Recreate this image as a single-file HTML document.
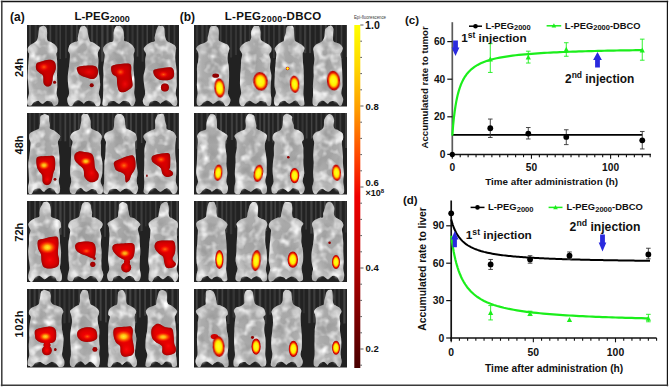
<!DOCTYPE html>
<html><head><meta charset="utf-8"><style>
html,body{margin:0;padding:0;background:#fff;width:669px;height:387px;overflow:hidden}
svg{display:block}
text{fill:#111}
</style></head><body>
<svg width="669" height="387" viewBox="0 0 669 387"><defs>
<filter id="bl" x="-20%" y="-20%" width="140%" height="140%"><feGaussianBlur stdDeviation="0.6"/></filter>
<filter id="bl2" x="-50%" y="-50%" width="200%" height="200%"><feGaussianBlur stdDeviation="1.2"/></filter>
<filter id="bl4" x="-50%" y="-50%" width="200%" height="200%"><feGaussianBlur stdDeviation="1.9"/></filter>
<filter id="bl3" x="-50%" y="-50%" width="200%" height="200%"><feGaussianBlur stdDeviation="2.2"/></filter>
<radialGradient id="mg" cx="50%" cy="50%" r="55%"><stop offset="0" stop-color="#a2a2a2"/><stop offset="0.6" stop-color="#adadad"/><stop offset="0.9" stop-color="#c6c6c6"/><stop offset="1" stop-color="#bababa"/></radialGradient>
<radialGradient id="hr" cx="50%" cy="50%" r="50%"><stop offset="0" stop-color="#ff1010" stop-opacity="0.8"/><stop offset="0.5" stop-color="#ff0505" stop-opacity="0.4"/><stop offset="1" stop-color="#ff0000" stop-opacity="0"/></radialGradient>
<filter id="texw" x="0" y="0" width="100%" height="100%"><feTurbulence type="fractalNoise" baseFrequency="0.11" numOctaves="2" seed="4" result="n"/><feColorMatrix in="n" type="matrix" values="0 0 0 0 1  0 0 0 0 1  0 0 0 0 1  0 0 0 -2.4 1.3" result="w"/><feComposite in="w" in2="SourceAlpha" operator="in"/><feGaussianBlur stdDeviation="0.4"/></filter>
<filter id="texd" x="0" y="0" width="100%" height="100%"><feTurbulence type="fractalNoise" baseFrequency="0.09" numOctaves="2" seed="9" result="n"/><feColorMatrix in="n" type="matrix" values="0 0 0 0 0.3  0 0 0 0 0.3  0 0 0 0 0.3  0 0 0 -2.0 1.05" result="w"/><feComposite in="w" in2="SourceAlpha" operator="in"/><feGaussianBlur stdDeviation="0.5"/></filter>
<radialGradient id="ho" cx="50%" cy="50%" r="50%"><stop offset="0" stop-color="#ff8c10"/><stop offset="0.45" stop-color="#ff5000" stop-opacity="0.7"/><stop offset="1" stop-color="#ff2000" stop-opacity="0"/></radialGradient>
<radialGradient id="hy" cx="50%" cy="50%" r="50%"><stop offset="0" stop-color="#ffe830"/><stop offset="0.3" stop-color="#ffc410"/><stop offset="0.6" stop-color="#ff7000" stop-opacity="0.75"/><stop offset="1" stop-color="#ff2000" stop-opacity="0"/></radialGradient>
<radialGradient id="bg" cx="50%" cy="50%" r="50%"><stop offset="0" stop-color="#ffff20"/><stop offset="0.48" stop-color="#fff200"/><stop offset="0.64" stop-color="#ffa000"/><stop offset="0.8" stop-color="#ee1000"/><stop offset="1" stop-color="#a00000"/></radialGradient>
<linearGradient id="cb" x1="0" y1="0" x2="0" y2="1"><stop offset="0" stop-color="#ffff00"/><stop offset="0.12" stop-color="#ffd800"/><stop offset="0.25" stop-color="#ff9a00"/><stop offset="0.38" stop-color="#ff4800"/><stop offset="0.5" stop-color="#f00000"/><stop offset="0.65" stop-color="#c80000"/><stop offset="0.8" stop-color="#900000"/><stop offset="1" stop-color="#480000"/></linearGradient>
<clipPath id="ca"><rect x="27" y="0" width="152" height="387"/></clipPath>
<clipPath id="cbp"><rect x="194" y="0" width="153" height="387"/></clipPath>
</defs>
<g clip-path="url(#ca)">
<rect x="27" y="25" width="152" height="81.5" fill="#222"/>
<rect x="29.0" y="25" width="2.0" height="26.0" fill="#424242" filter="url(#bl)"/>
<rect x="34.7" y="25" width="2.1" height="25.3" fill="#363636" filter="url(#bl)"/>
<rect x="38.9" y="25" width="1.7" height="27.3" fill="#363636" filter="url(#bl)"/>
<rect x="44.7" y="25" width="2.0" height="31.2" fill="#363636" filter="url(#bl)"/>
<rect x="49.5" y="25" width="1.7" height="26.3" fill="#424242" filter="url(#bl)"/>
<rect x="55.2" y="25" width="2.2" height="32.7" fill="#363636" filter="url(#bl)"/>
<rect x="59.5" y="25" width="1.5" height="34.0" fill="#3c3c3c" filter="url(#bl)"/>
<rect x="65.0" y="25" width="1.9" height="33.2" fill="#363636" filter="url(#bl)"/>
<rect x="70.6" y="25" width="2.2" height="29.7" fill="#3c3c3c" filter="url(#bl)"/>
<rect x="76.0" y="25" width="1.9" height="35.9" fill="#3c3c3c" filter="url(#bl)"/>
<rect x="81.6" y="25" width="1.5" height="30.5" fill="#424242" filter="url(#bl)"/>
<rect x="86.2" y="25" width="1.9" height="32.1" fill="#3c3c3c" filter="url(#bl)"/>
<rect x="90.9" y="25" width="2.3" height="31.5" fill="#3c3c3c" filter="url(#bl)"/>
<rect x="95.9" y="25" width="2.0" height="35.5" fill="#363636" filter="url(#bl)"/>
<rect x="101.2" y="25" width="2.3" height="36.6" fill="#424242" filter="url(#bl)"/>
<rect x="106.5" y="25" width="2.1" height="28.4" fill="#424242" filter="url(#bl)"/>
<rect x="111.6" y="25" width="2.0" height="33.2" fill="#3c3c3c" filter="url(#bl)"/>
<rect x="116.1" y="25" width="1.7" height="26.0" fill="#3c3c3c" filter="url(#bl)"/>
<rect x="121.1" y="25" width="2.4" height="25.5" fill="#3c3c3c" filter="url(#bl)"/>
<rect x="126.6" y="25" width="2.3" height="24.7" fill="#363636" filter="url(#bl)"/>
<rect x="131.4" y="25" width="2.3" height="25.0" fill="#363636" filter="url(#bl)"/>
<rect x="136.6" y="25" width="1.8" height="31.6" fill="#424242" filter="url(#bl)"/>
<rect x="141.7" y="25" width="2.0" height="36.7" fill="#363636" filter="url(#bl)"/>
<rect x="146.4" y="25" width="1.6" height="31.0" fill="#424242" filter="url(#bl)"/>
<rect x="152.1" y="25" width="1.8" height="27.7" fill="#363636" filter="url(#bl)"/>
<rect x="157.4" y="25" width="1.8" height="36.2" fill="#363636" filter="url(#bl)"/>
<rect x="163.1" y="25" width="1.8" height="35.1" fill="#363636" filter="url(#bl)"/>
<rect x="167.9" y="25" width="2.1" height="25.7" fill="#3c3c3c" filter="url(#bl)"/>
<rect x="173.6" y="25" width="1.7" height="32.2" fill="#3c3c3c" filter="url(#bl)"/>
<path id="m1" d="M42.50,26.00 C43.02,25.90 43.60,25.65 44.23,25.98 C44.86,26.32 45.80,26.94 46.27,27.99 C46.75,29.04 46.95,30.75 47.07,32.29 C47.18,33.83 46.87,35.82 46.98,37.24 C47.09,38.65 47.10,39.97 47.73,40.77 C48.36,41.58 49.49,41.32 50.76,42.05 C52.04,42.78 54.32,44.20 55.38,45.16 C56.44,46.12 56.84,46.70 57.13,47.79 C57.43,48.88 57.31,50.66 57.16,51.69 C57.00,52.72 56.23,52.71 56.20,53.97 C56.17,55.23 56.80,56.99 56.98,59.25 C57.16,61.50 57.27,64.82 57.28,67.50 C57.29,70.19 57.01,72.33 57.03,75.36 C57.04,78.38 57.46,82.64 57.37,85.65 C57.28,88.67 56.31,91.11 56.47,93.45 C56.64,95.78 58.21,97.81 58.36,99.66 C58.51,101.52 58.17,103.60 57.36,104.58 C56.55,105.55 54.42,105.99 53.50,105.52 C52.58,105.04 52.87,102.53 51.86,101.72 C50.84,100.91 48.63,100.56 47.40,100.67 C46.16,100.78 45.21,101.88 44.43,102.40 C43.65,102.92 43.35,103.73 42.70,103.79 C42.05,103.86 41.33,103.31 40.56,102.78 C39.79,102.26 39.23,100.76 38.09,100.66 C36.95,100.55 34.89,101.33 33.73,102.15 C32.57,102.97 32.14,105.18 31.10,105.59 C30.07,106.01 28.16,105.56 27.53,104.63 C26.89,103.70 27.06,101.91 27.30,100.03 C27.54,98.15 28.79,95.78 28.96,93.36 C29.13,90.94 28.57,88.44 28.35,85.51 C28.13,82.58 27.68,78.79 27.63,75.79 C27.59,72.80 27.91,70.19 28.10,67.52 C28.29,64.85 28.58,62.02 28.76,59.77 C28.94,57.53 29.32,55.38 29.19,54.03 C29.07,52.68 28.22,52.66 27.99,51.69 C27.76,50.72 27.42,49.32 27.82,48.21 C28.21,47.10 29.37,45.92 30.37,45.04 C31.37,44.16 32.79,43.65 33.82,42.92 C34.86,42.18 35.91,41.55 36.58,40.63 C37.24,39.71 37.47,38.77 37.81,37.39 C38.16,36.02 38.40,33.94 38.65,32.38 C38.91,30.82 38.93,29.00 39.34,28.04 C39.74,27.07 40.57,26.92 41.09,26.58 C41.62,26.24 41.98,26.10 42.50,26.00Z" fill="url(#mg)" filter="url(#bl)"/>
<ellipse cx="42.5" cy="33.1" rx="3.6" ry="5.7" fill="#dcdcdc" opacity="0.7" filter="url(#bl2)"/>
<ellipse cx="33.8" cy="49.5" rx="3.6" ry="4.9" fill="#e6e6e6" opacity="0.6" filter="url(#bl2)"/>
<ellipse cx="51.6" cy="49.5" rx="3.6" ry="4.9" fill="#e6e6e6" opacity="0.6" filter="url(#bl2)"/>
<ellipse cx="32.9" cy="98.4" rx="3.6" ry="4.1" fill="#ececec" opacity="0.7" filter="url(#bl2)"/>
<ellipse cx="52.5" cy="98.4" rx="3.6" ry="4.1" fill="#ececec" opacity="0.7" filter="url(#bl2)"/>
<path id="m2" d="M83.30,26.00 C83.91,25.91 84.27,25.62 84.89,26.08 C85.51,26.54 86.55,27.72 87.01,28.76 C87.47,29.81 87.34,30.89 87.64,32.37 C87.94,33.84 88.42,36.13 88.82,37.60 C89.21,39.07 89.41,40.39 90.02,41.19 C90.64,41.98 91.34,41.69 92.52,42.36 C93.70,43.03 95.84,44.32 97.11,45.22 C98.38,46.11 99.89,46.75 100.13,47.72 C100.37,48.68 98.97,49.95 98.56,51.01 C98.15,52.06 97.70,52.65 97.68,54.06 C97.66,55.46 98.37,57.19 98.45,59.46 C98.53,61.72 98.05,64.90 98.18,67.63 C98.32,70.35 98.95,72.80 99.28,75.79 C99.61,78.77 100.25,82.58 100.17,85.53 C100.10,88.48 98.78,91.18 98.83,93.48 C98.88,95.79 100.29,97.39 100.45,99.35 C100.61,101.32 100.48,104.14 99.79,105.27 C99.09,106.39 97.39,106.68 96.28,106.09 C95.17,105.49 94.44,102.59 93.14,101.69 C91.85,100.80 89.85,100.63 88.51,100.72 C87.18,100.80 85.93,101.66 85.14,102.17 C84.36,102.69 84.28,103.78 83.80,103.79 C83.32,103.81 83.11,102.87 82.27,102.27 C81.44,101.66 80.01,100.29 78.79,100.16 C77.57,100.02 76.03,100.53 74.95,101.45 C73.87,102.37 73.30,105.02 72.30,105.67 C71.29,106.32 69.76,106.39 68.92,105.36 C68.07,104.32 67.19,101.47 67.22,99.45 C67.26,97.42 68.95,95.63 69.10,93.22 C69.26,90.81 68.40,87.82 68.17,84.99 C67.94,82.15 67.61,79.08 67.72,76.20 C67.83,73.32 68.49,70.50 68.83,67.69 C69.18,64.87 69.63,61.61 69.79,59.30 C69.95,56.99 70.04,55.24 69.78,53.84 C69.52,52.45 68.42,51.83 68.22,50.94 C68.01,50.04 68.26,49.56 68.57,48.49 C68.88,47.42 69.09,45.59 70.06,44.51 C71.03,43.42 73.16,42.52 74.41,41.99 C75.67,41.45 77.00,42.06 77.58,41.30 C78.15,40.54 77.63,38.92 77.86,37.42 C78.10,35.92 78.64,33.75 78.99,32.29 C79.35,30.83 79.61,29.62 79.98,28.67 C80.36,27.72 80.66,27.03 81.22,26.59 C81.77,26.14 82.69,26.09 83.30,26.00Z" fill="url(#mg)" filter="url(#bl)"/>
<ellipse cx="83.3" cy="33.1" rx="3.8" ry="5.7" fill="#dcdcdc" opacity="0.7" filter="url(#bl2)"/>
<ellipse cx="74.3" cy="49.5" rx="3.8" ry="4.9" fill="#e6e6e6" opacity="0.6" filter="url(#bl2)"/>
<ellipse cx="93.3" cy="49.5" rx="3.8" ry="4.9" fill="#e6e6e6" opacity="0.6" filter="url(#bl2)"/>
<ellipse cx="73.4" cy="98.4" rx="3.8" ry="4.1" fill="#ececec" opacity="0.7" filter="url(#bl2)"/>
<ellipse cx="94.2" cy="98.4" rx="3.8" ry="4.1" fill="#ececec" opacity="0.7" filter="url(#bl2)"/>
<path id="m3" d="M118.30,26.00 C118.95,25.95 119.43,25.58 120.14,26.05 C120.85,26.53 121.96,27.76 122.55,28.87 C123.13,29.98 123.36,31.28 123.63,32.71 C123.89,34.14 124.05,36.10 124.15,37.46 C124.26,38.82 123.69,40.10 124.27,40.85 C124.84,41.61 126.38,41.36 127.61,41.99 C128.85,42.62 130.57,43.59 131.68,44.63 C132.79,45.68 133.78,47.14 134.26,48.24 C134.74,49.34 134.66,50.16 134.55,51.21 C134.43,52.26 133.68,53.15 133.57,54.54 C133.47,55.93 133.93,57.40 133.91,59.55 C133.89,61.70 133.43,64.79 133.46,67.44 C133.48,70.09 133.84,72.39 134.06,75.44 C134.28,78.49 134.73,82.75 134.76,85.73 C134.79,88.72 134.13,90.96 134.24,93.35 C134.35,95.74 135.51,98.11 135.43,100.07 C135.35,102.04 134.44,104.15 133.76,105.15 C133.08,106.15 132.19,106.63 131.33,106.07 C130.47,105.51 129.88,102.64 128.60,101.77 C127.31,100.90 124.96,100.68 123.61,100.86 C122.26,101.05 121.29,102.39 120.48,102.88 C119.68,103.37 119.50,103.86 118.80,103.79 C118.10,103.73 117.16,102.95 116.31,102.49 C115.46,102.03 114.92,101.19 113.71,101.02 C112.50,100.85 110.11,100.73 109.04,101.47 C107.96,102.21 108.30,104.83 107.26,105.46 C106.22,106.10 103.55,106.19 102.80,105.29 C102.06,104.40 102.75,102.06 102.82,100.10 C102.88,98.14 103.12,95.97 103.18,93.52 C103.25,91.07 103.12,88.44 103.19,85.39 C103.26,82.35 103.62,78.18 103.62,75.26 C103.63,72.33 103.09,70.37 103.19,67.85 C103.30,65.32 103.99,62.34 104.23,60.10 C104.48,57.86 104.83,55.95 104.66,54.43 C104.50,52.91 103.45,52.08 103.22,50.98 C102.99,49.89 102.90,48.86 103.27,47.86 C103.64,46.85 104.35,45.85 105.43,44.93 C106.52,44.01 108.51,42.98 109.78,42.36 C111.05,41.75 112.46,42.09 113.08,41.23 C113.70,40.37 113.42,38.59 113.50,37.19 C113.59,35.78 113.40,34.20 113.60,32.81 C113.79,31.41 114.22,29.88 114.67,28.81 C115.11,27.73 115.65,26.82 116.25,26.35 C116.86,25.88 117.65,26.05 118.30,26.00Z" fill="url(#mg)" filter="url(#bl)"/>
<ellipse cx="118.3" cy="33.1" rx="3.8" ry="5.7" fill="#dcdcdc" opacity="0.7" filter="url(#bl2)"/>
<ellipse cx="109.3" cy="49.5" rx="3.8" ry="4.9" fill="#e6e6e6" opacity="0.6" filter="url(#bl2)"/>
<ellipse cx="128.3" cy="49.5" rx="3.8" ry="4.9" fill="#e6e6e6" opacity="0.6" filter="url(#bl2)"/>
<ellipse cx="108.4" cy="98.4" rx="3.8" ry="4.1" fill="#ececec" opacity="0.7" filter="url(#bl2)"/>
<ellipse cx="129.2" cy="98.4" rx="3.8" ry="4.1" fill="#ececec" opacity="0.7" filter="url(#bl2)"/>
<path id="m4" d="M160.30,26.00 C160.96,25.98 161.81,25.51 162.45,25.86 C163.09,26.21 163.79,26.96 164.13,28.10 C164.48,29.24 164.36,31.19 164.54,32.70 C164.73,34.22 164.88,35.84 165.25,37.20 C165.63,38.57 166.08,40.02 166.79,40.89 C167.50,41.77 168.26,41.75 169.53,42.46 C170.79,43.16 173.30,44.18 174.39,45.12 C175.48,46.06 175.88,47.13 176.09,48.11 C176.29,49.10 175.75,50.05 175.62,51.05 C175.49,52.04 175.37,52.60 175.33,54.08 C175.28,55.56 175.21,57.67 175.38,59.93 C175.54,62.20 176.12,65.02 176.32,67.65 C176.52,70.28 176.53,72.75 176.58,75.73 C176.63,78.71 176.76,82.59 176.62,85.53 C176.47,88.48 175.62,90.95 175.72,93.40 C175.82,95.85 177.09,98.22 177.22,100.21 C177.36,102.20 177.19,104.47 176.53,105.36 C175.87,106.25 174.33,106.09 173.26,105.57 C172.20,105.04 171.35,103.10 170.16,102.22 C168.97,101.33 167.52,100.18 166.12,100.24 C164.72,100.29 162.73,101.94 161.76,102.54 C160.79,103.13 160.78,103.83 160.30,103.79 C159.82,103.76 159.71,102.85 158.90,102.34 C158.10,101.83 156.94,100.78 155.48,100.75 C154.02,100.72 151.34,101.29 150.15,102.17 C148.96,103.05 149.37,105.59 148.36,106.01 C147.36,106.42 145.04,105.62 144.12,104.65 C143.20,103.69 142.67,102.04 142.85,100.23 C143.03,98.43 144.97,96.29 145.18,93.80 C145.39,91.32 144.41,88.30 144.13,85.34 C143.86,82.38 143.34,78.99 143.52,76.04 C143.71,73.09 144.96,70.39 145.26,67.64 C145.55,64.89 145.16,61.82 145.28,59.53 C145.41,57.24 146.18,55.35 146.03,53.90 C145.87,52.44 144.71,51.78 144.36,50.80 C144.01,49.82 143.50,49.02 143.93,48.00 C144.35,46.98 145.78,45.61 146.91,44.68 C148.04,43.76 149.39,43.02 150.68,42.45 C151.98,41.89 154.03,42.10 154.67,41.30 C155.32,40.51 154.34,39.20 154.54,37.68 C154.75,36.16 155.52,33.69 155.93,32.19 C156.33,30.69 156.56,29.71 156.99,28.67 C157.41,27.64 157.93,26.41 158.48,25.96 C159.03,25.52 159.64,26.02 160.30,26.00Z" fill="url(#mg)" filter="url(#bl)"/>
<ellipse cx="160.3" cy="33.1" rx="3.9" ry="5.7" fill="#dcdcdc" opacity="0.7" filter="url(#bl2)"/>
<ellipse cx="150.5" cy="49.5" rx="3.9" ry="4.9" fill="#e6e6e6" opacity="0.6" filter="url(#bl2)"/>
<ellipse cx="170.1" cy="49.5" rx="3.9" ry="4.9" fill="#e6e6e6" opacity="0.6" filter="url(#bl2)"/>
<ellipse cx="149.5" cy="98.4" rx="3.9" ry="4.1" fill="#ececec" opacity="0.7" filter="url(#bl2)"/>
<ellipse cx="171.1" cy="98.4" rx="3.9" ry="4.1" fill="#ececec" opacity="0.7" filter="url(#bl2)"/>
<g filter="url(#texw)"><use href="#m1" fill="#000" filter="none"/><use href="#m2" fill="#000" filter="none"/><use href="#m3" fill="#000" filter="none"/><use href="#m4" fill="#000" filter="none"/></g>
<g filter="url(#texd)"><use href="#m1" fill="#000" filter="none"/><use href="#m2" fill="#000" filter="none"/><use href="#m3" fill="#000" filter="none"/><use href="#m4" fill="#000" filter="none"/></g>
<clipPath id="bc5"><path d="M36.30,63.90 C37.00,62.60 38.42,62.50 40.50,61.80 C42.58,61.10 46.63,59.87 48.80,59.70 C50.97,59.53 52.37,60.02 53.50,60.80 C54.63,61.58 55.25,62.93 55.60,64.40 C55.95,65.87 56.03,67.68 55.60,69.60 C55.17,71.52 53.52,74.07 53.00,75.90 C52.48,77.73 52.85,79.03 52.50,80.60 C52.15,82.17 51.87,84.33 50.90,85.30 C49.93,86.27 47.92,86.73 46.70,86.40 C45.48,86.07 44.20,85.05 43.60,83.30 C43.00,81.55 43.80,77.65 43.10,75.90 C42.40,74.15 40.53,73.85 39.40,72.80 C38.27,71.75 36.82,71.08 36.30,69.60 C35.78,68.12 35.60,65.20 36.30,63.90Z"/><ellipse cx="54.6" cy="82.2" rx="1.5" ry="1.5"/></clipPath>
<g fill="#780000" filter="url(#bl)"><path d="M36.30,63.90 C37.00,62.60 38.42,62.50 40.50,61.80 C42.58,61.10 46.63,59.87 48.80,59.70 C50.97,59.53 52.37,60.02 53.50,60.80 C54.63,61.58 55.25,62.93 55.60,64.40 C55.95,65.87 56.03,67.68 55.60,69.60 C55.17,71.52 53.52,74.07 53.00,75.90 C52.48,77.73 52.85,79.03 52.50,80.60 C52.15,82.17 51.87,84.33 50.90,85.30 C49.93,86.27 47.92,86.73 46.70,86.40 C45.48,86.07 44.20,85.05 43.60,83.30 C43.00,81.55 43.80,77.65 43.10,75.90 C42.40,74.15 40.53,73.85 39.40,72.80 C38.27,71.75 36.82,71.08 36.30,69.60 C35.78,68.12 35.60,65.20 36.30,63.90Z"/><ellipse cx="54.6" cy="82.2" rx="1.5" ry="1.5"/></g>
<g clip-path="url(#bc5)"><g fill="#cc0000" filter="url(#bl4)"><path d="M36.30,63.90 C37.00,62.60 38.42,62.50 40.50,61.80 C42.58,61.10 46.63,59.87 48.80,59.70 C50.97,59.53 52.37,60.02 53.50,60.80 C54.63,61.58 55.25,62.93 55.60,64.40 C55.95,65.87 56.03,67.68 55.60,69.60 C55.17,71.52 53.52,74.07 53.00,75.90 C52.48,77.73 52.85,79.03 52.50,80.60 C52.15,82.17 51.87,84.33 50.90,85.30 C49.93,86.27 47.92,86.73 46.70,86.40 C45.48,86.07 44.20,85.05 43.60,83.30 C43.00,81.55 43.80,77.65 43.10,75.90 C42.40,74.15 40.53,73.85 39.40,72.80 C38.27,71.75 36.82,71.08 36.30,69.60 C35.78,68.12 35.60,65.20 36.30,63.90Z"/><ellipse cx="54.6" cy="82.2" rx="1.5" ry="1.5"/></g></g>
<ellipse cx="44" cy="67" rx="7" ry="5" fill="url(#hr)" opacity="1" clip-path="url(#bc5)"/>
<ellipse cx="44" cy="67" rx="4.2" ry="3.5" fill="url(#ho)" opacity="0.6" clip-path="url(#bc5)"/>
<clipPath id="bc6"><path d="M77.10,67.60 C77.88,66.65 80.03,66.35 82.30,66.00 C84.57,65.65 88.43,65.42 90.70,65.50 C92.97,65.58 94.68,65.63 95.90,66.50 C97.12,67.37 97.82,69.13 98.00,70.70 C98.18,72.27 97.87,74.52 97.00,75.90 C96.13,77.28 94.55,78.73 92.80,79.00 C91.05,79.27 88.60,78.18 86.50,77.50 C84.40,76.82 81.68,75.87 80.20,74.90 C78.72,73.93 78.12,72.92 77.60,71.70 C77.08,70.48 76.32,68.55 77.10,67.60Z"/><ellipse cx="91.7" cy="85.3" rx="2" ry="2"/></clipPath>
<g fill="#780000" filter="url(#bl)"><path d="M77.10,67.60 C77.88,66.65 80.03,66.35 82.30,66.00 C84.57,65.65 88.43,65.42 90.70,65.50 C92.97,65.58 94.68,65.63 95.90,66.50 C97.12,67.37 97.82,69.13 98.00,70.70 C98.18,72.27 97.87,74.52 97.00,75.90 C96.13,77.28 94.55,78.73 92.80,79.00 C91.05,79.27 88.60,78.18 86.50,77.50 C84.40,76.82 81.68,75.87 80.20,74.90 C78.72,73.93 78.12,72.92 77.60,71.70 C77.08,70.48 76.32,68.55 77.10,67.60Z"/><ellipse cx="91.7" cy="85.3" rx="2" ry="2"/></g>
<g clip-path="url(#bc6)"><g fill="#cc0000" filter="url(#bl4)"><path d="M77.10,67.60 C77.88,66.65 80.03,66.35 82.30,66.00 C84.57,65.65 88.43,65.42 90.70,65.50 C92.97,65.58 94.68,65.63 95.90,66.50 C97.12,67.37 97.82,69.13 98.00,70.70 C98.18,72.27 97.87,74.52 97.00,75.90 C96.13,77.28 94.55,78.73 92.80,79.00 C91.05,79.27 88.60,78.18 86.50,77.50 C84.40,76.82 81.68,75.87 80.20,74.90 C78.72,73.93 78.12,72.92 77.60,71.70 C77.08,70.48 76.32,68.55 77.10,67.60Z"/><ellipse cx="91.7" cy="85.3" rx="2" ry="2"/></g></g>
<ellipse cx="89" cy="72" rx="6" ry="4" fill="url(#hr)" opacity="0.7" clip-path="url(#bc6)"/>
<clipPath id="bc7"><path d="M111.40,66.60 C111.88,65.53 112.47,65.38 114.30,64.90 C116.13,64.42 119.88,63.90 122.40,63.70 C124.92,63.50 127.93,63.22 129.40,63.70 C130.87,64.18 130.90,64.95 131.20,66.60 C131.50,68.25 131.02,71.08 131.20,73.60 C131.38,76.12 132.12,79.57 132.30,81.70 C132.48,83.83 132.97,85.03 132.30,86.40 C131.63,87.77 129.75,88.93 128.30,89.90 C126.85,90.87 125.15,92.02 123.60,92.20 C122.05,92.38 120.07,92.35 119.00,91.00 C117.93,89.65 117.60,86.42 117.20,84.10 C116.80,81.78 117.28,78.65 116.60,77.10 C115.92,75.55 113.97,75.77 113.10,74.80 C112.23,73.83 111.68,72.67 111.40,71.30 C111.12,69.93 110.92,67.67 111.40,66.60Z"/></clipPath>
<g fill="#780000" filter="url(#bl)"><path d="M111.40,66.60 C111.88,65.53 112.47,65.38 114.30,64.90 C116.13,64.42 119.88,63.90 122.40,63.70 C124.92,63.50 127.93,63.22 129.40,63.70 C130.87,64.18 130.90,64.95 131.20,66.60 C131.50,68.25 131.02,71.08 131.20,73.60 C131.38,76.12 132.12,79.57 132.30,81.70 C132.48,83.83 132.97,85.03 132.30,86.40 C131.63,87.77 129.75,88.93 128.30,89.90 C126.85,90.87 125.15,92.02 123.60,92.20 C122.05,92.38 120.07,92.35 119.00,91.00 C117.93,89.65 117.60,86.42 117.20,84.10 C116.80,81.78 117.28,78.65 116.60,77.10 C115.92,75.55 113.97,75.77 113.10,74.80 C112.23,73.83 111.68,72.67 111.40,71.30 C111.12,69.93 110.92,67.67 111.40,66.60Z"/></g>
<g clip-path="url(#bc7)"><g fill="#cc0000" filter="url(#bl4)"><path d="M111.40,66.60 C111.88,65.53 112.47,65.38 114.30,64.90 C116.13,64.42 119.88,63.90 122.40,63.70 C124.92,63.50 127.93,63.22 129.40,63.70 C130.87,64.18 130.90,64.95 131.20,66.60 C131.50,68.25 131.02,71.08 131.20,73.60 C131.38,76.12 132.12,79.57 132.30,81.70 C132.48,83.83 132.97,85.03 132.30,86.40 C131.63,87.77 129.75,88.93 128.30,89.90 C126.85,90.87 125.15,92.02 123.60,92.20 C122.05,92.38 120.07,92.35 119.00,91.00 C117.93,89.65 117.60,86.42 117.20,84.10 C116.80,81.78 117.28,78.65 116.60,77.10 C115.92,75.55 113.97,75.77 113.10,74.80 C112.23,73.83 111.68,72.67 111.40,71.30 C111.12,69.93 110.92,67.67 111.40,66.60Z"/></g></g>
<ellipse cx="120.5" cy="72" rx="6" ry="5" fill="url(#hr)" opacity="1" clip-path="url(#bc7)"/>
<ellipse cx="120.5" cy="72" rx="4.2" ry="3.5" fill="url(#ho)" opacity="0.7" clip-path="url(#bc7)"/>
<ellipse cx="125" cy="84" rx="4" ry="5" fill="url(#hr)" opacity="0.8" clip-path="url(#bc7)"/>
<clipPath id="bc8"><path d="M153.80,70.10 C154.78,69.13 156.98,68.88 159.70,68.40 C162.42,67.92 167.78,66.92 170.10,67.20 C172.42,67.48 173.02,68.45 173.60,70.10 C174.18,71.75 174.37,75.45 173.60,77.10 C172.83,78.75 171.13,79.52 169.00,80.00 C166.87,80.48 162.93,80.38 160.80,80.00 C158.67,79.62 157.37,78.67 156.20,77.70 C155.03,76.73 154.20,75.47 153.80,74.20 C153.40,72.93 152.82,71.07 153.80,70.10Z"/><ellipse cx="164.9" cy="87.6" rx="4" ry="4"/></clipPath>
<g fill="#780000" filter="url(#bl)"><path d="M153.80,70.10 C154.78,69.13 156.98,68.88 159.70,68.40 C162.42,67.92 167.78,66.92 170.10,67.20 C172.42,67.48 173.02,68.45 173.60,70.10 C174.18,71.75 174.37,75.45 173.60,77.10 C172.83,78.75 171.13,79.52 169.00,80.00 C166.87,80.48 162.93,80.38 160.80,80.00 C158.67,79.62 157.37,78.67 156.20,77.70 C155.03,76.73 154.20,75.47 153.80,74.20 C153.40,72.93 152.82,71.07 153.80,70.10Z"/><ellipse cx="164.9" cy="87.6" rx="4" ry="4"/></g>
<g clip-path="url(#bc8)"><g fill="#cc0000" filter="url(#bl4)"><path d="M153.80,70.10 C154.78,69.13 156.98,68.88 159.70,68.40 C162.42,67.92 167.78,66.92 170.10,67.20 C172.42,67.48 173.02,68.45 173.60,70.10 C174.18,71.75 174.37,75.45 173.60,77.10 C172.83,78.75 171.13,79.52 169.00,80.00 C166.87,80.48 162.93,80.38 160.80,80.00 C158.67,79.62 157.37,78.67 156.20,77.70 C155.03,76.73 154.20,75.47 153.80,74.20 C153.40,72.93 152.82,71.07 153.80,70.10Z"/><ellipse cx="164.9" cy="87.6" rx="4" ry="4"/></g></g>
<ellipse cx="163.5" cy="74.5" rx="6" ry="4" fill="url(#hr)" opacity="1" clip-path="url(#bc8)"/>
<ellipse cx="163.5" cy="74.5" rx="4.2" ry="2.8" fill="url(#ho)" opacity="0.6" clip-path="url(#bc8)"/>
</g>
<g clip-path="url(#ca)">
<rect x="27" y="113" width="152" height="81.5" fill="#222"/>
<rect x="29.0" y="113" width="1.9" height="27.6" fill="#363636" filter="url(#bl)"/>
<rect x="33.7" y="113" width="1.5" height="29.5" fill="#363636" filter="url(#bl)"/>
<rect x="38.8" y="113" width="1.8" height="31.7" fill="#424242" filter="url(#bl)"/>
<rect x="43.2" y="113" width="2.1" height="30.1" fill="#3c3c3c" filter="url(#bl)"/>
<rect x="48.5" y="113" width="2.0" height="27.9" fill="#363636" filter="url(#bl)"/>
<rect x="53.5" y="113" width="1.6" height="32.7" fill="#3c3c3c" filter="url(#bl)"/>
<rect x="59.2" y="113" width="2.1" height="28.1" fill="#363636" filter="url(#bl)"/>
<rect x="64.4" y="113" width="1.8" height="28.3" fill="#424242" filter="url(#bl)"/>
<rect x="69.2" y="113" width="1.7" height="34.1" fill="#3c3c3c" filter="url(#bl)"/>
<rect x="73.6" y="113" width="2.4" height="32.8" fill="#424242" filter="url(#bl)"/>
<rect x="78.0" y="113" width="1.7" height="34.3" fill="#3c3c3c" filter="url(#bl)"/>
<rect x="82.6" y="113" width="2.1" height="32.4" fill="#424242" filter="url(#bl)"/>
<rect x="86.9" y="113" width="1.8" height="28.5" fill="#3c3c3c" filter="url(#bl)"/>
<rect x="92.4" y="113" width="2.2" height="36.2" fill="#363636" filter="url(#bl)"/>
<rect x="96.8" y="113" width="2.1" height="35.3" fill="#3c3c3c" filter="url(#bl)"/>
<rect x="101.7" y="113" width="2.2" height="24.9" fill="#424242" filter="url(#bl)"/>
<rect x="107.4" y="113" width="2.2" height="34.7" fill="#363636" filter="url(#bl)"/>
<rect x="111.9" y="113" width="1.8" height="34.6" fill="#363636" filter="url(#bl)"/>
<rect x="116.3" y="113" width="1.8" height="26.0" fill="#3c3c3c" filter="url(#bl)"/>
<rect x="120.9" y="113" width="1.9" height="32.2" fill="#363636" filter="url(#bl)"/>
<rect x="125.6" y="113" width="1.9" height="35.7" fill="#3c3c3c" filter="url(#bl)"/>
<rect x="130.0" y="113" width="1.9" height="34.6" fill="#424242" filter="url(#bl)"/>
<rect x="135.2" y="113" width="1.9" height="36.1" fill="#3c3c3c" filter="url(#bl)"/>
<rect x="140.9" y="113" width="1.5" height="30.0" fill="#424242" filter="url(#bl)"/>
<rect x="146.3" y="113" width="2.0" height="28.0" fill="#3c3c3c" filter="url(#bl)"/>
<rect x="151.1" y="113" width="2.3" height="34.9" fill="#424242" filter="url(#bl)"/>
<rect x="156.8" y="113" width="2.2" height="25.0" fill="#424242" filter="url(#bl)"/>
<rect x="162.5" y="113" width="2.0" height="26.9" fill="#3c3c3c" filter="url(#bl)"/>
<rect x="168.1" y="113" width="2.0" height="24.6" fill="#363636" filter="url(#bl)"/>
<rect x="173.5" y="113" width="2.0" height="27.4" fill="#424242" filter="url(#bl)"/>
<rect x="177.7" y="113" width="1.9" height="35.9" fill="#3c3c3c" filter="url(#bl)"/>
<path id="m9" d="M44.80,114.00 C45.41,113.99 46.04,114.35 46.73,114.72 C47.42,115.08 48.57,115.16 48.93,116.17 C49.30,117.19 48.78,119.28 48.93,120.82 C49.08,122.36 49.66,124.16 49.83,125.42 C49.99,126.69 49.28,127.59 49.94,128.41 C50.60,129.24 52.56,129.56 53.80,130.37 C55.04,131.18 56.30,132.27 57.37,133.27 C58.43,134.26 59.96,135.29 60.21,136.35 C60.46,137.40 59.23,138.59 58.85,139.61 C58.46,140.62 57.91,141.10 57.88,142.42 C57.85,143.74 58.45,145.25 58.68,147.53 C58.92,149.81 59.13,153.47 59.28,156.11 C59.42,158.75 59.42,160.54 59.55,163.37 C59.68,166.20 60.17,170.15 60.03,173.10 C59.90,176.04 58.72,178.64 58.72,181.04 C58.73,183.44 59.94,185.54 60.06,187.50 C60.18,189.46 60.03,191.79 59.45,192.81 C58.86,193.83 57.50,194.15 56.55,193.60 C55.59,193.04 54.92,190.39 53.70,189.48 C52.48,188.57 50.57,188.01 49.25,188.12 C47.94,188.23 46.66,189.51 45.83,190.12 C44.99,190.74 44.88,191.71 44.25,191.79 C43.62,191.88 42.87,191.18 42.07,190.64 C41.27,190.10 40.75,188.77 39.44,188.56 C38.14,188.36 35.51,188.55 34.25,189.41 C32.99,190.27 32.78,193.08 31.88,193.73 C30.97,194.39 29.47,194.31 28.82,193.32 C28.18,192.33 27.97,189.70 28.00,187.79 C28.04,185.88 28.94,184.19 29.05,181.83 C29.17,179.48 28.81,176.66 28.70,173.67 C28.59,170.67 28.28,166.87 28.40,163.85 C28.52,160.84 29.09,158.31 29.41,155.56 C29.73,152.80 30.12,149.54 30.32,147.33 C30.52,145.12 30.76,143.70 30.62,142.30 C30.47,140.90 29.70,139.93 29.44,138.94 C29.18,137.95 28.91,137.37 29.06,136.38 C29.21,135.40 29.27,134.04 30.35,133.01 C31.44,131.98 34.17,130.90 35.57,130.19 C36.97,129.49 38.04,129.63 38.74,128.80 C39.44,127.96 39.53,126.50 39.78,125.18 C40.03,123.85 40.12,122.31 40.22,120.86 C40.31,119.41 39.90,117.47 40.37,116.45 C40.84,115.44 42.32,115.18 43.06,114.77 C43.80,114.36 44.19,114.01 44.80,114.00Z" fill="url(#mg)" filter="url(#bl)"/>
<ellipse cx="44.8" cy="121.2" rx="3.8" ry="5.7" fill="#dcdcdc" opacity="0.7" filter="url(#bl2)"/>
<ellipse cx="34.8" cy="137.4" rx="3.8" ry="4.9" fill="#e6e6e6" opacity="0.6" filter="url(#bl2)"/>
<ellipse cx="53.7" cy="137.4" rx="3.8" ry="4.9" fill="#e6e6e6" opacity="0.6" filter="url(#bl2)"/>
<ellipse cx="33.9" cy="186.4" rx="3.8" ry="4.1" fill="#ececec" opacity="0.7" filter="url(#bl2)"/>
<ellipse cx="54.6" cy="186.4" rx="3.8" ry="4.1" fill="#ececec" opacity="0.7" filter="url(#bl2)"/>
<path id="m10" d="M85.60,114.00 C86.26,114.06 86.88,113.80 87.41,114.18 C87.95,114.56 88.30,115.25 88.81,116.29 C89.32,117.33 90.15,118.93 90.47,120.42 C90.78,121.91 90.58,123.87 90.72,125.23 C90.87,126.60 90.70,127.76 91.36,128.61 C92.01,129.46 93.37,129.71 94.66,130.34 C95.94,130.97 97.89,131.48 99.06,132.39 C100.24,133.30 101.29,134.65 101.69,135.80 C102.09,136.95 101.64,138.22 101.48,139.29 C101.32,140.36 100.82,140.76 100.74,142.22 C100.66,143.68 100.96,145.83 101.01,148.05 C101.07,150.27 100.83,152.98 101.07,155.54 C101.31,158.09 102.25,160.40 102.45,163.39 C102.65,166.38 102.59,170.44 102.28,173.49 C101.98,176.54 100.50,179.29 100.64,181.69 C100.78,184.09 102.90,185.97 103.12,187.91 C103.35,189.84 102.87,192.31 101.98,193.30 C101.09,194.28 98.81,194.35 97.77,193.82 C96.72,193.29 96.69,190.93 95.71,190.11 C94.72,189.29 93.07,188.76 91.83,188.90 C90.59,189.04 89.18,190.49 88.25,190.97 C87.32,191.45 86.94,191.83 86.25,191.79 C85.56,191.76 84.94,191.39 84.13,190.78 C83.32,190.17 82.54,188.32 81.39,188.13 C80.25,187.95 78.36,188.66 77.26,189.65 C76.16,190.65 75.86,193.54 74.78,194.12 C73.69,194.70 71.59,194.15 70.74,193.12 C69.90,192.09 69.62,190.00 69.71,187.96 C69.80,185.92 71.23,183.29 71.30,180.89 C71.37,178.49 70.23,176.44 70.12,173.59 C70.02,170.73 70.49,166.81 70.65,163.76 C70.81,160.71 70.95,158.01 71.09,155.29 C71.22,152.57 71.21,149.69 71.46,147.45 C71.72,145.21 72.71,143.26 72.61,141.84 C72.51,140.43 71.25,139.87 70.84,138.98 C70.43,138.09 69.87,137.55 70.16,136.51 C70.44,135.47 71.44,133.72 72.57,132.73 C73.70,131.75 75.75,131.25 76.94,130.62 C78.13,129.99 79.09,129.92 79.68,128.95 C80.28,127.98 80.21,126.28 80.51,124.82 C80.82,123.36 81.31,121.61 81.49,120.18 C81.66,118.75 81.24,117.27 81.57,116.22 C81.90,115.16 82.79,114.22 83.46,113.85 C84.13,113.48 84.94,113.94 85.60,114.00Z" fill="url(#mg)" filter="url(#bl)"/>
<ellipse cx="85.6" cy="121.2" rx="3.8" ry="5.7" fill="#dcdcdc" opacity="0.7" filter="url(#bl2)"/>
<ellipse cx="76.8" cy="137.4" rx="3.8" ry="4.9" fill="#e6e6e6" opacity="0.6" filter="url(#bl2)"/>
<ellipse cx="95.7" cy="137.4" rx="3.8" ry="4.9" fill="#e6e6e6" opacity="0.6" filter="url(#bl2)"/>
<ellipse cx="75.9" cy="186.4" rx="3.8" ry="4.1" fill="#ececec" opacity="0.7" filter="url(#bl2)"/>
<ellipse cx="96.6" cy="186.4" rx="3.8" ry="4.1" fill="#ececec" opacity="0.7" filter="url(#bl2)"/>
<path id="m11" d="M119.40,114.00 C119.97,114.04 120.25,113.67 120.97,114.10 C121.69,114.53 123.06,115.57 123.71,116.59 C124.35,117.61 124.59,118.78 124.87,120.21 C125.14,121.65 125.14,123.82 125.38,125.19 C125.62,126.57 125.48,127.64 126.29,128.47 C127.10,129.30 128.76,129.35 130.23,130.15 C131.70,130.95 134.10,132.29 135.10,133.27 C136.11,134.24 135.99,134.94 136.27,136.02 C136.55,137.09 136.93,138.74 136.76,139.71 C136.60,140.69 135.53,140.45 135.28,141.85 C135.04,143.25 135.21,145.79 135.30,148.11 C135.38,150.44 135.62,153.18 135.79,155.78 C135.97,158.39 136.06,160.88 136.36,163.75 C136.66,166.62 137.56,170.06 137.60,172.99 C137.64,175.93 136.50,178.88 136.60,181.38 C136.69,183.87 138.22,185.98 138.17,187.98 C138.12,189.98 137.17,192.49 136.32,193.38 C135.46,194.27 134.12,193.94 133.02,193.34 C131.93,192.74 130.94,190.61 129.74,189.78 C128.55,188.96 127.17,188.29 125.88,188.40 C124.59,188.51 122.90,189.87 122.01,190.44 C121.11,191.01 121.04,191.71 120.50,191.79 C119.96,191.87 119.56,191.41 118.76,190.92 C117.96,190.42 117.15,189.08 115.71,188.83 C114.28,188.58 111.54,188.56 110.15,189.42 C108.77,190.29 108.46,193.44 107.40,194.00 C106.34,194.57 104.45,193.85 103.80,192.79 C103.15,191.74 103.45,189.57 103.51,187.68 C103.57,185.79 104.05,183.85 104.17,181.45 C104.28,179.05 104.13,176.31 104.18,173.28 C104.23,170.25 104.27,166.16 104.46,163.29 C104.66,160.41 105.16,158.56 105.35,156.03 C105.54,153.50 105.50,150.47 105.60,148.10 C105.71,145.74 106.14,143.37 105.98,141.84 C105.82,140.32 104.96,139.86 104.65,138.96 C104.33,138.07 103.94,137.46 104.10,136.49 C104.25,135.52 104.52,134.09 105.58,133.15 C106.63,132.20 109.15,131.55 110.43,130.84 C111.70,130.13 112.61,129.89 113.23,128.88 C113.85,127.88 113.96,126.21 114.16,124.79 C114.36,123.38 114.26,121.74 114.43,120.37 C114.61,118.99 114.71,117.63 115.22,116.55 C115.74,115.46 116.84,114.31 117.53,113.89 C118.23,113.46 118.83,113.96 119.40,114.00Z" fill="url(#mg)" filter="url(#bl)"/>
<ellipse cx="119.4" cy="121.2" rx="4.0" ry="5.7" fill="#dcdcdc" opacity="0.7" filter="url(#bl2)"/>
<ellipse cx="110.6" cy="137.4" rx="4.0" ry="4.9" fill="#e6e6e6" opacity="0.6" filter="url(#bl2)"/>
<ellipse cx="130.4" cy="137.4" rx="4.0" ry="4.9" fill="#e6e6e6" opacity="0.6" filter="url(#bl2)"/>
<ellipse cx="109.6" cy="186.4" rx="4.0" ry="4.1" fill="#ececec" opacity="0.7" filter="url(#bl2)"/>
<ellipse cx="131.4" cy="186.4" rx="4.0" ry="4.1" fill="#ececec" opacity="0.7" filter="url(#bl2)"/>
<path id="m12" d="M160.30,114.00 C161.13,113.91 162.33,113.59 162.98,113.96 C163.62,114.34 163.85,115.14 164.18,116.26 C164.50,117.37 164.57,119.19 164.93,120.65 C165.28,122.10 166.00,123.66 166.30,125.00 C166.60,126.33 166.11,127.75 166.70,128.65 C167.29,129.54 168.63,129.69 169.83,130.34 C171.03,130.99 172.82,131.50 173.88,132.52 C174.95,133.54 175.88,135.37 176.22,136.45 C176.56,137.52 176.06,137.98 175.94,138.99 C175.82,140.01 175.62,141.16 175.50,142.55 C175.38,143.94 175.25,145.21 175.23,147.34 C175.21,149.46 175.22,152.64 175.38,155.31 C175.55,157.98 176.08,160.36 176.23,163.33 C176.38,166.30 176.32,170.05 176.26,173.12 C176.20,176.18 175.66,179.31 175.88,181.74 C176.10,184.17 177.53,185.82 177.58,187.70 C177.63,189.58 177.00,192.03 176.16,193.02 C175.32,194.01 173.64,194.22 172.53,193.64 C171.42,193.07 170.55,190.48 169.51,189.57 C168.47,188.67 167.50,188.04 166.29,188.23 C165.08,188.42 163.26,190.12 162.26,190.72 C161.26,191.31 161.03,191.86 160.30,191.79 C159.57,191.73 158.72,190.89 157.87,190.32 C157.02,189.74 156.42,188.44 155.22,188.34 C154.02,188.25 151.97,188.77 150.65,189.74 C149.33,190.70 148.46,193.67 147.32,194.13 C146.18,194.60 144.40,193.56 143.84,192.54 C143.28,191.51 143.88,189.85 143.96,187.99 C144.03,186.12 144.31,183.86 144.30,181.34 C144.29,178.82 143.89,175.73 143.89,172.87 C143.89,170.00 144.22,166.94 144.30,164.13 C144.39,161.33 144.33,158.83 144.39,156.05 C144.45,153.26 144.40,149.83 144.69,147.44 C144.98,145.06 146.15,143.07 146.14,141.74 C146.13,140.40 145.08,140.35 144.62,139.44 C144.17,138.53 143.18,137.32 143.42,136.27 C143.67,135.21 144.84,134.06 146.09,133.10 C147.34,132.14 149.47,131.16 150.90,130.49 C152.34,129.83 153.98,129.92 154.71,129.11 C155.43,128.30 155.18,127.11 155.27,125.63 C155.36,124.15 154.95,121.80 155.22,120.23 C155.49,118.65 156.41,117.12 156.87,116.17 C157.34,115.21 157.43,114.87 158.00,114.51 C158.57,114.15 159.47,114.09 160.30,114.00Z" fill="url(#mg)" filter="url(#bl)"/>
<ellipse cx="160.3" cy="121.2" rx="3.9" ry="5.7" fill="#dcdcdc" opacity="0.7" filter="url(#bl2)"/>
<ellipse cx="150.5" cy="137.4" rx="3.9" ry="4.9" fill="#e6e6e6" opacity="0.6" filter="url(#bl2)"/>
<ellipse cx="170.1" cy="137.4" rx="3.9" ry="4.9" fill="#e6e6e6" opacity="0.6" filter="url(#bl2)"/>
<ellipse cx="149.5" cy="186.4" rx="3.9" ry="4.1" fill="#ececec" opacity="0.7" filter="url(#bl2)"/>
<ellipse cx="171.1" cy="186.4" rx="3.9" ry="4.1" fill="#ececec" opacity="0.7" filter="url(#bl2)"/>
<g filter="url(#texw)"><use href="#m9" fill="#000" filter="none"/><use href="#m10" fill="#000" filter="none"/><use href="#m11" fill="#000" filter="none"/><use href="#m12" fill="#000" filter="none"/></g>
<g filter="url(#texd)"><use href="#m9" fill="#000" filter="none"/><use href="#m10" fill="#000" filter="none"/><use href="#m11" fill="#000" filter="none"/><use href="#m12" fill="#000" filter="none"/></g>
<clipPath id="bc13"><path d="M36.40,159.00 C36.78,157.25 37.47,157.10 39.30,156.60 C41.13,156.10 45.07,156.10 47.40,156.00 C49.73,155.90 52.03,155.32 53.30,156.00 C54.57,156.68 54.72,158.05 55.00,160.10 C55.28,162.15 55.28,166.17 55.00,168.30 C54.72,170.43 53.78,171.17 53.30,172.90 C52.82,174.63 52.60,176.95 52.10,178.70 C51.60,180.45 51.27,182.33 50.30,183.40 C49.33,184.47 47.55,185.30 46.30,185.10 C45.05,184.90 43.48,183.85 42.80,182.20 C42.12,180.55 42.78,176.95 42.20,175.20 C41.62,173.45 40.17,173.05 39.30,171.70 C38.43,170.35 37.48,169.22 37.00,167.10 C36.52,164.98 36.02,160.75 36.40,159.00Z"/><ellipse cx="55" cy="179.3" rx="1.4" ry="1.4"/></clipPath>
<g fill="#780000" filter="url(#bl)"><path d="M36.40,159.00 C36.78,157.25 37.47,157.10 39.30,156.60 C41.13,156.10 45.07,156.10 47.40,156.00 C49.73,155.90 52.03,155.32 53.30,156.00 C54.57,156.68 54.72,158.05 55.00,160.10 C55.28,162.15 55.28,166.17 55.00,168.30 C54.72,170.43 53.78,171.17 53.30,172.90 C52.82,174.63 52.60,176.95 52.10,178.70 C51.60,180.45 51.27,182.33 50.30,183.40 C49.33,184.47 47.55,185.30 46.30,185.10 C45.05,184.90 43.48,183.85 42.80,182.20 C42.12,180.55 42.78,176.95 42.20,175.20 C41.62,173.45 40.17,173.05 39.30,171.70 C38.43,170.35 37.48,169.22 37.00,167.10 C36.52,164.98 36.02,160.75 36.40,159.00Z"/><ellipse cx="55" cy="179.3" rx="1.4" ry="1.4"/></g>
<g clip-path="url(#bc13)"><g fill="#d80000" filter="url(#bl4)"><path d="M36.40,159.00 C36.78,157.25 37.47,157.10 39.30,156.60 C41.13,156.10 45.07,156.10 47.40,156.00 C49.73,155.90 52.03,155.32 53.30,156.00 C54.57,156.68 54.72,158.05 55.00,160.10 C55.28,162.15 55.28,166.17 55.00,168.30 C54.72,170.43 53.78,171.17 53.30,172.90 C52.82,174.63 52.60,176.95 52.10,178.70 C51.60,180.45 51.27,182.33 50.30,183.40 C49.33,184.47 47.55,185.30 46.30,185.10 C45.05,184.90 43.48,183.85 42.80,182.20 C42.12,180.55 42.78,176.95 42.20,175.20 C41.62,173.45 40.17,173.05 39.30,171.70 C38.43,170.35 37.48,169.22 37.00,167.10 C36.52,164.98 36.02,160.75 36.40,159.00Z"/><ellipse cx="55" cy="179.3" rx="1.4" ry="1.4"/></g></g>
<ellipse cx="44.5" cy="165" rx="7" ry="5.5" fill="url(#hr)" opacity="1" clip-path="url(#bc13)"/>
<ellipse cx="44" cy="165.3" rx="5.6" ry="4.48" fill="url(#hy)" opacity="0.9" clip-path="url(#bc13)"/>
<ellipse cx="47.4" cy="179.5" rx="4" ry="4" fill="url(#hr)" opacity="0.7" clip-path="url(#bc13)"/>
<clipPath id="bc14"><path d="M74.80,154.30 C75.47,152.85 77.15,151.78 78.80,151.40 C80.45,151.02 82.57,151.62 84.70,152.00 C86.83,152.38 90.05,152.53 91.60,153.70 C93.15,154.87 93.42,156.57 94.00,159.00 C94.58,161.43 94.33,165.78 95.10,168.30 C95.87,170.82 98.22,172.17 98.60,174.10 C98.98,176.03 98.75,178.55 97.40,179.90 C96.05,181.25 92.62,182.58 90.50,182.20 C88.38,181.82 85.87,179.73 84.70,177.60 C83.53,175.47 84.48,171.53 83.50,169.40 C82.52,167.27 80.25,166.35 78.80,164.80 C77.35,163.25 75.47,161.85 74.80,160.10 C74.13,158.35 74.13,155.75 74.80,154.30Z"/></clipPath>
<g fill="#780000" filter="url(#bl)"><path d="M74.80,154.30 C75.47,152.85 77.15,151.78 78.80,151.40 C80.45,151.02 82.57,151.62 84.70,152.00 C86.83,152.38 90.05,152.53 91.60,153.70 C93.15,154.87 93.42,156.57 94.00,159.00 C94.58,161.43 94.33,165.78 95.10,168.30 C95.87,170.82 98.22,172.17 98.60,174.10 C98.98,176.03 98.75,178.55 97.40,179.90 C96.05,181.25 92.62,182.58 90.50,182.20 C88.38,181.82 85.87,179.73 84.70,177.60 C83.53,175.47 84.48,171.53 83.50,169.40 C82.52,167.27 80.25,166.35 78.80,164.80 C77.35,163.25 75.47,161.85 74.80,160.10 C74.13,158.35 74.13,155.75 74.80,154.30Z"/></g>
<g clip-path="url(#bc14)"><g fill="#d80000" filter="url(#bl4)"><path d="M74.80,154.30 C75.47,152.85 77.15,151.78 78.80,151.40 C80.45,151.02 82.57,151.62 84.70,152.00 C86.83,152.38 90.05,152.53 91.60,153.70 C93.15,154.87 93.42,156.57 94.00,159.00 C94.58,161.43 94.33,165.78 95.10,168.30 C95.87,170.82 98.22,172.17 98.60,174.10 C98.98,176.03 98.75,178.55 97.40,179.90 C96.05,181.25 92.62,182.58 90.50,182.20 C88.38,181.82 85.87,179.73 84.70,177.60 C83.53,175.47 84.48,171.53 83.50,169.40 C82.52,167.27 80.25,166.35 78.80,164.80 C77.35,163.25 75.47,161.85 74.80,160.10 C74.13,158.35 74.13,155.75 74.80,154.30Z"/></g></g>
<ellipse cx="85.5" cy="161" rx="7" ry="5.5" fill="url(#hr)" opacity="1" clip-path="url(#bc14)"/>
<ellipse cx="85.8" cy="161.3" rx="5.6" ry="4" fill="url(#hy)" opacity="0.9" clip-path="url(#bc14)"/>
<ellipse cx="91.6" cy="173" rx="4" ry="4" fill="url(#hr)" opacity="0.8" clip-path="url(#bc14)"/>
<clipPath id="bc15"><path d="M114.30,161.90 C115.27,160.75 117.77,159.98 120.10,159.00 C122.43,158.02 126.17,156.58 128.30,156.00 C130.43,155.42 131.75,154.82 132.90,155.50 C134.05,156.18 134.82,157.97 135.20,160.10 C135.58,162.23 135.87,165.78 135.20,168.30 C134.53,170.82 132.17,173.27 131.20,175.20 C130.23,177.13 130.28,178.73 129.40,179.90 C128.52,181.07 126.67,182.98 125.90,182.20 C125.13,181.42 125.38,176.75 124.80,175.20 C124.22,173.65 123.77,173.67 122.40,172.90 C121.03,172.13 117.95,171.77 116.60,170.60 C115.25,169.43 114.68,167.35 114.30,165.90 C113.92,164.45 113.33,163.05 114.30,161.90Z"/></clipPath>
<g fill="#780000" filter="url(#bl)"><path d="M114.30,161.90 C115.27,160.75 117.77,159.98 120.10,159.00 C122.43,158.02 126.17,156.58 128.30,156.00 C130.43,155.42 131.75,154.82 132.90,155.50 C134.05,156.18 134.82,157.97 135.20,160.10 C135.58,162.23 135.87,165.78 135.20,168.30 C134.53,170.82 132.17,173.27 131.20,175.20 C130.23,177.13 130.28,178.73 129.40,179.90 C128.52,181.07 126.67,182.98 125.90,182.20 C125.13,181.42 125.38,176.75 124.80,175.20 C124.22,173.65 123.77,173.67 122.40,172.90 C121.03,172.13 117.95,171.77 116.60,170.60 C115.25,169.43 114.68,167.35 114.30,165.90 C113.92,164.45 113.33,163.05 114.30,161.90Z"/></g>
<g clip-path="url(#bc15)"><g fill="#d80000" filter="url(#bl4)"><path d="M114.30,161.90 C115.27,160.75 117.77,159.98 120.10,159.00 C122.43,158.02 126.17,156.58 128.30,156.00 C130.43,155.42 131.75,154.82 132.90,155.50 C134.05,156.18 134.82,157.97 135.20,160.10 C135.58,162.23 135.87,165.78 135.20,168.30 C134.53,170.82 132.17,173.27 131.20,175.20 C130.23,177.13 130.28,178.73 129.40,179.90 C128.52,181.07 126.67,182.98 125.90,182.20 C125.13,181.42 125.38,176.75 124.80,175.20 C124.22,173.65 123.77,173.67 122.40,172.90 C121.03,172.13 117.95,171.77 116.60,170.60 C115.25,169.43 114.68,167.35 114.30,165.90 C113.92,164.45 113.33,163.05 114.30,161.90Z"/></g></g>
<ellipse cx="124" cy="165.5" rx="7" ry="5.5" fill="url(#hr)" opacity="1" clip-path="url(#bc15)"/>
<ellipse cx="124" cy="165.5" rx="4.9" ry="4.2" fill="url(#ho)" opacity="0.8" clip-path="url(#bc15)"/>
<clipPath id="bc16"><path d="M152.10,156.60 C152.97,155.43 154.68,154.88 157.30,154.30 C159.92,153.72 165.67,152.72 167.80,153.10 C169.93,153.48 169.72,154.27 170.10,156.60 C170.48,158.93 170.28,164.97 170.10,167.10 C169.92,169.23 168.62,168.63 169.00,169.40 C169.38,170.17 171.83,170.73 172.40,171.70 C172.97,172.67 173.37,174.32 172.40,175.20 C171.43,176.08 168.23,177.18 166.60,177.00 C164.97,176.82 163.57,175.55 162.60,174.10 C161.63,172.65 161.87,169.85 160.80,168.30 C159.73,166.75 157.65,165.97 156.20,164.80 C154.75,163.63 152.78,162.67 152.10,161.30 C151.42,159.93 151.23,157.77 152.10,156.60Z"/><ellipse cx="146.9" cy="175.8" rx="0.8" ry="1.2"/></clipPath>
<g fill="#780000" filter="url(#bl)"><path d="M152.10,156.60 C152.97,155.43 154.68,154.88 157.30,154.30 C159.92,153.72 165.67,152.72 167.80,153.10 C169.93,153.48 169.72,154.27 170.10,156.60 C170.48,158.93 170.28,164.97 170.10,167.10 C169.92,169.23 168.62,168.63 169.00,169.40 C169.38,170.17 171.83,170.73 172.40,171.70 C172.97,172.67 173.37,174.32 172.40,175.20 C171.43,176.08 168.23,177.18 166.60,177.00 C164.97,176.82 163.57,175.55 162.60,174.10 C161.63,172.65 161.87,169.85 160.80,168.30 C159.73,166.75 157.65,165.97 156.20,164.80 C154.75,163.63 152.78,162.67 152.10,161.30 C151.42,159.93 151.23,157.77 152.10,156.60Z"/><ellipse cx="146.9" cy="175.8" rx="0.8" ry="1.2"/></g>
<g clip-path="url(#bc16)"><g fill="#d80000" filter="url(#bl4)"><path d="M152.10,156.60 C152.97,155.43 154.68,154.88 157.30,154.30 C159.92,153.72 165.67,152.72 167.80,153.10 C169.93,153.48 169.72,154.27 170.10,156.60 C170.48,158.93 170.28,164.97 170.10,167.10 C169.92,169.23 168.62,168.63 169.00,169.40 C169.38,170.17 171.83,170.73 172.40,171.70 C172.97,172.67 173.37,174.32 172.40,175.20 C171.43,176.08 168.23,177.18 166.60,177.00 C164.97,176.82 163.57,175.55 162.60,174.10 C161.63,172.65 161.87,169.85 160.80,168.30 C159.73,166.75 157.65,165.97 156.20,164.80 C154.75,163.63 152.78,162.67 152.10,161.30 C151.42,159.93 151.23,157.77 152.10,156.60Z"/><ellipse cx="146.9" cy="175.8" rx="0.8" ry="1.2"/></g></g>
<ellipse cx="161" cy="159.5" rx="6" ry="4.5" fill="url(#hr)" opacity="1" clip-path="url(#bc16)"/>
<ellipse cx="161" cy="159.5" rx="4.9" ry="3.5" fill="url(#ho)" opacity="0.8" clip-path="url(#bc16)"/>
</g>
<g clip-path="url(#ca)">
<rect x="27" y="201" width="152" height="81" fill="#222"/>
<rect x="29.0" y="201" width="1.6" height="36.1" fill="#363636" filter="url(#bl)"/>
<rect x="34.1" y="201" width="1.8" height="26.7" fill="#424242" filter="url(#bl)"/>
<rect x="39.1" y="201" width="1.7" height="33.9" fill="#424242" filter="url(#bl)"/>
<rect x="44.8" y="201" width="2.2" height="24.4" fill="#424242" filter="url(#bl)"/>
<rect x="50.0" y="201" width="1.5" height="27.6" fill="#363636" filter="url(#bl)"/>
<rect x="54.6" y="201" width="2.0" height="24.9" fill="#3c3c3c" filter="url(#bl)"/>
<rect x="59.3" y="201" width="2.3" height="33.7" fill="#424242" filter="url(#bl)"/>
<rect x="63.6" y="201" width="1.6" height="36.1" fill="#424242" filter="url(#bl)"/>
<rect x="69.2" y="201" width="2.0" height="30.3" fill="#424242" filter="url(#bl)"/>
<rect x="73.6" y="201" width="1.8" height="32.2" fill="#424242" filter="url(#bl)"/>
<rect x="78.8" y="201" width="1.7" height="36.3" fill="#363636" filter="url(#bl)"/>
<rect x="83.7" y="201" width="2.0" height="33.0" fill="#424242" filter="url(#bl)"/>
<rect x="88.5" y="201" width="2.0" height="24.8" fill="#424242" filter="url(#bl)"/>
<rect x="93.4" y="201" width="2.2" height="28.9" fill="#3c3c3c" filter="url(#bl)"/>
<rect x="98.9" y="201" width="2.3" height="24.9" fill="#3c3c3c" filter="url(#bl)"/>
<rect x="104.1" y="201" width="1.8" height="35.8" fill="#3c3c3c" filter="url(#bl)"/>
<rect x="109.0" y="201" width="1.7" height="30.8" fill="#424242" filter="url(#bl)"/>
<rect x="114.3" y="201" width="2.2" height="27.0" fill="#424242" filter="url(#bl)"/>
<rect x="118.7" y="201" width="2.3" height="28.8" fill="#424242" filter="url(#bl)"/>
<rect x="124.3" y="201" width="1.6" height="32.7" fill="#363636" filter="url(#bl)"/>
<rect x="130.0" y="201" width="2.1" height="35.1" fill="#3c3c3c" filter="url(#bl)"/>
<rect x="135.5" y="201" width="1.6" height="28.2" fill="#3c3c3c" filter="url(#bl)"/>
<rect x="140.5" y="201" width="2.1" height="30.1" fill="#3c3c3c" filter="url(#bl)"/>
<rect x="145.1" y="201" width="1.5" height="25.4" fill="#363636" filter="url(#bl)"/>
<rect x="149.5" y="201" width="1.7" height="24.6" fill="#363636" filter="url(#bl)"/>
<rect x="155.0" y="201" width="1.5" height="25.7" fill="#424242" filter="url(#bl)"/>
<rect x="160.0" y="201" width="2.4" height="31.3" fill="#3c3c3c" filter="url(#bl)"/>
<rect x="165.5" y="201" width="2.4" height="31.1" fill="#424242" filter="url(#bl)"/>
<rect x="170.5" y="201" width="1.6" height="33.4" fill="#424242" filter="url(#bl)"/>
<rect x="176.2" y="201" width="2.0" height="34.9" fill="#424242" filter="url(#bl)"/>
<path id="m17" d="M46.00,202.00 C46.69,201.94 46.98,201.50 47.61,201.91 C48.25,202.32 49.34,203.44 49.80,204.47 C50.27,205.50 50.22,206.74 50.41,208.11 C50.60,209.48 50.81,211.26 50.94,212.69 C51.06,214.12 50.44,215.74 51.15,216.71 C51.85,217.67 53.77,217.81 55.16,218.48 C56.55,219.14 58.56,219.84 59.50,220.71 C60.43,221.57 60.53,222.58 60.77,223.68 C61.01,224.77 61.22,226.34 60.95,227.30 C60.67,228.26 59.33,228.05 59.12,229.44 C58.92,230.83 59.54,233.35 59.70,235.64 C59.86,237.94 59.86,240.52 60.08,243.21 C60.31,245.91 60.96,248.93 61.06,251.82 C61.15,254.71 60.82,257.69 60.64,260.53 C60.47,263.37 59.77,266.45 59.98,268.87 C60.18,271.29 61.71,273.06 61.89,275.04 C62.07,277.01 61.86,279.74 61.06,280.73 C60.26,281.73 58.10,281.62 57.11,281.02 C56.11,280.42 56.21,278.00 55.11,277.14 C54.01,276.28 51.99,275.66 50.53,275.86 C49.07,276.07 47.30,277.79 46.34,278.36 C45.37,278.94 45.30,279.28 44.75,279.31 C44.20,279.34 43.96,279.13 43.07,278.55 C42.17,277.96 40.68,276.04 39.39,275.82 C38.11,275.60 36.56,276.25 35.36,277.24 C34.16,278.22 33.20,281.20 32.19,281.73 C31.17,282.26 29.95,281.39 29.28,280.40 C28.62,279.41 28.14,277.76 28.22,275.78 C28.31,273.80 29.64,271.00 29.78,268.52 C29.92,266.04 29.34,263.67 29.07,260.88 C28.80,258.09 28.16,254.61 28.14,251.78 C28.13,248.95 28.83,246.66 29.01,243.92 C29.19,241.17 28.98,237.58 29.24,235.31 C29.49,233.04 30.60,231.75 30.53,230.31 C30.47,228.87 29.19,227.74 28.83,226.66 C28.47,225.57 28.00,224.82 28.40,223.80 C28.79,222.79 29.92,221.56 31.22,220.57 C32.51,219.58 34.82,218.52 36.18,217.86 C37.53,217.20 38.80,217.45 39.35,216.60 C39.90,215.76 39.34,214.22 39.48,212.80 C39.62,211.38 39.76,209.45 40.20,208.10 C40.65,206.75 41.60,205.67 42.15,204.70 C42.69,203.72 42.81,202.70 43.46,202.25 C44.10,201.80 45.31,202.06 46.00,202.00Z" fill="url(#mg)" filter="url(#bl)"/>
<ellipse cx="46.0" cy="209.1" rx="3.9" ry="5.7" fill="#dcdcdc" opacity="0.7" filter="url(#bl2)"/>
<ellipse cx="35.0" cy="225.3" rx="3.9" ry="4.9" fill="#e6e6e6" opacity="0.6" filter="url(#bl2)"/>
<ellipse cx="54.5" cy="225.3" rx="3.9" ry="4.9" fill="#e6e6e6" opacity="0.6" filter="url(#bl2)"/>
<ellipse cx="34.0" cy="273.9" rx="3.9" ry="4.0" fill="#ececec" opacity="0.7" filter="url(#bl2)"/>
<ellipse cx="55.5" cy="273.9" rx="3.9" ry="4.0" fill="#ececec" opacity="0.7" filter="url(#bl2)"/>
<path id="m18" d="M86.80,202.00 C87.37,202.04 87.76,201.83 88.37,202.29 C88.99,202.76 90.06,203.80 90.50,204.79 C90.94,205.78 90.74,206.93 91.01,208.25 C91.29,209.57 91.98,211.24 92.14,212.71 C92.31,214.17 91.39,216.18 92.01,217.04 C92.62,217.91 94.59,217.35 95.83,217.90 C97.06,218.44 98.26,219.35 99.41,220.31 C100.56,221.28 102.36,222.49 102.74,223.69 C103.11,224.88 102.10,226.49 101.66,227.49 C101.21,228.49 100.15,228.33 100.08,229.68 C100.02,231.03 101.14,233.26 101.26,235.59 C101.39,237.91 100.77,241.05 100.83,243.65 C100.88,246.25 101.50,248.27 101.58,251.20 C101.66,254.13 101.30,258.24 101.33,261.22 C101.35,264.20 101.39,266.80 101.72,269.08 C102.04,271.35 103.35,272.97 103.28,274.87 C103.21,276.77 102.09,279.34 101.30,280.48 C100.51,281.63 99.58,282.30 98.54,281.74 C97.50,281.17 96.38,278.02 95.05,277.08 C93.71,276.14 91.75,275.99 90.51,276.11 C89.28,276.24 88.54,277.28 87.62,277.81 C86.70,278.34 85.85,279.22 85.00,279.31 C84.15,279.40 83.56,278.83 82.55,278.34 C81.54,277.85 80.27,276.58 78.95,276.38 C77.64,276.18 75.76,276.35 74.65,277.15 C73.55,277.95 73.44,280.68 72.33,281.17 C71.21,281.66 68.72,281.04 67.96,280.10 C67.19,279.17 67.53,277.49 67.73,275.57 C67.94,273.64 69.04,270.95 69.19,268.53 C69.34,266.11 68.77,263.80 68.63,261.03 C68.50,258.25 68.46,254.73 68.41,251.87 C68.36,249.02 68.12,246.71 68.33,243.91 C68.54,241.11 69.36,237.41 69.68,235.08 C70.00,232.74 70.46,231.23 70.25,229.89 C70.03,228.56 68.68,228.06 68.39,227.05 C68.11,226.05 68.15,224.86 68.52,223.84 C68.88,222.81 69.46,221.76 70.59,220.90 C71.73,220.03 73.94,219.42 75.35,218.67 C76.75,217.92 78.27,217.33 79.03,216.38 C79.79,215.43 79.55,214.32 79.90,212.96 C80.25,211.61 80.75,209.73 81.14,208.25 C81.53,206.78 81.61,205.13 82.24,204.10 C82.87,203.07 84.17,202.43 84.93,202.08 C85.69,201.72 86.23,201.96 86.80,202.00Z" fill="url(#mg)" filter="url(#bl)"/>
<ellipse cx="86.8" cy="209.1" rx="4.1" ry="5.7" fill="#dcdcdc" opacity="0.7" filter="url(#bl2)"/>
<ellipse cx="74.8" cy="225.3" rx="4.1" ry="4.9" fill="#e6e6e6" opacity="0.6" filter="url(#bl2)"/>
<ellipse cx="95.2" cy="225.3" rx="4.1" ry="4.9" fill="#e6e6e6" opacity="0.6" filter="url(#bl2)"/>
<ellipse cx="73.8" cy="273.9" rx="4.1" ry="4.0" fill="#ececec" opacity="0.7" filter="url(#bl2)"/>
<ellipse cx="96.2" cy="273.9" rx="4.1" ry="4.0" fill="#ececec" opacity="0.7" filter="url(#bl2)"/>
<path id="m19" d="M123.00,202.00 C123.53,202.04 123.99,202.32 124.66,202.69 C125.34,203.06 126.49,203.20 127.03,204.22 C127.58,205.25 127.67,207.40 127.95,208.85 C128.24,210.29 128.39,211.56 128.75,212.90 C129.10,214.24 129.29,216.05 130.10,216.89 C130.90,217.73 132.34,217.27 133.58,217.96 C134.81,218.65 136.39,219.98 137.52,221.03 C138.66,222.09 140.16,223.33 140.37,224.31 C140.58,225.29 139.18,226.03 138.77,226.91 C138.36,227.79 137.82,228.16 137.91,229.60 C138.00,231.04 139.02,233.27 139.33,235.55 C139.63,237.84 139.59,240.69 139.75,243.32 C139.91,245.96 140.32,248.38 140.31,251.37 C140.30,254.35 139.78,258.38 139.69,261.24 C139.60,264.11 139.59,266.21 139.77,268.57 C139.95,270.94 140.84,273.47 140.76,275.44 C140.69,277.41 140.16,279.45 139.32,280.38 C138.47,281.31 136.71,281.51 135.70,281.02 C134.70,280.52 134.32,278.28 133.29,277.41 C132.25,276.55 130.81,275.75 129.47,275.84 C128.14,275.93 126.21,277.37 125.29,277.95 C124.38,278.53 124.57,279.33 124.00,279.31 C123.43,279.29 122.69,278.39 121.85,277.81 C121.01,277.23 120.27,275.91 118.96,275.84 C117.66,275.76 115.12,276.52 114.02,277.36 C112.93,278.21 113.33,280.39 112.40,280.92 C111.47,281.45 109.32,281.55 108.45,280.55 C107.58,279.55 107.05,276.84 107.18,274.93 C107.31,273.03 109.07,271.50 109.23,269.13 C109.39,266.77 108.25,263.65 108.12,260.77 C107.98,257.89 108.25,254.72 108.41,251.85 C108.56,248.97 108.86,246.25 109.04,243.51 C109.22,240.77 109.45,237.58 109.46,235.39 C109.48,233.20 109.24,231.80 109.13,230.37 C109.03,228.94 109.07,227.94 108.81,226.82 C108.56,225.69 107.30,224.58 107.61,223.63 C107.92,222.68 109.52,221.95 110.67,221.11 C111.82,220.28 113.35,219.31 114.51,218.64 C115.68,217.98 117.05,218.08 117.67,217.11 C118.29,216.14 117.99,214.28 118.22,212.84 C118.46,211.39 118.94,209.77 119.09,208.43 C119.24,207.08 118.70,205.78 119.10,204.78 C119.49,203.78 120.81,202.90 121.46,202.44 C122.11,201.97 122.47,201.96 123.00,202.00Z" fill="url(#mg)" filter="url(#bl)"/>
<ellipse cx="123.0" cy="209.1" rx="3.8" ry="5.7" fill="#dcdcdc" opacity="0.7" filter="url(#bl2)"/>
<ellipse cx="114.4" cy="225.3" rx="3.8" ry="4.9" fill="#e6e6e6" opacity="0.6" filter="url(#bl2)"/>
<ellipse cx="133.6" cy="225.3" rx="3.8" ry="4.9" fill="#e6e6e6" opacity="0.6" filter="url(#bl2)"/>
<ellipse cx="113.4" cy="273.9" rx="3.8" ry="4.0" fill="#ececec" opacity="0.7" filter="url(#bl2)"/>
<ellipse cx="134.6" cy="273.9" rx="3.8" ry="4.0" fill="#ececec" opacity="0.7" filter="url(#bl2)"/>
<path id="m20" d="M165.00,202.00 C165.55,201.92 166.23,201.96 166.72,202.32 C167.20,202.69 167.55,203.11 167.91,204.18 C168.27,205.26 168.77,207.29 168.86,208.78 C168.96,210.28 168.34,211.75 168.48,213.15 C168.62,214.55 169.15,216.39 169.71,217.19 C170.27,218.00 170.71,217.32 171.85,217.98 C172.99,218.65 175.54,220.27 176.54,221.18 C177.55,222.10 177.69,222.52 177.87,223.49 C178.05,224.46 177.81,225.91 177.61,227.00 C177.42,228.08 176.83,228.65 176.72,230.01 C176.60,231.37 176.82,232.95 176.91,235.15 C177.01,237.34 177.22,240.41 177.31,243.18 C177.39,245.94 177.31,248.83 177.44,251.75 C177.57,254.66 178.22,257.82 178.08,260.67 C177.95,263.53 176.61,266.43 176.64,268.85 C176.68,271.28 178.25,273.31 178.30,275.21 C178.36,277.11 177.61,279.18 176.97,280.26 C176.33,281.34 175.41,282.16 174.47,281.68 C173.53,281.20 172.38,278.38 171.35,277.38 C170.31,276.38 169.26,275.62 168.25,275.68 C167.24,275.74 166.14,277.14 165.29,277.75 C164.44,278.35 163.82,279.24 163.15,279.31 C162.48,279.38 162.11,278.72 161.29,278.16 C160.46,277.60 159.33,276.06 158.20,275.94 C157.07,275.81 155.52,276.48 154.51,277.40 C153.51,278.32 153.11,280.95 152.18,281.45 C151.25,281.96 149.55,281.45 148.95,280.45 C148.35,279.44 148.51,277.40 148.57,275.44 C148.64,273.48 149.39,271.06 149.34,268.69 C149.29,266.33 148.38,264.18 148.29,261.25 C148.20,258.31 148.62,254.14 148.79,251.11 C148.97,248.08 149.12,245.68 149.36,243.07 C149.59,240.45 150.00,237.61 150.20,235.41 C150.39,233.20 150.70,231.30 150.53,229.84 C150.36,228.38 149.49,227.72 149.17,226.67 C148.85,225.61 148.36,224.46 148.63,223.52 C148.89,222.57 149.63,221.93 150.75,221.00 C151.86,220.06 154.05,218.64 155.32,217.91 C156.58,217.18 157.75,217.48 158.33,216.63 C158.92,215.78 158.61,214.11 158.84,212.81 C159.06,211.51 159.32,210.20 159.69,208.85 C160.05,207.50 160.41,205.70 161.03,204.69 C161.65,203.68 162.74,203.23 163.40,202.78 C164.07,202.33 164.45,202.08 165.00,202.00Z" fill="url(#mg)" filter="url(#bl)"/>
<ellipse cx="165.0" cy="209.1" rx="3.5" ry="5.7" fill="#dcdcdc" opacity="0.7" filter="url(#bl2)"/>
<ellipse cx="154.4" cy="225.3" rx="3.5" ry="4.9" fill="#e6e6e6" opacity="0.6" filter="url(#bl2)"/>
<ellipse cx="171.9" cy="225.3" rx="3.5" ry="4.9" fill="#e6e6e6" opacity="0.6" filter="url(#bl2)"/>
<ellipse cx="153.5" cy="273.9" rx="3.5" ry="4.0" fill="#ececec" opacity="0.7" filter="url(#bl2)"/>
<ellipse cx="172.8" cy="273.9" rx="3.5" ry="4.0" fill="#ececec" opacity="0.7" filter="url(#bl2)"/>
<g filter="url(#texw)"><use href="#m17" fill="#000" filter="none"/><use href="#m18" fill="#000" filter="none"/><use href="#m19" fill="#000" filter="none"/><use href="#m20" fill="#000" filter="none"/></g>
<g filter="url(#texd)"><use href="#m17" fill="#000" filter="none"/><use href="#m18" fill="#000" filter="none"/><use href="#m19" fill="#000" filter="none"/><use href="#m20" fill="#000" filter="none"/></g>
<clipPath id="bc21"><path d="M38.10,240.50 C39.08,238.85 41.87,239.28 44.00,238.70 C46.13,238.12 48.68,237.28 50.90,237.00 C53.12,236.72 56.03,236.03 57.30,237.00 C58.57,237.97 58.40,240.08 58.50,242.80 C58.60,245.52 57.80,250.40 57.90,253.30 C58.00,256.20 59.10,258.08 59.10,260.20 C59.10,262.32 59.27,264.63 57.90,266.00 C56.53,267.37 53.22,268.20 50.90,268.40 C48.58,268.60 45.55,268.37 44.00,267.20 C42.45,266.03 42.10,263.53 41.60,261.40 C41.10,259.27 41.58,256.53 41.00,254.40 C40.42,252.27 38.58,250.92 38.10,248.60 C37.62,246.28 37.12,242.15 38.10,240.50Z"/></clipPath>
<g fill="#780000" filter="url(#bl)"><path d="M38.10,240.50 C39.08,238.85 41.87,239.28 44.00,238.70 C46.13,238.12 48.68,237.28 50.90,237.00 C53.12,236.72 56.03,236.03 57.30,237.00 C58.57,237.97 58.40,240.08 58.50,242.80 C58.60,245.52 57.80,250.40 57.90,253.30 C58.00,256.20 59.10,258.08 59.10,260.20 C59.10,262.32 59.27,264.63 57.90,266.00 C56.53,267.37 53.22,268.20 50.90,268.40 C48.58,268.60 45.55,268.37 44.00,267.20 C42.45,266.03 42.10,263.53 41.60,261.40 C41.10,259.27 41.58,256.53 41.00,254.40 C40.42,252.27 38.58,250.92 38.10,248.60 C37.62,246.28 37.12,242.15 38.10,240.50Z"/></g>
<g clip-path="url(#bc21)"><g fill="#e00000" filter="url(#bl4)"><path d="M38.10,240.50 C39.08,238.85 41.87,239.28 44.00,238.70 C46.13,238.12 48.68,237.28 50.90,237.00 C53.12,236.72 56.03,236.03 57.30,237.00 C58.57,237.97 58.40,240.08 58.50,242.80 C58.60,245.52 57.80,250.40 57.90,253.30 C58.00,256.20 59.10,258.08 59.10,260.20 C59.10,262.32 59.27,264.63 57.90,266.00 C56.53,267.37 53.22,268.20 50.90,268.40 C48.58,268.60 45.55,268.37 44.00,267.20 C42.45,266.03 42.10,263.53 41.60,261.40 C41.10,259.27 41.58,256.53 41.00,254.40 C40.42,252.27 38.58,250.92 38.10,248.60 C37.62,246.28 37.12,242.15 38.10,240.50Z"/></g></g>
<ellipse cx="48" cy="247.5" rx="9" ry="7" fill="url(#hr)" opacity="1" clip-path="url(#bc21)"/>
<ellipse cx="47.4" cy="247.4" rx="8.8" ry="6.4" fill="url(#hy)" opacity="1" clip-path="url(#bc21)"/>
<ellipse cx="49.8" cy="260" rx="5" ry="5" fill="url(#hr)" opacity="0.9" clip-path="url(#bc21)"/>
<clipPath id="bc22"><path d="M75.30,245.10 C75.78,243.83 76.67,242.78 78.80,242.20 C80.93,241.62 85.57,241.40 88.10,241.60 C90.63,241.80 92.73,242.23 94.00,243.40 C95.27,244.57 95.52,246.57 95.70,248.60 C95.88,250.63 95.58,253.95 95.10,255.60 C94.62,257.25 94.35,258.50 92.80,258.50 C91.25,258.50 87.93,256.47 85.80,255.60 C83.67,254.73 81.65,254.27 80.00,253.30 C78.35,252.33 76.68,251.17 75.90,249.80 C75.12,248.43 74.82,246.37 75.30,245.10Z"/><ellipse cx="92.8" cy="264.3" rx="2.6" ry="2.6"/><ellipse cx="94.5" cy="258.5" rx="1.2" ry="1.5"/></clipPath>
<g fill="#780000" filter="url(#bl)"><path d="M75.30,245.10 C75.78,243.83 76.67,242.78 78.80,242.20 C80.93,241.62 85.57,241.40 88.10,241.60 C90.63,241.80 92.73,242.23 94.00,243.40 C95.27,244.57 95.52,246.57 95.70,248.60 C95.88,250.63 95.58,253.95 95.10,255.60 C94.62,257.25 94.35,258.50 92.80,258.50 C91.25,258.50 87.93,256.47 85.80,255.60 C83.67,254.73 81.65,254.27 80.00,253.30 C78.35,252.33 76.68,251.17 75.90,249.80 C75.12,248.43 74.82,246.37 75.30,245.10Z"/><ellipse cx="92.8" cy="264.3" rx="2.6" ry="2.6"/><ellipse cx="94.5" cy="258.5" rx="1.2" ry="1.5"/></g>
<g clip-path="url(#bc22)"><g fill="#e00000" filter="url(#bl4)"><path d="M75.30,245.10 C75.78,243.83 76.67,242.78 78.80,242.20 C80.93,241.62 85.57,241.40 88.10,241.60 C90.63,241.80 92.73,242.23 94.00,243.40 C95.27,244.57 95.52,246.57 95.70,248.60 C95.88,250.63 95.58,253.95 95.10,255.60 C94.62,257.25 94.35,258.50 92.80,258.50 C91.25,258.50 87.93,256.47 85.80,255.60 C83.67,254.73 81.65,254.27 80.00,253.30 C78.35,252.33 76.68,251.17 75.90,249.80 C75.12,248.43 74.82,246.37 75.30,245.10Z"/><ellipse cx="92.8" cy="264.3" rx="2.6" ry="2.6"/><ellipse cx="94.5" cy="258.5" rx="1.2" ry="1.5"/></g></g>
<ellipse cx="86.4" cy="250.5" rx="7" ry="4.5" fill="url(#hr)" opacity="1" clip-path="url(#bc22)"/>
<ellipse cx="86.4" cy="251" rx="4.2" ry="2.8" fill="url(#ho)" opacity="0.7" clip-path="url(#bc22)"/>
<clipPath id="bc23"><path d="M112.60,246.30 C113.08,245.33 113.67,244.48 115.50,244.00 C117.33,243.52 120.70,243.50 123.60,243.40 C126.50,243.30 131.05,242.73 132.90,243.40 C134.75,244.07 134.50,245.57 134.70,247.40 C134.90,249.23 134.60,252.45 134.10,254.40 C133.60,256.35 132.87,258.03 131.70,259.10 C130.53,260.17 128.65,260.80 127.10,260.80 C125.55,260.80 123.95,259.87 122.40,259.10 C120.85,258.33 119.15,257.27 117.80,256.20 C116.45,255.13 115.17,253.77 114.30,252.70 C113.43,251.63 112.88,250.87 112.60,249.80 C112.32,248.73 112.12,247.27 112.60,246.30Z"/><ellipse cx="126.2" cy="267.5" rx="5" ry="5"/><ellipse cx="127" cy="262" rx="3" ry="3"/></clipPath>
<g fill="#780000" filter="url(#bl)"><path d="M112.60,246.30 C113.08,245.33 113.67,244.48 115.50,244.00 C117.33,243.52 120.70,243.50 123.60,243.40 C126.50,243.30 131.05,242.73 132.90,243.40 C134.75,244.07 134.50,245.57 134.70,247.40 C134.90,249.23 134.60,252.45 134.10,254.40 C133.60,256.35 132.87,258.03 131.70,259.10 C130.53,260.17 128.65,260.80 127.10,260.80 C125.55,260.80 123.95,259.87 122.40,259.10 C120.85,258.33 119.15,257.27 117.80,256.20 C116.45,255.13 115.17,253.77 114.30,252.70 C113.43,251.63 112.88,250.87 112.60,249.80 C112.32,248.73 112.12,247.27 112.60,246.30Z"/><ellipse cx="126.2" cy="267.5" rx="5" ry="5"/><ellipse cx="127" cy="262" rx="3" ry="3"/></g>
<g clip-path="url(#bc23)"><g fill="#e00000" filter="url(#bl4)"><path d="M112.60,246.30 C113.08,245.33 113.67,244.48 115.50,244.00 C117.33,243.52 120.70,243.50 123.60,243.40 C126.50,243.30 131.05,242.73 132.90,243.40 C134.75,244.07 134.50,245.57 134.70,247.40 C134.90,249.23 134.60,252.45 134.10,254.40 C133.60,256.35 132.87,258.03 131.70,259.10 C130.53,260.17 128.65,260.80 127.10,260.80 C125.55,260.80 123.95,259.87 122.40,259.10 C120.85,258.33 119.15,257.27 117.80,256.20 C116.45,255.13 115.17,253.77 114.30,252.70 C113.43,251.63 112.88,250.87 112.60,249.80 C112.32,248.73 112.12,247.27 112.60,246.30Z"/><ellipse cx="126.2" cy="267.5" rx="5" ry="5"/><ellipse cx="127" cy="262" rx="3" ry="3"/></g></g>
<ellipse cx="124.8" cy="253" rx="7" ry="5" fill="url(#hr)" opacity="1" clip-path="url(#bc23)"/>
<ellipse cx="124.8" cy="253.3" rx="5.6" ry="4" fill="url(#hy)" opacity="0.8" clip-path="url(#bc23)"/>
<ellipse cx="126.2" cy="267.5" rx="3" ry="3" fill="url(#hr)" opacity="0.7" clip-path="url(#bc23)"/>
<clipPath id="bc24"><path d="M155.00,244.00 C155.58,242.73 156.37,241.58 158.50,241.00 C160.63,240.42 165.28,240.50 167.80,240.50 C170.32,240.50 172.35,240.03 173.60,241.00 C174.85,241.97 175.10,244.25 175.30,246.30 C175.50,248.35 175.28,251.17 174.80,253.30 C174.32,255.43 172.22,257.37 172.40,259.10 C172.58,260.83 175.70,262.35 175.90,263.70 C176.10,265.05 175.15,266.52 173.60,267.20 C172.05,267.88 168.15,268.57 166.60,267.80 C165.05,267.03 164.88,264.45 164.30,262.60 C163.72,260.75 164.07,258.25 163.10,256.70 C162.13,255.15 159.85,254.65 158.50,253.30 C157.15,251.95 155.58,250.15 155.00,248.60 C154.42,247.05 154.42,245.27 155.00,244.00Z"/></clipPath>
<g fill="#780000" filter="url(#bl)"><path d="M155.00,244.00 C155.58,242.73 156.37,241.58 158.50,241.00 C160.63,240.42 165.28,240.50 167.80,240.50 C170.32,240.50 172.35,240.03 173.60,241.00 C174.85,241.97 175.10,244.25 175.30,246.30 C175.50,248.35 175.28,251.17 174.80,253.30 C174.32,255.43 172.22,257.37 172.40,259.10 C172.58,260.83 175.70,262.35 175.90,263.70 C176.10,265.05 175.15,266.52 173.60,267.20 C172.05,267.88 168.15,268.57 166.60,267.80 C165.05,267.03 164.88,264.45 164.30,262.60 C163.72,260.75 164.07,258.25 163.10,256.70 C162.13,255.15 159.85,254.65 158.50,253.30 C157.15,251.95 155.58,250.15 155.00,248.60 C154.42,247.05 154.42,245.27 155.00,244.00Z"/></g>
<g clip-path="url(#bc24)"><g fill="#e00000" filter="url(#bl4)"><path d="M155.00,244.00 C155.58,242.73 156.37,241.58 158.50,241.00 C160.63,240.42 165.28,240.50 167.80,240.50 C170.32,240.50 172.35,240.03 173.60,241.00 C174.85,241.97 175.10,244.25 175.30,246.30 C175.50,248.35 175.28,251.17 174.80,253.30 C174.32,255.43 172.22,257.37 172.40,259.10 C172.58,260.83 175.70,262.35 175.90,263.70 C176.10,265.05 175.15,266.52 173.60,267.20 C172.05,267.88 168.15,268.57 166.60,267.80 C165.05,267.03 164.88,264.45 164.30,262.60 C163.72,260.75 164.07,258.25 163.10,256.70 C162.13,255.15 159.85,254.65 158.50,253.30 C157.15,251.95 155.58,250.15 155.00,248.60 C154.42,247.05 154.42,245.27 155.00,244.00Z"/></g></g>
<ellipse cx="165" cy="249" rx="7" ry="5" fill="url(#hr)" opacity="1" clip-path="url(#bc24)"/>
<ellipse cx="165" cy="249.2" rx="4.9" ry="3.5" fill="url(#ho)" opacity="0.8" clip-path="url(#bc24)"/>
<ellipse cx="170" cy="262" rx="3.5" ry="4" fill="url(#hr)" opacity="0.6" clip-path="url(#bc24)"/>
</g>
<g clip-path="url(#ca)">
<rect x="27" y="289" width="152" height="78.5" fill="#222"/>
<rect x="29.0" y="289" width="1.7" height="25.7" fill="#424242" filter="url(#bl)"/>
<rect x="33.6" y="289" width="2.1" height="34.6" fill="#3c3c3c" filter="url(#bl)"/>
<rect x="38.2" y="289" width="1.9" height="27.7" fill="#3c3c3c" filter="url(#bl)"/>
<rect x="43.1" y="289" width="1.8" height="26.3" fill="#424242" filter="url(#bl)"/>
<rect x="48.8" y="289" width="2.4" height="28.4" fill="#3c3c3c" filter="url(#bl)"/>
<rect x="53.9" y="289" width="2.1" height="29.6" fill="#3c3c3c" filter="url(#bl)"/>
<rect x="58.8" y="289" width="1.9" height="34.0" fill="#3c3c3c" filter="url(#bl)"/>
<rect x="63.3" y="289" width="2.2" height="34.3" fill="#363636" filter="url(#bl)"/>
<rect x="68.3" y="289" width="2.0" height="33.7" fill="#363636" filter="url(#bl)"/>
<rect x="72.8" y="289" width="1.6" height="29.6" fill="#424242" filter="url(#bl)"/>
<rect x="78.4" y="289" width="2.0" height="32.7" fill="#3c3c3c" filter="url(#bl)"/>
<rect x="83.7" y="289" width="2.0" height="30.4" fill="#363636" filter="url(#bl)"/>
<rect x="89.5" y="289" width="1.8" height="26.7" fill="#424242" filter="url(#bl)"/>
<rect x="95.0" y="289" width="1.7" height="27.8" fill="#424242" filter="url(#bl)"/>
<rect x="99.7" y="289" width="1.9" height="31.8" fill="#424242" filter="url(#bl)"/>
<rect x="105.0" y="289" width="1.9" height="33.4" fill="#424242" filter="url(#bl)"/>
<rect x="110.5" y="289" width="1.5" height="35.2" fill="#3c3c3c" filter="url(#bl)"/>
<rect x="114.8" y="289" width="2.2" height="33.9" fill="#363636" filter="url(#bl)"/>
<rect x="119.1" y="289" width="2.3" height="31.2" fill="#424242" filter="url(#bl)"/>
<rect x="124.6" y="289" width="2.4" height="33.6" fill="#424242" filter="url(#bl)"/>
<rect x="129.2" y="289" width="2.2" height="25.2" fill="#424242" filter="url(#bl)"/>
<rect x="134.3" y="289" width="2.3" height="34.1" fill="#3c3c3c" filter="url(#bl)"/>
<rect x="139.0" y="289" width="1.8" height="28.5" fill="#424242" filter="url(#bl)"/>
<rect x="144.3" y="289" width="1.6" height="26.7" fill="#424242" filter="url(#bl)"/>
<rect x="150.0" y="289" width="1.8" height="30.4" fill="#424242" filter="url(#bl)"/>
<rect x="155.3" y="289" width="1.5" height="27.5" fill="#424242" filter="url(#bl)"/>
<rect x="160.1" y="289" width="1.7" height="30.4" fill="#424242" filter="url(#bl)"/>
<rect x="165.8" y="289" width="1.6" height="27.3" fill="#363636" filter="url(#bl)"/>
<rect x="171.4" y="289" width="2.1" height="24.9" fill="#424242" filter="url(#bl)"/>
<rect x="177.0" y="289" width="1.6" height="34.6" fill="#363636" filter="url(#bl)"/>
<path id="m25" d="M44.80,290.00 C45.46,290.05 46.29,290.40 47.10,290.73 C47.92,291.07 49.07,291.03 49.69,292.01 C50.30,292.98 50.66,295.13 50.79,296.57 C50.93,298.02 50.23,299.44 50.52,300.67 C50.81,301.90 51.57,303.14 52.53,303.97 C53.50,304.79 54.87,304.98 56.31,305.62 C57.76,306.26 60.03,306.81 61.21,307.81 C62.40,308.81 63.23,310.57 63.42,311.62 C63.62,312.67 62.67,313.23 62.39,314.10 C62.11,314.97 61.92,315.51 61.76,316.85 C61.60,318.19 61.39,319.85 61.45,322.13 C61.52,324.41 61.80,327.86 62.15,330.55 C62.50,333.23 63.43,335.42 63.58,338.23 C63.72,341.04 63.28,344.62 63.04,347.39 C62.79,350.17 61.86,352.63 62.09,354.88 C62.31,357.13 64.13,359.02 64.39,360.89 C64.66,362.76 64.50,365.05 63.67,366.09 C62.84,367.14 60.70,367.62 59.41,367.17 C58.12,366.72 57.19,364.32 55.95,363.41 C54.70,362.50 53.19,361.68 51.96,361.70 C50.72,361.71 49.51,362.98 48.52,363.51 C47.52,364.04 46.88,364.84 46.00,364.88 C45.12,364.93 44.14,364.27 43.21,363.80 C42.28,363.32 41.69,362.23 40.42,362.04 C39.15,361.85 36.92,361.93 35.58,362.65 C34.24,363.38 33.56,365.87 32.36,366.40 C31.16,366.92 29.19,366.63 28.40,365.81 C27.61,364.99 27.46,363.27 27.61,361.47 C27.75,359.67 29.06,357.47 29.25,355.00 C29.45,352.53 28.75,349.58 28.76,346.67 C28.77,343.76 29.25,340.30 29.33,337.54 C29.40,334.77 29.12,332.54 29.21,330.08 C29.30,327.62 29.62,325.01 29.88,322.79 C30.14,320.57 30.91,318.25 30.77,316.77 C30.62,315.28 29.26,314.82 28.99,313.88 C28.71,312.93 28.71,312.07 29.09,311.10 C29.46,310.12 30.11,308.88 31.23,308.01 C32.36,307.14 34.61,306.57 35.86,305.90 C37.11,305.24 38.16,304.86 38.75,304.01 C39.34,303.15 39.14,302.02 39.41,300.78 C39.69,299.55 40.13,298.05 40.40,296.58 C40.68,295.11 40.61,293.02 41.06,291.99 C41.51,290.97 42.49,290.77 43.11,290.44 C43.74,290.10 44.14,289.95 44.80,290.00Z" fill="url(#mg)" filter="url(#bl)"/>
<ellipse cx="44.8" cy="296.9" rx="4.2" ry="5.5" fill="#dcdcdc" opacity="0.7" filter="url(#bl2)"/>
<ellipse cx="35.5" cy="312.6" rx="4.2" ry="4.7" fill="#e6e6e6" opacity="0.6" filter="url(#bl2)"/>
<ellipse cx="56.5" cy="312.6" rx="4.2" ry="4.7" fill="#e6e6e6" opacity="0.6" filter="url(#bl2)"/>
<ellipse cx="34.5" cy="359.6" rx="4.2" ry="3.9" fill="#ececec" opacity="0.7" filter="url(#bl2)"/>
<ellipse cx="57.5" cy="359.6" rx="4.2" ry="3.9" fill="#ececec" opacity="0.7" filter="url(#bl2)"/>
<path id="m26" d="M84.50,290.00 C85.22,290.07 86.27,290.22 86.84,290.57 C87.41,290.92 87.66,291.14 87.93,292.10 C88.20,293.05 88.16,294.88 88.45,296.31 C88.73,297.74 89.28,299.35 89.63,300.67 C89.98,301.99 89.84,303.33 90.54,304.23 C91.24,305.13 92.72,305.33 93.83,306.04 C94.93,306.76 96.29,307.65 97.16,308.52 C98.03,309.39 98.73,310.33 99.02,311.26 C99.32,312.19 99.14,313.07 98.91,314.07 C98.68,315.08 97.80,315.88 97.63,317.28 C97.46,318.68 97.58,320.38 97.87,322.47 C98.16,324.56 99.18,327.23 99.39,329.81 C99.59,332.39 99.07,335.06 99.10,337.96 C99.14,340.87 99.59,344.50 99.61,347.26 C99.63,350.02 99.18,352.28 99.24,354.55 C99.30,356.81 100.04,358.86 99.96,360.84 C99.88,362.81 99.37,365.37 98.78,366.40 C98.20,367.43 97.37,367.54 96.44,367.01 C95.51,366.49 94.26,364.15 93.21,363.27 C92.16,362.40 91.16,361.70 90.14,361.76 C89.12,361.83 87.93,363.16 87.08,363.68 C86.23,364.20 85.63,364.94 85.05,364.88 C84.47,364.83 84.37,363.95 83.62,363.36 C82.87,362.77 81.75,361.40 80.56,361.37 C79.37,361.34 77.64,362.22 76.51,363.19 C75.38,364.15 74.76,366.69 73.76,367.13 C72.77,367.57 71.20,366.85 70.54,365.83 C69.89,364.80 69.80,362.79 69.86,360.96 C69.91,359.14 70.74,357.15 70.89,354.87 C71.04,352.59 70.90,350.14 70.77,347.26 C70.64,344.38 70.10,340.53 70.10,337.60 C70.11,334.67 70.48,332.27 70.79,329.69 C71.09,327.12 71.80,324.22 71.94,322.18 C72.09,320.14 71.86,318.77 71.67,317.43 C71.48,316.09 71.07,315.22 70.80,314.16 C70.52,313.10 69.69,312.01 70.01,311.07 C70.33,310.13 71.68,309.36 72.73,308.52 C73.78,307.68 75.22,306.64 76.29,306.00 C77.36,305.37 78.51,305.54 79.13,304.73 C79.75,303.91 79.84,302.49 80.00,301.12 C80.15,299.75 79.87,297.94 80.06,296.51 C80.25,295.07 80.73,293.59 81.14,292.52 C81.55,291.46 81.97,290.55 82.53,290.13 C83.09,289.71 83.78,289.93 84.50,290.00Z" fill="url(#mg)" filter="url(#bl)"/>
<ellipse cx="84.5" cy="296.9" rx="3.5" ry="5.5" fill="#dcdcdc" opacity="0.7" filter="url(#bl2)"/>
<ellipse cx="76.3" cy="312.6" rx="3.5" ry="4.7" fill="#e6e6e6" opacity="0.6" filter="url(#bl2)"/>
<ellipse cx="93.8" cy="312.6" rx="3.5" ry="4.7" fill="#e6e6e6" opacity="0.6" filter="url(#bl2)"/>
<ellipse cx="75.4" cy="359.6" rx="3.5" ry="3.9" fill="#ececec" opacity="0.7" filter="url(#bl2)"/>
<ellipse cx="94.7" cy="359.6" rx="3.5" ry="3.9" fill="#ececec" opacity="0.7" filter="url(#bl2)"/>
<path id="m27" d="M121.80,290.00 C122.28,290.00 122.82,289.97 123.30,290.42 C123.79,290.87 124.32,291.81 124.71,292.70 C125.10,293.58 125.42,294.32 125.65,295.74 C125.88,297.16 125.84,299.84 126.08,301.21 C126.31,302.57 126.49,303.25 127.07,303.95 C127.64,304.65 128.33,304.68 129.53,305.40 C130.72,306.12 133.10,307.26 134.21,308.27 C135.33,309.27 136.08,310.43 136.21,311.45 C136.33,312.47 135.25,313.42 134.95,314.40 C134.66,315.38 134.40,315.92 134.45,317.31 C134.49,318.71 135.18,320.59 135.24,322.79 C135.30,324.98 134.63,327.90 134.81,330.48 C134.99,333.07 136.20,335.55 136.32,338.28 C136.45,341.00 135.80,344.17 135.56,346.86 C135.32,349.55 134.63,352.01 134.87,354.42 C135.10,356.83 136.78,359.33 136.95,361.31 C137.12,363.30 136.56,365.46 135.87,366.34 C135.18,367.23 133.77,367.24 132.79,366.62 C131.80,365.99 130.93,363.43 129.95,362.58 C128.97,361.73 127.99,361.34 126.91,361.52 C125.83,361.70 124.30,363.10 123.48,363.66 C122.66,364.22 122.44,364.91 122.00,364.88 C121.56,364.86 121.59,363.98 120.86,363.50 C120.13,363.02 118.81,362.11 117.62,362.00 C116.44,361.88 114.88,361.98 113.75,362.79 C112.62,363.59 111.82,366.26 110.84,366.82 C109.86,367.38 108.37,367.13 107.89,366.15 C107.41,365.17 107.82,362.79 107.97,360.94 C108.11,359.10 108.74,357.37 108.77,355.10 C108.81,352.83 108.28,350.23 108.17,347.32 C108.06,344.40 108.08,340.53 108.10,337.60 C108.12,334.68 108.18,332.35 108.29,329.77 C108.40,327.18 108.48,324.29 108.76,322.12 C109.04,319.95 110.04,317.97 109.96,316.74 C109.88,315.52 108.50,315.68 108.27,314.76 C108.03,313.84 108.26,312.28 108.54,311.22 C108.82,310.16 108.99,309.32 109.93,308.42 C110.87,307.52 113.03,306.46 114.17,305.82 C115.31,305.18 116.21,305.36 116.78,304.59 C117.34,303.82 117.36,302.67 117.55,301.22 C117.73,299.77 117.78,297.40 117.89,295.91 C118.01,294.43 117.82,293.23 118.24,292.31 C118.66,291.40 119.83,290.82 120.42,290.44 C121.01,290.05 121.32,290.00 121.80,290.00Z" fill="url(#mg)" filter="url(#bl)"/>
<ellipse cx="121.8" cy="296.9" rx="3.4" ry="5.5" fill="#dcdcdc" opacity="0.7" filter="url(#bl2)"/>
<ellipse cx="113.6" cy="312.6" rx="3.4" ry="4.7" fill="#e6e6e6" opacity="0.6" filter="url(#bl2)"/>
<ellipse cx="130.4" cy="312.6" rx="3.4" ry="4.7" fill="#e6e6e6" opacity="0.6" filter="url(#bl2)"/>
<ellipse cx="112.8" cy="359.6" rx="3.4" ry="3.9" fill="#ececec" opacity="0.7" filter="url(#bl2)"/>
<ellipse cx="131.2" cy="359.6" rx="3.4" ry="3.9" fill="#ececec" opacity="0.7" filter="url(#bl2)"/>
<path id="m28" d="M162.60,290.00 C163.22,289.99 163.42,290.15 164.04,290.58 C164.67,291.01 165.87,291.67 166.37,292.58 C166.86,293.49 166.91,294.69 167.01,296.04 C167.10,297.40 166.74,299.40 166.93,300.71 C167.11,302.02 167.42,303.12 168.11,303.90 C168.80,304.68 170.04,304.72 171.09,305.39 C172.13,306.06 173.37,306.95 174.39,307.92 C175.41,308.90 176.96,310.11 177.20,311.23 C177.44,312.36 176.25,313.71 175.84,314.67 C175.43,315.63 174.81,315.65 174.74,316.98 C174.67,318.31 175.18,320.44 175.41,322.66 C175.65,324.88 176.00,327.77 176.14,330.28 C176.29,332.79 176.26,334.84 176.26,337.70 C176.27,340.56 176.22,344.55 176.18,347.45 C176.14,350.34 175.93,352.82 176.03,355.07 C176.14,357.33 176.71,359.13 176.81,360.97 C176.91,362.81 177.35,365.15 176.63,366.12 C175.91,367.08 173.42,367.35 172.47,366.78 C171.52,366.21 172.03,363.57 170.95,362.71 C169.87,361.85 167.23,361.39 165.97,361.61 C164.71,361.83 164.16,363.50 163.38,364.04 C162.61,364.59 161.88,364.99 161.30,364.88 C160.72,364.78 160.68,363.95 159.89,363.41 C159.10,362.87 157.86,361.76 156.56,361.64 C155.26,361.51 153.21,361.82 152.09,362.64 C150.98,363.46 150.94,365.92 149.88,366.53 C148.82,367.13 146.39,367.10 145.72,366.25 C145.06,365.41 145.62,363.37 145.88,361.45 C146.13,359.53 147.33,357.08 147.25,354.74 C147.17,352.40 145.64,350.22 145.41,347.40 C145.18,344.58 145.58,340.66 145.87,337.80 C146.16,334.95 146.83,332.88 147.14,330.27 C147.44,327.66 147.62,324.43 147.71,322.15 C147.79,319.87 147.83,317.85 147.67,316.59 C147.51,315.33 147.03,315.48 146.74,314.59 C146.44,313.69 145.62,312.31 145.87,311.23 C146.13,310.15 147.03,308.99 148.26,308.11 C149.50,307.22 151.97,306.52 153.27,305.92 C154.57,305.32 155.56,305.37 156.09,304.51 C156.62,303.64 156.20,302.09 156.45,300.74 C156.69,299.39 157.15,297.85 157.56,296.41 C157.97,294.96 158.45,293.02 158.91,292.06 C159.37,291.11 159.69,291.00 160.30,290.66 C160.92,290.32 161.98,290.01 162.60,290.00Z" fill="url(#mg)" filter="url(#bl)"/>
<ellipse cx="162.6" cy="296.9" rx="3.7" ry="5.5" fill="#dcdcdc" opacity="0.7" filter="url(#bl2)"/>
<ellipse cx="152.1" cy="312.6" rx="3.7" ry="4.7" fill="#e6e6e6" opacity="0.6" filter="url(#bl2)"/>
<ellipse cx="170.5" cy="312.6" rx="3.7" ry="4.7" fill="#e6e6e6" opacity="0.6" filter="url(#bl2)"/>
<ellipse cx="151.2" cy="359.6" rx="3.7" ry="3.9" fill="#ececec" opacity="0.7" filter="url(#bl2)"/>
<ellipse cx="171.4" cy="359.6" rx="3.7" ry="3.9" fill="#ececec" opacity="0.7" filter="url(#bl2)"/>
<g filter="url(#texw)"><use href="#m25" fill="#000" filter="none"/><use href="#m26" fill="#000" filter="none"/><use href="#m27" fill="#000" filter="none"/><use href="#m28" fill="#000" filter="none"/></g>
<g filter="url(#texd)"><use href="#m25" fill="#000" filter="none"/><use href="#m26" fill="#000" filter="none"/><use href="#m27" fill="#000" filter="none"/><use href="#m28" fill="#000" filter="none"/></g>
<clipPath id="bc29"><path d="M35.00,330.80 C35.58,329.65 36.37,329.18 38.50,328.50 C40.63,327.82 45.38,326.90 47.80,326.70 C50.22,326.50 51.65,326.62 53.00,327.30 C54.35,327.98 55.42,328.87 55.90,330.80 C56.38,332.73 56.38,336.97 55.90,338.90 C55.42,340.83 54.35,341.72 53.00,342.40 C51.65,343.08 49.83,343.00 47.80,343.00 C45.77,343.00 42.75,342.98 40.80,342.40 C38.85,341.82 37.07,340.67 36.10,339.50 C35.13,338.33 35.18,336.85 35.00,335.40 C34.82,333.95 34.42,331.95 35.00,330.80Z"/><ellipse cx="46.9" cy="350.5" rx="4.9" ry="4.8"/><ellipse cx="47" cy="345" rx="3.5" ry="3"/><ellipse cx="55.3" cy="349.4" rx="1.3" ry="1.5"/></clipPath>
<g fill="#780000" filter="url(#bl)"><path d="M35.00,330.80 C35.58,329.65 36.37,329.18 38.50,328.50 C40.63,327.82 45.38,326.90 47.80,326.70 C50.22,326.50 51.65,326.62 53.00,327.30 C54.35,327.98 55.42,328.87 55.90,330.80 C56.38,332.73 56.38,336.97 55.90,338.90 C55.42,340.83 54.35,341.72 53.00,342.40 C51.65,343.08 49.83,343.00 47.80,343.00 C45.77,343.00 42.75,342.98 40.80,342.40 C38.85,341.82 37.07,340.67 36.10,339.50 C35.13,338.33 35.18,336.85 35.00,335.40 C34.82,333.95 34.42,331.95 35.00,330.80Z"/><ellipse cx="46.9" cy="350.5" rx="4.9" ry="4.8"/><ellipse cx="47" cy="345" rx="3.5" ry="3"/><ellipse cx="55.3" cy="349.4" rx="1.3" ry="1.5"/></g>
<g clip-path="url(#bc29)"><g fill="#e60000" filter="url(#bl4)"><path d="M35.00,330.80 C35.58,329.65 36.37,329.18 38.50,328.50 C40.63,327.82 45.38,326.90 47.80,326.70 C50.22,326.50 51.65,326.62 53.00,327.30 C54.35,327.98 55.42,328.87 55.90,330.80 C56.38,332.73 56.38,336.97 55.90,338.90 C55.42,340.83 54.35,341.72 53.00,342.40 C51.65,343.08 49.83,343.00 47.80,343.00 C45.77,343.00 42.75,342.98 40.80,342.40 C38.85,341.82 37.07,340.67 36.10,339.50 C35.13,338.33 35.18,336.85 35.00,335.40 C34.82,333.95 34.42,331.95 35.00,330.80Z"/><ellipse cx="46.9" cy="350.5" rx="4.9" ry="4.8"/><ellipse cx="47" cy="345" rx="3.5" ry="3"/><ellipse cx="55.3" cy="349.4" rx="1.3" ry="1.5"/></g></g>
<ellipse cx="45.5" cy="336.5" rx="7.5" ry="5.5" fill="url(#hr)" opacity="1" clip-path="url(#bc29)"/>
<ellipse cx="45.4" cy="336.6" rx="6.4" ry="4.48" fill="url(#hy)" opacity="0.9" clip-path="url(#bc29)"/>
<ellipse cx="46.9" cy="350.5" rx="3" ry="3" fill="url(#hr)" opacity="0.8" clip-path="url(#bc29)"/>
<clipPath id="bc30"><path d="M77.40,332.00 C77.98,330.45 79.47,329.28 81.50,328.50 C83.53,327.72 87.28,327.12 89.60,327.30 C91.92,327.48 94.13,328.25 95.40,329.60 C96.67,330.95 97.10,333.75 97.20,335.40 C97.30,337.05 97.27,338.43 96.00,339.50 C94.73,340.57 91.82,341.50 89.60,341.80 C87.38,342.10 84.63,341.97 82.70,341.30 C80.77,340.63 78.88,339.35 78.00,337.80 C77.12,336.25 76.82,333.55 77.40,332.00Z"/><ellipse cx="94.9" cy="349.4" rx="2.5" ry="2.3"/></clipPath>
<g fill="#780000" filter="url(#bl)"><path d="M77.40,332.00 C77.98,330.45 79.47,329.28 81.50,328.50 C83.53,327.72 87.28,327.12 89.60,327.30 C91.92,327.48 94.13,328.25 95.40,329.60 C96.67,330.95 97.10,333.75 97.20,335.40 C97.30,337.05 97.27,338.43 96.00,339.50 C94.73,340.57 91.82,341.50 89.60,341.80 C87.38,342.10 84.63,341.97 82.70,341.30 C80.77,340.63 78.88,339.35 78.00,337.80 C77.12,336.25 76.82,333.55 77.40,332.00Z"/><ellipse cx="94.9" cy="349.4" rx="2.5" ry="2.3"/></g>
<g clip-path="url(#bc30)"><g fill="#e60000" filter="url(#bl4)"><path d="M77.40,332.00 C77.98,330.45 79.47,329.28 81.50,328.50 C83.53,327.72 87.28,327.12 89.60,327.30 C91.92,327.48 94.13,328.25 95.40,329.60 C96.67,330.95 97.10,333.75 97.20,335.40 C97.30,337.05 97.27,338.43 96.00,339.50 C94.73,340.57 91.82,341.50 89.60,341.80 C87.38,342.10 84.63,341.97 82.70,341.30 C80.77,340.63 78.88,339.35 78.00,337.80 C77.12,336.25 76.82,333.55 77.40,332.00Z"/><ellipse cx="94.9" cy="349.4" rx="2.5" ry="2.3"/></g></g>
<ellipse cx="87.3" cy="336" rx="7" ry="4.5" fill="url(#hr)" opacity="1" clip-path="url(#bc30)"/>
<ellipse cx="87.3" cy="336.6" rx="4.2" ry="2.8" fill="url(#ho)" opacity="0.7" clip-path="url(#bc30)"/>
<clipPath id="bc31"><path d="M113.70,329.60 C114.38,328.05 115.77,327.78 117.80,327.30 C119.83,326.82 123.67,326.80 125.90,326.70 C128.13,326.60 130.03,326.02 131.20,326.70 C132.37,327.38 132.72,328.95 132.90,330.80 C133.08,332.65 132.20,335.48 132.30,337.80 C132.40,340.12 133.20,342.38 133.50,344.70 C133.80,347.02 134.58,349.85 134.10,351.70 C133.62,353.55 132.35,355.02 130.60,355.80 C128.85,356.58 125.25,356.88 123.60,356.40 C121.95,355.92 121.28,354.65 120.70,352.90 C120.12,351.15 120.88,347.65 120.10,345.90 C119.32,344.15 117.07,343.95 116.00,342.40 C114.93,340.85 114.08,338.73 113.70,336.60 C113.32,334.47 113.02,331.15 113.70,329.60Z"/></clipPath>
<g fill="#780000" filter="url(#bl)"><path d="M113.70,329.60 C114.38,328.05 115.77,327.78 117.80,327.30 C119.83,326.82 123.67,326.80 125.90,326.70 C128.13,326.60 130.03,326.02 131.20,326.70 C132.37,327.38 132.72,328.95 132.90,330.80 C133.08,332.65 132.20,335.48 132.30,337.80 C132.40,340.12 133.20,342.38 133.50,344.70 C133.80,347.02 134.58,349.85 134.10,351.70 C133.62,353.55 132.35,355.02 130.60,355.80 C128.85,356.58 125.25,356.88 123.60,356.40 C121.95,355.92 121.28,354.65 120.70,352.90 C120.12,351.15 120.88,347.65 120.10,345.90 C119.32,344.15 117.07,343.95 116.00,342.40 C114.93,340.85 114.08,338.73 113.70,336.60 C113.32,334.47 113.02,331.15 113.70,329.60Z"/></g>
<g clip-path="url(#bc31)"><g fill="#e60000" filter="url(#bl4)"><path d="M113.70,329.60 C114.38,328.05 115.77,327.78 117.80,327.30 C119.83,326.82 123.67,326.80 125.90,326.70 C128.13,326.60 130.03,326.02 131.20,326.70 C132.37,327.38 132.72,328.95 132.90,330.80 C133.08,332.65 132.20,335.48 132.30,337.80 C132.40,340.12 133.20,342.38 133.50,344.70 C133.80,347.02 134.58,349.85 134.10,351.70 C133.62,353.55 132.35,355.02 130.60,355.80 C128.85,356.58 125.25,356.88 123.60,356.40 C121.95,355.92 121.28,354.65 120.70,352.90 C120.12,351.15 120.88,347.65 120.10,345.90 C119.32,344.15 117.07,343.95 116.00,342.40 C114.93,340.85 114.08,338.73 113.70,336.60 C113.32,334.47 113.02,331.15 113.70,329.60Z"/></g></g>
<ellipse cx="123.6" cy="336.6" rx="8" ry="6" fill="url(#hr)" opacity="1" clip-path="url(#bc31)"/>
<ellipse cx="123.6" cy="336.6" rx="8.8" ry="6.4" fill="url(#hy)" opacity="1" clip-path="url(#bc31)"/>
<ellipse cx="126.5" cy="349.4" rx="5" ry="5" fill="url(#hr)" opacity="0.9" clip-path="url(#bc31)"/>
<clipPath id="bc32"><path d="M151.50,329.60 C151.98,327.47 153.83,325.97 155.00,325.00 C156.17,324.03 156.75,323.42 158.50,323.80 C160.25,324.18 163.27,326.52 165.50,327.30 C167.73,328.08 170.55,327.15 171.90,328.50 C173.25,329.85 173.22,332.88 173.60,335.40 C173.98,337.92 173.82,341.47 174.20,343.60 C174.58,345.73 175.80,346.65 175.90,348.20 C176.00,349.75 176.15,351.73 174.80,352.90 C173.45,354.07 169.83,355.20 167.80,355.20 C165.77,355.20 163.57,354.45 162.60,352.90 C161.63,351.35 163.07,347.65 162.00,345.90 C160.93,344.15 157.85,343.75 156.20,342.40 C154.55,341.05 152.88,339.93 152.10,337.80 C151.32,335.67 151.02,331.73 151.50,329.60Z"/></clipPath>
<g fill="#780000" filter="url(#bl)"><path d="M151.50,329.60 C151.98,327.47 153.83,325.97 155.00,325.00 C156.17,324.03 156.75,323.42 158.50,323.80 C160.25,324.18 163.27,326.52 165.50,327.30 C167.73,328.08 170.55,327.15 171.90,328.50 C173.25,329.85 173.22,332.88 173.60,335.40 C173.98,337.92 173.82,341.47 174.20,343.60 C174.58,345.73 175.80,346.65 175.90,348.20 C176.00,349.75 176.15,351.73 174.80,352.90 C173.45,354.07 169.83,355.20 167.80,355.20 C165.77,355.20 163.57,354.45 162.60,352.90 C161.63,351.35 163.07,347.65 162.00,345.90 C160.93,344.15 157.85,343.75 156.20,342.40 C154.55,341.05 152.88,339.93 152.10,337.80 C151.32,335.67 151.02,331.73 151.50,329.60Z"/></g>
<g clip-path="url(#bc32)"><g fill="#e60000" filter="url(#bl4)"><path d="M151.50,329.60 C151.98,327.47 153.83,325.97 155.00,325.00 C156.17,324.03 156.75,323.42 158.50,323.80 C160.25,324.18 163.27,326.52 165.50,327.30 C167.73,328.08 170.55,327.15 171.90,328.50 C173.25,329.85 173.22,332.88 173.60,335.40 C173.98,337.92 173.82,341.47 174.20,343.60 C174.58,345.73 175.80,346.65 175.90,348.20 C176.00,349.75 176.15,351.73 174.80,352.90 C173.45,354.07 169.83,355.20 167.80,355.20 C165.77,355.20 163.57,354.45 162.60,352.90 C161.63,351.35 163.07,347.65 162.00,345.90 C160.93,344.15 157.85,343.75 156.20,342.40 C154.55,341.05 152.88,339.93 152.10,337.80 C151.32,335.67 151.02,331.73 151.50,329.60Z"/></g></g>
<ellipse cx="162.5" cy="336" rx="8" ry="6" fill="url(#hr)" opacity="1" clip-path="url(#bc32)"/>
<ellipse cx="163.1" cy="337" rx="8" ry="4.48" fill="url(#hy)" opacity="0.9" clip-path="url(#bc32)"/>
<ellipse cx="168.4" cy="346" rx="4" ry="4" fill="url(#hr)" opacity="0.8" clip-path="url(#bc32)"/>
</g>
<g clip-path="url(#cbp)">
<rect x="194" y="25" width="153" height="81.5" fill="#222"/>
<rect x="196.0" y="25" width="2.2" height="28.1" fill="#363636" filter="url(#bl)"/>
<rect x="201.3" y="25" width="2.3" height="34.4" fill="#3c3c3c" filter="url(#bl)"/>
<rect x="205.7" y="25" width="2.1" height="31.0" fill="#363636" filter="url(#bl)"/>
<rect x="210.0" y="25" width="2.0" height="25.2" fill="#363636" filter="url(#bl)"/>
<rect x="214.7" y="25" width="2.0" height="26.7" fill="#3c3c3c" filter="url(#bl)"/>
<rect x="219.9" y="25" width="1.6" height="29.0" fill="#3c3c3c" filter="url(#bl)"/>
<rect x="225.6" y="25" width="1.6" height="35.8" fill="#363636" filter="url(#bl)"/>
<rect x="230.0" y="25" width="2.1" height="32.4" fill="#363636" filter="url(#bl)"/>
<rect x="234.9" y="25" width="2.1" height="30.0" fill="#363636" filter="url(#bl)"/>
<rect x="239.6" y="25" width="2.1" height="25.8" fill="#424242" filter="url(#bl)"/>
<rect x="244.1" y="25" width="2.0" height="33.5" fill="#3c3c3c" filter="url(#bl)"/>
<rect x="248.9" y="25" width="1.7" height="25.1" fill="#363636" filter="url(#bl)"/>
<rect x="253.3" y="25" width="2.0" height="27.5" fill="#363636" filter="url(#bl)"/>
<rect x="258.7" y="25" width="2.3" height="36.0" fill="#363636" filter="url(#bl)"/>
<rect x="263.6" y="25" width="1.8" height="34.8" fill="#424242" filter="url(#bl)"/>
<rect x="268.0" y="25" width="2.0" height="32.8" fill="#363636" filter="url(#bl)"/>
<rect x="273.1" y="25" width="1.6" height="33.0" fill="#3c3c3c" filter="url(#bl)"/>
<rect x="278.2" y="25" width="2.2" height="34.4" fill="#3c3c3c" filter="url(#bl)"/>
<rect x="283.6" y="25" width="2.0" height="35.0" fill="#3c3c3c" filter="url(#bl)"/>
<rect x="289.1" y="25" width="2.0" height="31.4" fill="#3c3c3c" filter="url(#bl)"/>
<rect x="293.6" y="25" width="1.8" height="28.0" fill="#363636" filter="url(#bl)"/>
<rect x="299.2" y="25" width="2.3" height="36.1" fill="#363636" filter="url(#bl)"/>
<rect x="304.0" y="25" width="2.3" height="28.2" fill="#3c3c3c" filter="url(#bl)"/>
<rect x="309.0" y="25" width="2.1" height="28.1" fill="#3c3c3c" filter="url(#bl)"/>
<rect x="314.6" y="25" width="1.5" height="26.8" fill="#363636" filter="url(#bl)"/>
<rect x="319.8" y="25" width="2.2" height="32.5" fill="#424242" filter="url(#bl)"/>
<rect x="324.8" y="25" width="2.1" height="26.9" fill="#3c3c3c" filter="url(#bl)"/>
<rect x="330.2" y="25" width="1.5" height="30.6" fill="#424242" filter="url(#bl)"/>
<rect x="335.4" y="25" width="1.6" height="27.9" fill="#363636" filter="url(#bl)"/>
<rect x="340.7" y="25" width="1.6" height="34.1" fill="#424242" filter="url(#bl)"/>
<rect x="345.9" y="25" width="1.5" height="32.0" fill="#424242" filter="url(#bl)"/>
<path id="m33" d="M214.00,26.00 C214.84,26.06 215.74,26.08 216.46,26.51 C217.17,26.94 217.87,27.60 218.26,28.58 C218.66,29.56 218.74,30.91 218.81,32.37 C218.88,33.83 218.62,35.95 218.66,37.35 C218.70,38.75 218.31,39.88 219.06,40.76 C219.80,41.64 221.74,42.00 223.13,42.65 C224.52,43.29 226.39,43.71 227.41,44.61 C228.44,45.50 229.05,46.92 229.29,48.01 C229.52,49.11 229.04,50.10 228.81,51.18 C228.58,52.25 228.10,53.04 227.90,54.48 C227.69,55.93 227.42,57.65 227.58,59.83 C227.74,62.02 228.59,64.87 228.85,67.60 C229.10,70.32 229.15,73.22 229.12,76.18 C229.10,79.15 228.88,82.48 228.70,85.39 C228.52,88.30 227.74,91.24 228.04,93.64 C228.35,96.04 230.46,97.90 230.53,99.80 C230.60,101.71 229.30,104.03 228.45,105.07 C227.61,106.10 226.38,106.53 225.44,106.01 C224.50,105.48 223.90,102.82 222.80,101.92 C221.69,101.02 220.13,100.42 218.81,100.61 C217.48,100.79 215.81,102.49 214.84,103.02 C213.87,103.55 213.57,103.84 213.00,103.79 C212.43,103.75 212.30,103.26 211.42,102.77 C210.55,102.28 209.05,100.92 207.76,100.84 C206.48,100.75 204.87,101.50 203.71,102.26 C202.55,103.01 201.87,104.93 200.80,105.37 C199.74,105.81 198.01,105.84 197.32,104.90 C196.63,103.96 196.63,101.60 196.68,99.71 C196.73,97.82 197.58,95.99 197.62,93.56 C197.65,91.13 196.96,88.06 196.89,85.12 C196.83,82.19 197.21,78.86 197.22,75.96 C197.23,73.06 196.75,70.39 196.94,67.73 C197.13,65.07 198.12,62.30 198.37,59.97 C198.63,57.65 198.56,55.20 198.47,53.79 C198.38,52.39 198.18,52.46 197.84,51.53 C197.49,50.59 196.14,49.29 196.37,48.18 C196.61,47.08 197.93,45.79 199.24,44.91 C200.54,44.02 202.84,43.54 204.20,42.89 C205.56,42.23 206.79,41.86 207.38,40.97 C207.96,40.08 207.47,38.99 207.73,37.53 C207.98,36.07 208.52,33.80 208.89,32.22 C209.26,30.64 209.52,29.05 209.94,28.05 C210.36,27.04 210.76,26.52 211.44,26.18 C212.11,25.84 213.16,25.94 214.00,26.00Z" fill="url(#mg)" filter="url(#bl)"/>
<ellipse cx="214.0" cy="33.1" rx="3.9" ry="5.7" fill="#dcdcdc" opacity="0.7" filter="url(#bl2)"/>
<ellipse cx="203.2" cy="49.5" rx="3.9" ry="4.9" fill="#e6e6e6" opacity="0.6" filter="url(#bl2)"/>
<ellipse cx="222.8" cy="49.5" rx="3.9" ry="4.9" fill="#e6e6e6" opacity="0.6" filter="url(#bl2)"/>
<ellipse cx="202.2" cy="98.4" rx="3.9" ry="4.1" fill="#ececec" opacity="0.7" filter="url(#bl2)"/>
<ellipse cx="223.8" cy="98.4" rx="3.9" ry="4.1" fill="#ececec" opacity="0.7" filter="url(#bl2)"/>
<path id="m34" d="M256.00,26.00 C256.75,25.97 257.88,25.74 258.47,26.10 C259.07,26.46 259.23,27.17 259.57,28.17 C259.91,29.17 260.38,30.57 260.51,32.11 C260.65,33.66 260.22,36.03 260.38,37.44 C260.53,38.85 260.76,39.76 261.46,40.59 C262.16,41.42 263.32,41.69 264.59,42.42 C265.86,43.15 267.94,44.06 269.09,44.98 C270.25,45.90 271.18,46.82 271.53,47.92 C271.88,49.03 271.60,50.53 271.21,51.60 C270.82,52.68 269.29,52.99 269.18,54.39 C269.07,55.78 270.41,57.68 270.56,59.96 C270.70,62.23 269.94,65.47 270.07,68.02 C270.19,70.57 271.21,72.30 271.31,75.26 C271.41,78.22 270.79,82.80 270.69,85.78 C270.59,88.76 270.59,90.85 270.71,93.13 C270.84,95.40 271.44,97.42 271.43,99.44 C271.42,101.46 271.33,104.26 270.65,105.26 C269.97,106.27 268.20,106.00 267.35,105.46 C266.50,104.93 266.70,102.82 265.55,102.07 C264.39,101.32 261.71,100.83 260.40,100.96 C259.09,101.09 258.46,102.39 257.66,102.86 C256.87,103.33 256.33,103.78 255.65,103.79 C254.97,103.81 254.48,103.45 253.56,102.97 C252.64,102.49 251.28,101.08 250.12,100.91 C248.97,100.75 247.71,101.12 246.64,101.97 C245.57,102.83 244.76,105.47 243.72,106.03 C242.68,106.60 241.13,106.44 240.39,105.37 C239.65,104.29 239.18,101.61 239.31,99.56 C239.43,97.50 241.00,95.46 241.12,93.02 C241.23,90.58 240.16,87.86 240.01,84.92 C239.86,81.98 240.07,78.25 240.20,75.38 C240.33,72.51 240.63,70.26 240.79,67.70 C240.96,65.14 240.97,62.25 241.20,60.03 C241.43,57.82 242.27,55.85 242.18,54.40 C242.09,52.95 241.06,52.33 240.67,51.32 C240.27,50.32 239.52,49.48 239.82,48.38 C240.11,47.29 241.38,45.83 242.42,44.77 C243.47,43.71 244.91,42.67 246.11,42.03 C247.32,41.40 248.81,41.75 249.66,40.97 C250.52,40.18 251.04,38.69 251.26,37.33 C251.48,35.98 250.78,34.24 250.98,32.83 C251.17,31.42 251.92,29.96 252.41,28.87 C252.91,27.78 253.35,26.78 253.95,26.31 C254.55,25.83 255.25,26.03 256.00,26.00Z" fill="url(#mg)" filter="url(#bl)"/>
<ellipse cx="256.0" cy="33.1" rx="3.8" ry="5.7" fill="#dcdcdc" opacity="0.7" filter="url(#bl2)"/>
<ellipse cx="246.3" cy="49.5" rx="3.8" ry="4.9" fill="#e6e6e6" opacity="0.6" filter="url(#bl2)"/>
<ellipse cx="265.0" cy="49.5" rx="3.8" ry="4.9" fill="#e6e6e6" opacity="0.6" filter="url(#bl2)"/>
<ellipse cx="245.3" cy="98.4" rx="3.8" ry="4.1" fill="#ececec" opacity="0.7" filter="url(#bl2)"/>
<ellipse cx="266.0" cy="98.4" rx="3.8" ry="4.1" fill="#ececec" opacity="0.7" filter="url(#bl2)"/>
<path id="m35" d="M290.00,26.00 C290.81,25.93 291.75,25.45 292.37,25.87 C292.98,26.29 293.42,27.38 293.70,28.53 C293.97,29.68 293.91,31.32 294.02,32.76 C294.14,34.21 294.19,35.81 294.38,37.20 C294.58,38.59 294.64,40.23 295.20,41.10 C295.76,41.96 296.59,41.75 297.72,42.38 C298.85,43.01 300.87,43.99 301.99,44.90 C303.11,45.81 304.14,46.81 304.44,47.86 C304.74,48.90 304.11,50.17 303.80,51.17 C303.48,52.17 302.70,52.36 302.54,53.85 C302.38,55.35 302.69,57.79 302.84,60.14 C302.99,62.50 303.31,65.42 303.45,67.98 C303.59,70.55 303.60,72.64 303.66,75.55 C303.71,78.46 303.80,82.42 303.77,85.43 C303.73,88.45 303.38,91.21 303.43,93.64 C303.47,96.07 303.92,98.10 304.05,100.00 C304.17,101.90 304.84,104.11 304.16,105.04 C303.48,105.98 301.07,106.20 299.97,105.61 C298.87,105.02 298.46,102.31 297.58,101.49 C296.71,100.67 295.75,100.46 294.71,100.69 C293.67,100.92 292.22,102.35 291.34,102.87 C290.45,103.39 290.09,103.82 289.40,103.79 C288.71,103.77 288.00,103.21 287.17,102.70 C286.34,102.18 285.57,100.84 284.45,100.71 C283.32,100.57 281.47,101.08 280.41,101.88 C279.35,102.68 279.01,105.01 278.09,105.52 C277.17,106.03 275.59,105.98 274.90,104.96 C274.20,103.94 273.74,101.41 273.91,99.40 C274.08,97.39 275.81,95.20 275.90,92.92 C276.00,90.65 274.67,88.63 274.48,85.75 C274.29,82.86 274.65,78.56 274.76,75.60 C274.88,72.64 274.96,70.67 275.15,67.98 C275.34,65.29 275.67,61.78 275.90,59.45 C276.12,57.12 276.54,55.37 276.49,53.99 C276.44,52.62 275.90,52.12 275.60,51.20 C275.29,50.28 274.36,49.52 274.67,48.47 C274.99,47.43 276.33,45.98 277.49,44.91 C278.66,43.85 280.63,42.74 281.67,42.07 C282.71,41.41 283.26,41.73 283.72,40.91 C284.18,40.09 284.03,38.61 284.41,37.18 C284.80,35.74 285.71,33.70 286.03,32.31 C286.35,30.92 286.07,29.83 286.32,28.83 C286.57,27.83 286.92,26.77 287.53,26.30 C288.15,25.83 289.19,26.07 290.00,26.00Z" fill="url(#mg)" filter="url(#bl)"/>
<ellipse cx="290.0" cy="33.1" rx="3.5" ry="5.7" fill="#dcdcdc" opacity="0.7" filter="url(#bl2)"/>
<ellipse cx="280.6" cy="49.5" rx="3.5" ry="4.9" fill="#e6e6e6" opacity="0.6" filter="url(#bl2)"/>
<ellipse cx="298.2" cy="49.5" rx="3.5" ry="4.9" fill="#e6e6e6" opacity="0.6" filter="url(#bl2)"/>
<ellipse cx="279.8" cy="98.4" rx="3.5" ry="4.1" fill="#ececec" opacity="0.7" filter="url(#bl2)"/>
<ellipse cx="299.0" cy="98.4" rx="3.5" ry="4.1" fill="#ececec" opacity="0.7" filter="url(#bl2)"/>
<path id="m36" d="M329.60,26.00 C330.14,25.88 330.82,25.58 331.41,25.94 C332.00,26.29 332.84,27.13 333.13,28.13 C333.42,29.13 333.16,30.40 333.13,31.95 C333.10,33.50 332.90,35.85 332.97,37.40 C333.04,38.96 332.98,40.39 333.53,41.29 C334.09,42.18 335.18,42.28 336.32,42.80 C337.45,43.31 339.27,43.55 340.35,44.38 C341.44,45.22 342.55,46.71 342.84,47.81 C343.12,48.90 342.49,49.87 342.09,50.96 C341.68,52.05 340.50,52.82 340.40,54.33 C340.30,55.84 341.22,57.86 341.48,60.03 C341.73,62.19 341.78,64.65 341.94,67.30 C342.09,69.95 342.33,72.85 342.40,75.93 C342.47,79.00 342.53,82.78 342.35,85.76 C342.18,88.75 341.23,91.56 341.38,93.81 C341.52,96.07 343.22,97.43 343.24,99.31 C343.27,101.20 342.20,104.13 341.54,105.14 C340.87,106.16 340.12,105.92 339.25,105.39 C338.37,104.87 337.48,102.75 336.30,102.01 C335.12,101.27 333.30,100.91 332.16,100.93 C331.02,100.96 330.19,101.69 329.45,102.17 C328.70,102.64 328.26,103.71 327.70,103.79 C327.14,103.88 326.89,103.17 326.09,102.66 C325.30,102.16 324.05,100.85 322.92,100.76 C321.79,100.66 320.34,101.21 319.30,102.08 C318.26,102.94 317.71,105.46 316.69,105.94 C315.66,106.41 313.83,105.90 313.14,104.92 C312.45,103.94 312.53,101.94 312.55,100.06 C312.56,98.18 313.15,96.13 313.21,93.64 C313.27,91.16 312.85,88.06 312.92,85.15 C313.00,82.24 313.57,79.03 313.66,76.18 C313.76,73.33 313.38,70.75 313.50,68.02 C313.61,65.29 314.30,62.06 314.37,59.79 C314.44,57.51 314.06,55.84 313.91,54.39 C313.76,52.94 313.59,52.07 313.47,51.08 C313.35,50.09 312.86,49.44 313.21,48.43 C313.57,47.42 314.53,45.96 315.60,45.02 C316.67,44.09 318.48,43.55 319.63,42.82 C320.78,42.09 321.69,41.60 322.50,40.63 C323.30,39.66 324.09,38.35 324.47,37.00 C324.84,35.65 324.60,33.87 324.77,32.50 C324.94,31.13 324.91,29.76 325.48,28.78 C326.05,27.80 327.49,27.10 328.18,26.64 C328.86,26.18 329.06,26.12 329.60,26.00Z" fill="url(#mg)" filter="url(#bl)"/>
<ellipse cx="329.6" cy="33.1" rx="3.5" ry="5.7" fill="#dcdcdc" opacity="0.7" filter="url(#bl2)"/>
<ellipse cx="318.9" cy="49.5" rx="3.5" ry="4.9" fill="#e6e6e6" opacity="0.6" filter="url(#bl2)"/>
<ellipse cx="336.5" cy="49.5" rx="3.5" ry="4.9" fill="#e6e6e6" opacity="0.6" filter="url(#bl2)"/>
<ellipse cx="318.0" cy="98.4" rx="3.5" ry="4.1" fill="#ececec" opacity="0.7" filter="url(#bl2)"/>
<ellipse cx="337.4" cy="98.4" rx="3.5" ry="4.1" fill="#ececec" opacity="0.7" filter="url(#bl2)"/>
<g filter="url(#texw)"><use href="#m33" fill="#000" filter="none"/><use href="#m34" fill="#000" filter="none"/><use href="#m35" fill="#000" filter="none"/><use href="#m36" fill="#000" filter="none"/></g>
<g filter="url(#texd)"><use href="#m33" fill="#000" filter="none"/><use href="#m34" fill="#000" filter="none"/><use href="#m35" fill="#000" filter="none"/><use href="#m36" fill="#000" filter="none"/></g>
<ellipse cx="215.7" cy="75.7" rx="3.4" ry="2.1" fill="#900000" filter="url(#bl)"/>
<ellipse cx="219.6" cy="88" rx="5.2" ry="9.7" fill="url(#bg)" transform="rotate(-5 219.6 88)" filter="url(#bl)"/>
<ellipse cx="260.5" cy="81.4" rx="7.2" ry="9.4" fill="url(#bg)" transform="rotate(-8 260.5 81.4)" filter="url(#bl)"/>
<ellipse cx="287.6" cy="68.5" rx="1.8" ry="1.8" fill="url(#bg)" filter="url(#bl)"/>
<ellipse cx="294.6" cy="84.2" rx="4.7" ry="8.7" fill="url(#bg)" transform="rotate(-5 294.6 84.2)" filter="url(#bl)"/>
<ellipse cx="333.5" cy="80.7" rx="6.5" ry="9.9" fill="url(#bg)" transform="rotate(-5 333.5 80.7)" filter="url(#bl)"/>
</g>
<g clip-path="url(#cbp)">
<rect x="194" y="113" width="153" height="81.5" fill="#222"/>
<rect x="196.0" y="113" width="2.0" height="35.8" fill="#363636" filter="url(#bl)"/>
<rect x="200.7" y="113" width="2.1" height="26.1" fill="#363636" filter="url(#bl)"/>
<rect x="206.3" y="113" width="2.2" height="24.9" fill="#3c3c3c" filter="url(#bl)"/>
<rect x="210.6" y="113" width="2.4" height="27.0" fill="#363636" filter="url(#bl)"/>
<rect x="214.9" y="113" width="1.9" height="33.7" fill="#424242" filter="url(#bl)"/>
<rect x="219.9" y="113" width="2.2" height="29.4" fill="#424242" filter="url(#bl)"/>
<rect x="225.4" y="113" width="1.6" height="30.5" fill="#3c3c3c" filter="url(#bl)"/>
<rect x="230.8" y="113" width="2.3" height="27.0" fill="#3c3c3c" filter="url(#bl)"/>
<rect x="235.7" y="113" width="1.9" height="33.7" fill="#424242" filter="url(#bl)"/>
<rect x="240.6" y="113" width="1.9" height="24.9" fill="#424242" filter="url(#bl)"/>
<rect x="245.2" y="113" width="1.9" height="28.9" fill="#363636" filter="url(#bl)"/>
<rect x="250.0" y="113" width="2.2" height="27.6" fill="#424242" filter="url(#bl)"/>
<rect x="254.8" y="113" width="2.0" height="26.4" fill="#363636" filter="url(#bl)"/>
<rect x="259.1" y="113" width="1.9" height="26.5" fill="#3c3c3c" filter="url(#bl)"/>
<rect x="263.3" y="113" width="2.0" height="29.9" fill="#424242" filter="url(#bl)"/>
<rect x="267.8" y="113" width="1.9" height="28.3" fill="#424242" filter="url(#bl)"/>
<rect x="272.1" y="113" width="1.5" height="29.4" fill="#3c3c3c" filter="url(#bl)"/>
<rect x="276.9" y="113" width="2.3" height="35.2" fill="#424242" filter="url(#bl)"/>
<rect x="281.5" y="113" width="1.9" height="26.5" fill="#363636" filter="url(#bl)"/>
<rect x="286.7" y="113" width="2.3" height="31.7" fill="#363636" filter="url(#bl)"/>
<rect x="292.2" y="113" width="1.7" height="34.1" fill="#363636" filter="url(#bl)"/>
<rect x="297.1" y="113" width="1.9" height="31.3" fill="#363636" filter="url(#bl)"/>
<rect x="301.4" y="113" width="2.1" height="28.7" fill="#363636" filter="url(#bl)"/>
<rect x="305.7" y="113" width="1.9" height="25.5" fill="#3c3c3c" filter="url(#bl)"/>
<rect x="310.9" y="113" width="1.5" height="25.6" fill="#424242" filter="url(#bl)"/>
<rect x="315.4" y="113" width="1.9" height="26.8" fill="#424242" filter="url(#bl)"/>
<rect x="320.4" y="113" width="1.7" height="36.4" fill="#363636" filter="url(#bl)"/>
<rect x="325.4" y="113" width="2.3" height="35.9" fill="#363636" filter="url(#bl)"/>
<rect x="329.6" y="113" width="2.2" height="32.2" fill="#363636" filter="url(#bl)"/>
<rect x="334.4" y="113" width="1.7" height="29.5" fill="#363636" filter="url(#bl)"/>
<rect x="339.5" y="113" width="1.8" height="32.8" fill="#3c3c3c" filter="url(#bl)"/>
<rect x="345.1" y="113" width="2.3" height="35.0" fill="#424242" filter="url(#bl)"/>
<path id="m37" d="M211.80,114.00 C212.47,114.05 213.53,114.31 214.15,114.67 C214.77,115.04 215.09,115.18 215.53,116.19 C215.97,117.19 216.53,119.14 216.78,120.71 C217.04,122.28 216.94,124.34 217.05,125.63 C217.15,126.91 216.79,127.59 217.40,128.44 C218.01,129.29 219.50,129.95 220.69,130.73 C221.87,131.50 223.37,132.24 224.51,133.09 C225.64,133.93 227.18,134.74 227.52,135.80 C227.85,136.86 226.87,138.44 226.52,139.43 C226.18,140.43 225.62,140.37 225.44,141.79 C225.27,143.20 225.30,145.61 225.49,147.93 C225.68,150.24 226.45,152.98 226.60,155.67 C226.74,158.35 226.23,161.11 226.35,164.02 C226.47,166.92 227.33,170.14 227.33,173.09 C227.33,176.05 226.22,179.30 226.34,181.75 C226.46,184.20 228.02,185.92 228.07,187.81 C228.13,189.69 227.52,192.13 226.67,193.08 C225.82,194.03 224.01,194.02 222.99,193.50 C221.97,192.99 221.60,190.79 220.55,189.98 C219.50,189.17 217.85,188.54 216.68,188.65 C215.52,188.75 214.36,190.08 213.55,190.61 C212.74,191.13 212.37,191.87 211.85,191.79 C211.33,191.72 211.39,190.71 210.46,190.15 C209.52,189.60 207.45,188.50 206.25,188.46 C205.04,188.43 204.28,189.08 203.24,189.92 C202.19,190.75 201.05,192.98 199.99,193.47 C198.93,193.96 197.54,193.87 196.89,192.85 C196.23,191.82 195.88,189.16 196.07,187.32 C196.26,185.49 197.99,184.17 198.02,181.84 C198.05,179.51 196.47,176.39 196.26,173.33 C196.05,170.28 196.63,166.44 196.77,163.49 C196.91,160.54 197.02,158.22 197.12,155.63 C197.22,153.04 197.25,150.13 197.37,147.94 C197.49,145.76 197.79,144.04 197.83,142.52 C197.87,141.00 197.73,139.95 197.60,138.82 C197.48,137.69 196.77,136.81 197.06,135.75 C197.34,134.68 198.33,133.24 199.31,132.41 C200.30,131.59 201.84,131.32 202.98,130.80 C204.11,130.27 205.57,130.27 206.13,129.27 C206.68,128.27 206.16,126.30 206.33,124.81 C206.50,123.32 206.77,121.64 207.15,120.32 C207.53,118.99 208.13,117.84 208.63,116.85 C209.13,115.86 209.60,114.86 210.13,114.38 C210.65,113.91 211.13,113.95 211.80,114.00Z" fill="url(#mg)" filter="url(#bl)"/>
<ellipse cx="211.8" cy="121.2" rx="3.6" ry="5.7" fill="#dcdcdc" opacity="0.7" filter="url(#bl2)"/>
<ellipse cx="202.8" cy="137.4" rx="3.6" ry="4.9" fill="#e6e6e6" opacity="0.6" filter="url(#bl2)"/>
<ellipse cx="220.9" cy="137.4" rx="3.6" ry="4.9" fill="#e6e6e6" opacity="0.6" filter="url(#bl2)"/>
<ellipse cx="201.9" cy="186.4" rx="3.6" ry="4.1" fill="#ececec" opacity="0.7" filter="url(#bl2)"/>
<ellipse cx="221.8" cy="186.4" rx="3.6" ry="4.1" fill="#ececec" opacity="0.7" filter="url(#bl2)"/>
<path id="m38" d="M250.30,114.00 C250.97,114.12 251.87,114.38 252.55,114.76 C253.22,115.14 253.93,115.42 254.35,116.30 C254.78,117.19 254.77,118.52 255.10,120.09 C255.43,121.65 256.15,124.32 256.35,125.70 C256.54,127.09 255.73,127.63 256.25,128.39 C256.78,129.16 258.07,129.49 259.49,130.30 C260.92,131.11 263.55,132.35 264.80,133.24 C266.04,134.12 266.72,134.58 266.98,135.62 C267.23,136.66 266.62,138.31 266.33,139.46 C266.03,140.62 265.46,141.22 265.21,142.54 C264.95,143.85 264.62,145.08 264.77,147.34 C264.93,149.61 265.82,153.43 266.13,156.13 C266.45,158.82 266.57,160.62 266.67,163.53 C266.76,166.44 266.94,170.65 266.72,173.60 C266.49,176.54 265.28,178.89 265.31,181.20 C265.35,183.50 266.77,185.51 266.92,187.42 C267.08,189.34 267.00,191.67 266.26,192.68 C265.52,193.68 263.44,194.02 262.48,193.46 C261.52,192.90 261.54,190.18 260.50,189.32 C259.47,188.46 257.69,188.01 256.29,188.29 C254.89,188.57 253.02,190.42 252.11,191.00 C251.19,191.59 251.28,191.79 250.80,191.79 C250.32,191.80 250.20,191.48 249.26,191.01 C248.31,190.54 246.37,189.17 245.12,188.96 C243.88,188.75 242.75,188.86 241.78,189.74 C240.81,190.61 240.45,193.65 239.30,194.21 C238.15,194.78 235.70,194.22 234.88,193.12 C234.07,192.02 234.35,189.59 234.43,187.63 C234.51,185.67 235.31,183.78 235.38,181.35 C235.45,178.91 234.82,176.01 234.84,173.00 C234.86,170.00 235.40,166.17 235.51,163.30 C235.62,160.42 235.32,158.30 235.52,155.76 C235.72,153.21 236.49,150.34 236.71,148.04 C236.94,145.75 236.98,143.48 236.88,141.99 C236.77,140.49 236.46,140.06 236.07,139.04 C235.68,138.03 234.28,136.93 234.53,135.90 C234.77,134.86 236.33,133.68 237.52,132.84 C238.72,131.99 240.45,131.42 241.72,130.83 C242.98,130.24 244.41,130.17 245.10,129.30 C245.80,128.43 245.83,127.13 245.89,125.61 C245.95,124.08 245.36,121.71 245.47,120.14 C245.59,118.57 246.07,117.22 246.58,116.20 C247.10,115.18 247.93,114.40 248.55,114.03 C249.17,113.67 249.63,113.88 250.30,114.00Z" fill="url(#mg)" filter="url(#bl)"/>
<ellipse cx="250.3" cy="121.2" rx="3.8" ry="5.7" fill="#dcdcdc" opacity="0.7" filter="url(#bl2)"/>
<ellipse cx="241.3" cy="137.4" rx="3.8" ry="4.9" fill="#e6e6e6" opacity="0.6" filter="url(#bl2)"/>
<ellipse cx="260.3" cy="137.4" rx="3.8" ry="4.9" fill="#e6e6e6" opacity="0.6" filter="url(#bl2)"/>
<ellipse cx="240.4" cy="186.4" rx="3.8" ry="4.1" fill="#ececec" opacity="0.7" filter="url(#bl2)"/>
<ellipse cx="261.2" cy="186.4" rx="3.8" ry="4.1" fill="#ececec" opacity="0.7" filter="url(#bl2)"/>
<path id="m39" d="M287.60,114.00 C288.19,114.14 288.75,114.32 289.50,114.79 C290.25,115.26 291.67,115.91 292.08,116.82 C292.50,117.72 291.73,118.88 291.99,120.21 C292.24,121.54 293.21,123.40 293.59,124.80 C293.97,126.21 293.57,127.78 294.27,128.64 C294.96,129.50 296.47,129.30 297.77,129.98 C299.06,130.65 301.09,131.76 302.04,132.69 C302.99,133.63 303.19,134.48 303.48,135.58 C303.77,136.67 304.03,138.22 303.79,139.29 C303.55,140.36 302.12,140.65 302.03,142.01 C301.94,143.36 303.05,145.19 303.26,147.41 C303.47,149.64 303.27,152.59 303.30,155.36 C303.33,158.12 303.28,161.03 303.44,163.98 C303.60,166.93 304.39,170.23 304.27,173.06 C304.14,175.89 302.60,178.52 302.68,180.97 C302.77,183.42 304.65,185.82 304.77,187.78 C304.89,189.74 304.13,191.68 303.40,192.71 C302.67,193.75 301.25,194.47 300.36,194.00 C299.48,193.52 299.31,190.84 298.09,189.87 C296.88,188.90 294.35,188.06 293.07,188.17 C291.80,188.27 291.24,189.90 290.43,190.50 C289.63,191.11 288.98,191.85 288.25,191.79 C287.52,191.74 287.01,190.72 286.08,190.16 C285.15,189.60 283.95,188.43 282.66,188.43 C281.38,188.42 279.43,189.32 278.37,190.14 C277.31,190.96 277.30,192.86 276.29,193.33 C275.28,193.81 273.11,193.94 272.30,192.97 C271.48,192.01 271.17,189.44 271.40,187.56 C271.63,185.68 273.47,184.11 273.68,181.69 C273.89,179.26 272.81,176.00 272.67,173.02 C272.52,170.05 272.61,166.70 272.82,163.82 C273.03,160.93 273.74,158.41 273.91,155.72 C274.08,153.04 273.72,149.94 273.83,147.70 C273.94,145.46 274.74,143.62 274.55,142.28 C274.37,140.93 273.04,140.62 272.73,139.61 C272.42,138.61 272.35,137.35 272.68,136.26 C273.01,135.17 273.59,134.00 274.72,133.09 C275.85,132.18 278.35,131.51 279.47,130.80 C280.59,130.09 280.91,129.76 281.44,128.83 C281.98,127.91 282.43,126.74 282.69,125.26 C282.95,123.78 282.89,121.47 282.99,119.95 C283.09,118.44 282.80,117.14 283.29,116.14 C283.78,115.14 285.23,114.30 285.95,113.94 C286.67,113.58 287.01,113.86 287.60,114.00Z" fill="url(#mg)" filter="url(#bl)"/>
<ellipse cx="287.6" cy="121.2" rx="3.8" ry="5.7" fill="#dcdcdc" opacity="0.7" filter="url(#bl2)"/>
<ellipse cx="278.8" cy="137.4" rx="3.8" ry="4.9" fill="#e6e6e6" opacity="0.6" filter="url(#bl2)"/>
<ellipse cx="297.7" cy="137.4" rx="3.8" ry="4.9" fill="#e6e6e6" opacity="0.6" filter="url(#bl2)"/>
<ellipse cx="277.9" cy="186.4" rx="3.8" ry="4.1" fill="#ececec" opacity="0.7" filter="url(#bl2)"/>
<ellipse cx="298.6" cy="186.4" rx="3.8" ry="4.1" fill="#ececec" opacity="0.7" filter="url(#bl2)"/>
<path id="m40" d="M329.60,114.00 C330.13,114.04 330.75,114.29 331.25,114.63 C331.75,114.96 332.11,115.10 332.59,116.02 C333.06,116.93 333.96,118.57 334.10,120.12 C334.25,121.67 333.35,123.87 333.45,125.32 C333.55,126.78 333.97,128.07 334.70,128.86 C335.44,129.65 336.61,129.36 337.85,130.06 C339.10,130.76 341.29,132.12 342.18,133.06 C343.07,133.99 343.04,134.66 343.17,135.69 C343.30,136.73 343.21,138.26 342.98,139.26 C342.75,140.27 341.92,140.36 341.80,141.71 C341.68,143.05 342.07,144.94 342.26,147.33 C342.45,149.73 342.82,153.31 342.95,156.05 C343.07,158.79 342.86,160.97 343.02,163.79 C343.17,166.62 343.87,170.03 343.90,173.02 C343.94,176.02 343.21,179.34 343.23,181.79 C343.26,184.24 344.00,185.84 344.08,187.71 C344.16,189.58 344.42,191.94 343.71,193.02 C343.00,194.11 340.78,194.79 339.80,194.22 C338.82,193.66 338.95,190.60 337.82,189.63 C336.69,188.67 334.32,188.19 333.03,188.43 C331.74,188.66 330.85,190.49 330.06,191.05 C329.27,191.62 328.96,191.80 328.30,191.79 C327.64,191.78 327.00,191.47 326.09,190.99 C325.19,190.51 323.94,189.12 322.87,188.92 C321.79,188.72 320.79,188.92 319.67,189.81 C318.54,190.69 317.12,193.70 316.11,194.22 C315.10,194.74 314.26,194.02 313.61,192.92 C312.97,191.83 312.21,189.65 312.23,187.65 C312.24,185.66 313.58,183.34 313.73,180.95 C313.87,178.57 313.08,176.28 313.08,173.35 C313.08,170.42 313.72,166.27 313.74,163.38 C313.76,160.48 313.20,158.56 313.19,155.97 C313.18,153.38 313.53,150.07 313.69,147.81 C313.85,145.56 314.24,143.94 314.15,142.44 C314.06,140.94 313.34,139.92 313.14,138.81 C312.94,137.71 312.60,136.86 312.95,135.83 C313.29,134.80 314.08,133.46 315.22,132.63 C316.35,131.80 318.49,131.52 319.76,130.85 C321.04,130.18 322.16,129.54 322.85,128.60 C323.54,127.65 323.71,126.56 323.92,125.16 C324.14,123.77 323.77,121.65 324.12,120.21 C324.47,118.78 325.37,117.51 326.03,116.55 C326.68,115.58 327.46,114.84 328.05,114.41 C328.65,113.99 329.07,113.96 329.60,114.00Z" fill="url(#mg)" filter="url(#bl)"/>
<ellipse cx="329.6" cy="121.2" rx="3.7" ry="5.7" fill="#dcdcdc" opacity="0.7" filter="url(#bl2)"/>
<ellipse cx="319.1" cy="137.4" rx="3.7" ry="4.9" fill="#e6e6e6" opacity="0.6" filter="url(#bl2)"/>
<ellipse cx="337.5" cy="137.4" rx="3.7" ry="4.9" fill="#e6e6e6" opacity="0.6" filter="url(#bl2)"/>
<ellipse cx="318.2" cy="186.4" rx="3.7" ry="4.1" fill="#ececec" opacity="0.7" filter="url(#bl2)"/>
<ellipse cx="338.4" cy="186.4" rx="3.7" ry="4.1" fill="#ececec" opacity="0.7" filter="url(#bl2)"/>
<g filter="url(#texw)"><use href="#m37" fill="#000" filter="none"/><use href="#m38" fill="#000" filter="none"/><use href="#m39" fill="#000" filter="none"/><use href="#m40" fill="#000" filter="none"/></g>
<g filter="url(#texd)"><use href="#m37" fill="#000" filter="none"/><use href="#m38" fill="#000" filter="none"/><use href="#m39" fill="#000" filter="none"/><use href="#m40" fill="#000" filter="none"/></g>
<ellipse cx="218.2" cy="172.8" rx="4.2" ry="8.2" fill="url(#bg)" transform="rotate(5 218.2 172.8)" filter="url(#bl)"/>
<ellipse cx="258.4" cy="173.3" rx="4.6" ry="8.7" fill="url(#bg)" transform="rotate(10 258.4 173.3)" filter="url(#bl)"/>
<ellipse cx="288.3" cy="157.2" rx="1.3" ry="1.3" fill="#900000" filter="url(#bl)"/>
<ellipse cx="294.6" cy="175.6" rx="4.7" ry="7.7" fill="url(#bg)" transform="rotate(0 294.6 175.6)" filter="url(#bl)"/>
<ellipse cx="336.5" cy="172.8" rx="4.5" ry="8.2" fill="url(#bg)" transform="rotate(-5 336.5 172.8)" filter="url(#bl)"/>
</g>
<g clip-path="url(#cbp)">
<rect x="194" y="201" width="153" height="81" fill="#222"/>
<rect x="196.0" y="201" width="1.8" height="26.5" fill="#3c3c3c" filter="url(#bl)"/>
<rect x="201.5" y="201" width="1.7" height="33.8" fill="#363636" filter="url(#bl)"/>
<rect x="206.5" y="201" width="2.2" height="30.5" fill="#363636" filter="url(#bl)"/>
<rect x="211.9" y="201" width="2.1" height="35.8" fill="#3c3c3c" filter="url(#bl)"/>
<rect x="216.1" y="201" width="2.1" height="24.6" fill="#424242" filter="url(#bl)"/>
<rect x="221.1" y="201" width="2.1" height="25.5" fill="#3c3c3c" filter="url(#bl)"/>
<rect x="225.7" y="201" width="1.6" height="31.7" fill="#3c3c3c" filter="url(#bl)"/>
<rect x="229.9" y="201" width="2.3" height="33.2" fill="#363636" filter="url(#bl)"/>
<rect x="234.7" y="201" width="1.5" height="26.7" fill="#363636" filter="url(#bl)"/>
<rect x="240.1" y="201" width="1.8" height="28.1" fill="#424242" filter="url(#bl)"/>
<rect x="245.0" y="201" width="1.7" height="32.7" fill="#3c3c3c" filter="url(#bl)"/>
<rect x="250.8" y="201" width="1.6" height="36.3" fill="#3c3c3c" filter="url(#bl)"/>
<rect x="255.2" y="201" width="2.4" height="27.0" fill="#363636" filter="url(#bl)"/>
<rect x="260.3" y="201" width="2.0" height="35.3" fill="#363636" filter="url(#bl)"/>
<rect x="265.0" y="201" width="2.2" height="30.0" fill="#3c3c3c" filter="url(#bl)"/>
<rect x="270.2" y="201" width="2.2" height="25.7" fill="#424242" filter="url(#bl)"/>
<rect x="274.4" y="201" width="1.7" height="35.2" fill="#424242" filter="url(#bl)"/>
<rect x="278.8" y="201" width="1.9" height="34.3" fill="#363636" filter="url(#bl)"/>
<rect x="284.1" y="201" width="2.1" height="33.6" fill="#424242" filter="url(#bl)"/>
<rect x="289.7" y="201" width="1.9" height="32.3" fill="#363636" filter="url(#bl)"/>
<rect x="295.1" y="201" width="2.3" height="31.5" fill="#363636" filter="url(#bl)"/>
<rect x="300.6" y="201" width="1.6" height="24.4" fill="#424242" filter="url(#bl)"/>
<rect x="305.3" y="201" width="1.6" height="28.5" fill="#3c3c3c" filter="url(#bl)"/>
<rect x="310.3" y="201" width="2.3" height="32.6" fill="#424242" filter="url(#bl)"/>
<rect x="315.0" y="201" width="1.6" height="30.6" fill="#3c3c3c" filter="url(#bl)"/>
<rect x="319.6" y="201" width="1.8" height="29.5" fill="#424242" filter="url(#bl)"/>
<rect x="324.0" y="201" width="1.8" height="33.4" fill="#424242" filter="url(#bl)"/>
<rect x="328.5" y="201" width="2.3" height="36.3" fill="#424242" filter="url(#bl)"/>
<rect x="333.7" y="201" width="2.0" height="29.4" fill="#3c3c3c" filter="url(#bl)"/>
<rect x="339.4" y="201" width="2.4" height="30.2" fill="#3c3c3c" filter="url(#bl)"/>
<rect x="344.8" y="201" width="1.9" height="31.4" fill="#363636" filter="url(#bl)"/>
<path id="m41" d="M211.80,202.00 C212.59,202.04 213.76,201.94 214.32,202.33 C214.88,202.73 214.81,203.41 215.16,204.36 C215.51,205.31 216.20,206.63 216.40,208.04 C216.60,209.45 216.21,211.37 216.37,212.81 C216.52,214.24 216.67,215.77 217.34,216.66 C218.00,217.54 219.19,217.41 220.36,218.09 C221.54,218.78 223.19,219.79 224.37,220.77 C225.54,221.76 227.06,222.94 227.41,224.02 C227.76,225.10 226.86,226.24 226.48,227.25 C226.10,228.26 225.25,228.72 225.12,230.10 C225.00,231.47 225.53,233.30 225.74,235.52 C225.95,237.74 226.23,240.81 226.38,243.41 C226.53,246.02 226.57,248.24 226.62,251.17 C226.67,254.10 226.75,258.01 226.66,260.99 C226.58,263.97 226.04,266.66 226.10,269.03 C226.16,271.40 226.84,273.31 227.01,275.18 C227.19,277.05 227.73,279.24 227.14,280.25 C226.54,281.27 224.51,281.71 223.43,281.29 C222.36,280.88 221.82,278.60 220.68,277.78 C219.54,276.96 217.84,276.40 216.60,276.38 C215.36,276.37 214.05,277.21 213.25,277.70 C212.46,278.19 212.46,279.25 211.85,279.31 C211.24,279.37 210.33,278.61 209.58,278.06 C208.84,277.51 208.51,276.10 207.38,276.01 C206.26,275.93 203.93,276.70 202.83,277.54 C201.74,278.38 201.87,280.51 200.81,281.04 C199.75,281.57 197.16,281.71 196.45,280.73 C195.73,279.75 196.31,277.10 196.51,275.17 C196.71,273.23 197.63,271.42 197.64,269.12 C197.64,266.81 196.75,264.26 196.56,261.31 C196.36,258.37 196.36,254.37 196.46,251.43 C196.56,248.49 196.98,246.34 197.17,243.68 C197.36,241.01 197.48,237.71 197.60,235.45 C197.71,233.19 198.00,231.54 197.87,230.09 C197.74,228.64 197.07,227.86 196.80,226.75 C196.53,225.64 195.96,224.43 196.25,223.44 C196.53,222.45 197.35,221.59 198.49,220.81 C199.62,220.03 201.80,219.47 203.05,218.78 C204.30,218.09 205.41,217.54 205.99,216.67 C206.56,215.79 206.29,214.92 206.48,213.51 C206.67,212.11 206.85,209.79 207.14,208.26 C207.43,206.73 207.82,205.37 208.23,204.35 C208.63,203.33 208.96,202.51 209.56,202.12 C210.16,201.73 211.01,201.96 211.80,202.00Z" fill="url(#mg)" filter="url(#bl)"/>
<ellipse cx="211.8" cy="209.1" rx="3.6" ry="5.7" fill="#dcdcdc" opacity="0.7" filter="url(#bl2)"/>
<ellipse cx="202.8" cy="225.3" rx="3.6" ry="4.9" fill="#e6e6e6" opacity="0.6" filter="url(#bl2)"/>
<ellipse cx="220.9" cy="225.3" rx="3.6" ry="4.9" fill="#e6e6e6" opacity="0.6" filter="url(#bl2)"/>
<ellipse cx="201.9" cy="273.9" rx="3.6" ry="4.0" fill="#ececec" opacity="0.7" filter="url(#bl2)"/>
<ellipse cx="221.8" cy="273.9" rx="3.6" ry="4.0" fill="#ececec" opacity="0.7" filter="url(#bl2)"/>
<path id="m42" d="M253.80,202.00 C254.33,202.04 255.05,202.00 255.60,202.37 C256.15,202.74 256.67,203.16 257.08,204.22 C257.48,205.28 257.93,207.23 258.03,208.71 C258.14,210.19 257.76,211.80 257.71,213.10 C257.66,214.41 257.27,215.67 257.74,216.56 C258.22,217.44 259.31,217.78 260.54,218.41 C261.77,219.04 264.00,219.45 265.13,220.34 C266.26,221.23 267.11,222.57 267.32,223.75 C267.54,224.93 266.69,226.45 266.41,227.43 C266.13,228.41 265.83,228.21 265.64,229.61 C265.46,231.02 265.36,233.63 265.30,235.87 C265.23,238.10 265.04,240.42 265.25,243.01 C265.45,245.60 266.22,248.37 266.53,251.41 C266.84,254.45 267.22,258.24 267.11,261.24 C267.00,264.24 265.87,267.07 265.89,269.42 C265.91,271.77 267.12,273.51 267.23,275.34 C267.33,277.17 267.26,279.39 266.52,280.40 C265.78,281.41 263.82,281.83 262.79,281.39 C261.76,280.95 261.38,278.62 260.36,277.74 C259.34,276.87 257.93,276.10 256.66,276.15 C255.40,276.19 253.65,277.47 252.78,277.99 C251.91,278.52 251.95,279.28 251.45,279.31 C250.95,279.34 250.60,278.64 249.75,278.17 C248.90,277.70 247.69,276.63 246.36,276.48 C245.03,276.34 242.86,276.48 241.80,277.30 C240.74,278.13 240.97,280.91 240.01,281.42 C239.04,281.93 236.73,281.32 236.00,280.35 C235.28,279.39 235.41,277.56 235.66,275.63 C235.90,273.70 237.45,271.16 237.46,268.77 C237.47,266.38 235.89,264.25 235.72,261.29 C235.55,258.33 236.29,253.99 236.44,251.04 C236.58,248.10 236.46,246.14 236.58,243.63 C236.69,241.11 237.00,238.24 237.12,235.94 C237.25,233.64 237.31,231.33 237.34,229.82 C237.38,228.31 237.47,227.89 237.32,226.90 C237.18,225.92 236.15,225.00 236.48,223.92 C236.82,222.84 238.21,221.34 239.34,220.43 C240.46,219.51 242.01,218.97 243.24,218.44 C244.47,217.90 246.00,218.17 246.73,217.22 C247.45,216.26 247.25,214.15 247.58,212.72 C247.91,211.29 248.28,210.01 248.71,208.65 C249.14,207.29 249.53,205.66 250.15,204.57 C250.76,203.49 251.81,202.56 252.42,202.13 C253.03,201.70 253.27,201.96 253.80,202.00Z" fill="url(#mg)" filter="url(#bl)"/>
<ellipse cx="253.8" cy="209.1" rx="3.6" ry="5.7" fill="#dcdcdc" opacity="0.7" filter="url(#bl2)"/>
<ellipse cx="242.4" cy="225.3" rx="3.6" ry="4.9" fill="#e6e6e6" opacity="0.6" filter="url(#bl2)"/>
<ellipse cx="260.5" cy="225.3" rx="3.6" ry="4.9" fill="#e6e6e6" opacity="0.6" filter="url(#bl2)"/>
<ellipse cx="241.5" cy="273.9" rx="3.6" ry="4.0" fill="#ececec" opacity="0.7" filter="url(#bl2)"/>
<ellipse cx="261.4" cy="273.9" rx="3.6" ry="4.0" fill="#ececec" opacity="0.7" filter="url(#bl2)"/>
<path id="m43" d="M287.60,202.00 C288.44,202.04 289.54,202.05 290.23,202.40 C290.92,202.75 291.40,203.10 291.73,204.10 C292.06,205.11 292.16,206.89 292.21,208.43 C292.26,209.96 291.93,211.83 292.06,213.30 C292.19,214.76 292.27,216.39 292.98,217.22 C293.70,218.05 295.13,217.72 296.35,218.25 C297.57,218.78 299.15,219.52 300.31,220.40 C301.48,221.28 303.11,222.48 303.32,223.54 C303.53,224.61 301.95,225.68 301.58,226.79 C301.22,227.90 301.14,228.71 301.14,230.20 C301.14,231.70 301.56,233.64 301.60,235.77 C301.64,237.90 301.13,240.40 301.36,242.98 C301.60,245.56 302.71,248.27 303.00,251.24 C303.28,254.22 303.34,257.92 303.09,260.84 C302.84,263.75 301.53,266.25 301.51,268.72 C301.48,271.20 302.76,273.77 302.93,275.71 C303.11,277.65 303.28,279.45 302.57,280.36 C301.86,281.27 299.87,281.64 298.68,281.19 C297.49,280.75 296.62,278.46 295.44,277.69 C294.26,276.92 292.85,276.47 291.59,276.56 C290.32,276.65 288.79,277.77 287.85,278.23 C286.90,278.69 286.51,279.40 285.90,279.31 C285.29,279.22 285.24,278.15 284.21,277.68 C283.18,277.20 281.11,276.46 279.74,276.46 C278.37,276.46 277.20,276.92 276.01,277.70 C274.83,278.47 273.76,280.57 272.63,281.11 C271.49,281.65 269.92,281.84 269.20,280.94 C268.48,280.05 268.16,277.77 268.33,275.75 C268.50,273.74 270.13,271.35 270.19,268.84 C270.25,266.34 268.83,263.56 268.70,260.71 C268.58,257.87 269.23,254.60 269.43,251.77 C269.62,248.94 269.65,246.49 269.87,243.72 C270.08,240.96 270.53,237.52 270.70,235.16 C270.87,232.81 271.16,230.97 270.88,229.60 C270.60,228.22 269.34,227.91 269.04,226.91 C268.74,225.90 268.64,224.60 269.08,223.55 C269.53,222.50 270.41,221.56 271.70,220.62 C272.98,219.68 275.31,218.52 276.80,217.92 C278.28,217.33 279.84,217.89 280.62,217.06 C281.39,216.22 281.13,214.40 281.45,212.91 C281.76,211.43 282.12,209.66 282.51,208.17 C282.89,206.67 283.32,204.95 283.76,203.95 C284.20,202.95 284.53,202.49 285.17,202.17 C285.81,201.84 286.76,201.96 287.60,202.00Z" fill="url(#mg)" filter="url(#bl)"/>
<ellipse cx="287.6" cy="209.1" rx="4.1" ry="5.7" fill="#dcdcdc" opacity="0.7" filter="url(#bl2)"/>
<ellipse cx="275.8" cy="225.3" rx="4.1" ry="4.9" fill="#e6e6e6" opacity="0.6" filter="url(#bl2)"/>
<ellipse cx="296.0" cy="225.3" rx="4.1" ry="4.9" fill="#e6e6e6" opacity="0.6" filter="url(#bl2)"/>
<ellipse cx="274.7" cy="273.9" rx="4.1" ry="4.0" fill="#ececec" opacity="0.7" filter="url(#bl2)"/>
<ellipse cx="297.1" cy="273.9" rx="4.1" ry="4.0" fill="#ececec" opacity="0.7" filter="url(#bl2)"/>
<path id="m44" d="M329.60,202.00 C330.17,202.05 330.66,202.15 331.18,202.52 C331.70,202.88 332.19,203.25 332.71,204.17 C333.24,205.09 334.12,206.47 334.31,208.02 C334.50,209.57 333.78,212.08 333.88,213.48 C333.98,214.88 334.33,215.57 334.90,216.42 C335.48,217.26 336.22,217.76 337.33,218.55 C338.45,219.34 340.59,220.20 341.59,221.17 C342.59,222.13 343.12,223.40 343.35,224.35 C343.58,225.29 343.21,225.98 342.97,226.84 C342.74,227.71 342.02,228.14 341.96,229.54 C341.90,230.94 342.37,232.91 342.60,235.25 C342.82,237.58 343.20,240.87 343.32,243.53 C343.43,246.18 343.20,248.31 343.28,251.17 C343.35,254.03 343.74,257.80 343.74,260.70 C343.74,263.61 343.20,266.14 343.28,268.59 C343.37,271.03 344.30,273.34 344.25,275.36 C344.20,277.39 343.76,279.75 342.99,280.76 C342.23,281.78 340.60,282.06 339.66,281.45 C338.72,280.85 338.50,278.09 337.37,277.14 C336.23,276.18 334.22,275.51 332.87,275.73 C331.53,275.94 330.13,277.85 329.29,278.45 C328.44,279.05 328.33,279.34 327.80,279.31 C327.27,279.28 326.92,278.79 326.13,278.27 C325.34,277.75 324.35,276.34 323.08,276.18 C321.81,276.02 319.67,276.53 318.50,277.32 C317.32,278.10 317.04,280.40 316.05,280.89 C315.06,281.37 313.26,281.14 312.55,280.24 C311.85,279.35 311.76,277.43 311.84,275.53 C311.93,273.63 313.12,271.24 313.07,268.86 C313.01,266.47 311.71,264.09 311.48,261.24 C311.25,258.39 311.38,254.76 311.67,251.76 C311.97,248.76 312.89,245.92 313.25,243.23 C313.62,240.54 313.84,237.89 313.86,235.65 C313.88,233.40 313.56,231.15 313.37,229.75 C313.19,228.35 312.99,228.27 312.74,227.26 C312.50,226.24 311.68,224.79 311.92,223.68 C312.15,222.57 312.98,221.53 314.17,220.59 C315.37,219.65 317.60,218.61 319.07,218.03 C320.53,217.46 322.25,217.92 322.94,217.14 C323.64,216.36 322.89,214.90 323.23,213.36 C323.58,211.83 324.52,209.48 324.99,207.94 C325.47,206.39 325.61,205.06 326.08,204.10 C326.54,203.15 327.19,202.56 327.78,202.20 C328.37,201.85 329.03,201.95 329.60,202.00Z" fill="url(#mg)" filter="url(#bl)"/>
<ellipse cx="329.6" cy="209.1" rx="3.8" ry="5.7" fill="#dcdcdc" opacity="0.7" filter="url(#bl2)"/>
<ellipse cx="318.3" cy="225.3" rx="3.8" ry="4.9" fill="#e6e6e6" opacity="0.6" filter="url(#bl2)"/>
<ellipse cx="337.3" cy="225.3" rx="3.8" ry="4.9" fill="#e6e6e6" opacity="0.6" filter="url(#bl2)"/>
<ellipse cx="317.4" cy="273.9" rx="3.8" ry="4.0" fill="#ececec" opacity="0.7" filter="url(#bl2)"/>
<ellipse cx="338.2" cy="273.9" rx="3.8" ry="4.0" fill="#ececec" opacity="0.7" filter="url(#bl2)"/>
<g filter="url(#texw)"><use href="#m41" fill="#000" filter="none"/><use href="#m42" fill="#000" filter="none"/><use href="#m43" fill="#000" filter="none"/><use href="#m44" fill="#000" filter="none"/></g>
<g filter="url(#texd)"><use href="#m41" fill="#000" filter="none"/><use href="#m42" fill="#000" filter="none"/><use href="#m43" fill="#000" filter="none"/><use href="#m44" fill="#000" filter="none"/></g>
<ellipse cx="219.4" cy="259.5" rx="4.1" ry="9.5" fill="url(#bg)" transform="rotate(0 219.4 259.5)" filter="url(#bl)"/>
<ellipse cx="256.1" cy="260.6" rx="4.6" ry="10.6" fill="url(#bg)" transform="rotate(5 256.1 260.6)" filter="url(#bl)"/>
<ellipse cx="292.8" cy="259.6" rx="5.2" ry="8.2" fill="url(#bg)" transform="rotate(0 292.8 259.6)" filter="url(#bl)"/>
<ellipse cx="329.6" cy="242.8" rx="1.3" ry="1.3" fill="#900000" filter="url(#bl)"/>
<ellipse cx="336" cy="262" rx="4" ry="7" fill="url(#bg)" transform="rotate(0 336 262)" filter="url(#bl)"/>
</g>
<g clip-path="url(#cbp)">
<rect x="194" y="289" width="153" height="78.5" fill="#222"/>
<rect x="196.0" y="289" width="1.7" height="24.7" fill="#424242" filter="url(#bl)"/>
<rect x="201.4" y="289" width="2.0" height="24.3" fill="#363636" filter="url(#bl)"/>
<rect x="206.3" y="289" width="2.2" height="26.8" fill="#424242" filter="url(#bl)"/>
<rect x="211.2" y="289" width="1.9" height="25.9" fill="#363636" filter="url(#bl)"/>
<rect x="216.7" y="289" width="1.6" height="27.1" fill="#424242" filter="url(#bl)"/>
<rect x="221.5" y="289" width="1.7" height="29.3" fill="#424242" filter="url(#bl)"/>
<rect x="227.0" y="289" width="2.4" height="35.1" fill="#363636" filter="url(#bl)"/>
<rect x="232.6" y="289" width="2.3" height="28.6" fill="#363636" filter="url(#bl)"/>
<rect x="238.3" y="289" width="2.0" height="29.9" fill="#363636" filter="url(#bl)"/>
<rect x="243.1" y="289" width="1.8" height="29.0" fill="#363636" filter="url(#bl)"/>
<rect x="248.7" y="289" width="2.2" height="34.5" fill="#363636" filter="url(#bl)"/>
<rect x="253.7" y="289" width="1.6" height="29.8" fill="#424242" filter="url(#bl)"/>
<rect x="258.8" y="289" width="2.4" height="23.6" fill="#424242" filter="url(#bl)"/>
<rect x="264.6" y="289" width="1.8" height="34.9" fill="#363636" filter="url(#bl)"/>
<rect x="269.4" y="289" width="1.5" height="25.7" fill="#3c3c3c" filter="url(#bl)"/>
<rect x="273.6" y="289" width="2.3" height="33.4" fill="#363636" filter="url(#bl)"/>
<rect x="278.7" y="289" width="1.9" height="26.6" fill="#424242" filter="url(#bl)"/>
<rect x="284.0" y="289" width="1.9" height="26.6" fill="#363636" filter="url(#bl)"/>
<rect x="288.3" y="289" width="1.5" height="35.3" fill="#363636" filter="url(#bl)"/>
<rect x="292.7" y="289" width="1.7" height="25.1" fill="#3c3c3c" filter="url(#bl)"/>
<rect x="298.2" y="289" width="2.0" height="33.3" fill="#363636" filter="url(#bl)"/>
<rect x="303.2" y="289" width="1.5" height="24.1" fill="#363636" filter="url(#bl)"/>
<rect x="308.2" y="289" width="2.3" height="34.2" fill="#424242" filter="url(#bl)"/>
<rect x="313.2" y="289" width="2.2" height="33.7" fill="#3c3c3c" filter="url(#bl)"/>
<rect x="318.9" y="289" width="1.9" height="29.7" fill="#3c3c3c" filter="url(#bl)"/>
<rect x="323.4" y="289" width="1.6" height="25.2" fill="#424242" filter="url(#bl)"/>
<rect x="328.9" y="289" width="1.9" height="27.7" fill="#424242" filter="url(#bl)"/>
<rect x="333.9" y="289" width="1.9" height="34.8" fill="#363636" filter="url(#bl)"/>
<rect x="338.3" y="289" width="1.6" height="24.0" fill="#363636" filter="url(#bl)"/>
<rect x="343.3" y="289" width="2.2" height="34.5" fill="#424242" filter="url(#bl)"/>
<path id="m45" d="M209.50,290.00 C210.13,289.92 210.28,289.80 210.97,290.13 C211.67,290.47 212.94,291.00 213.68,292.02 C214.41,293.04 214.96,294.81 215.39,296.24 C215.81,297.67 215.95,299.21 216.24,300.58 C216.53,301.95 216.47,303.66 217.14,304.45 C217.82,305.25 218.86,304.71 220.28,305.36 C221.69,306.02 224.45,307.49 225.64,308.40 C226.84,309.31 227.08,309.80 227.44,310.81 C227.81,311.81 228.08,313.42 227.82,314.42 C227.55,315.41 226.13,315.40 225.87,316.78 C225.61,318.16 226.10,320.40 226.26,322.69 C226.43,324.98 226.54,328.06 226.85,330.53 C227.17,332.99 227.92,334.73 228.16,337.48 C228.39,340.23 228.35,344.08 228.24,347.03 C228.14,349.97 227.51,352.88 227.53,355.15 C227.55,357.42 228.23,358.84 228.35,360.64 C228.47,362.45 228.84,364.91 228.25,365.97 C227.65,367.03 225.82,367.44 224.78,366.99 C223.75,366.54 223.22,364.13 222.04,363.26 C220.85,362.39 219.07,361.64 217.67,361.75 C216.28,361.86 214.56,363.39 213.67,363.91 C212.78,364.43 212.87,364.91 212.35,364.88 C211.83,364.86 211.51,364.31 210.56,363.74 C209.61,363.16 207.97,361.65 206.65,361.45 C205.33,361.25 203.71,361.59 202.63,362.53 C201.56,363.47 201.09,366.50 200.20,367.10 C199.32,367.69 198.10,367.08 197.31,366.08 C196.53,365.09 195.47,363.06 195.49,361.15 C195.51,359.24 197.13,356.98 197.43,354.62 C197.72,352.26 197.33,349.83 197.25,347.00 C197.17,344.16 196.89,340.45 196.97,337.59 C197.05,334.72 197.60,332.31 197.72,329.81 C197.84,327.31 197.55,324.75 197.69,322.58 C197.84,320.41 198.66,318.17 198.59,316.78 C198.53,315.39 197.76,315.22 197.31,314.27 C196.86,313.32 195.69,312.05 195.90,311.09 C196.11,310.13 197.41,309.37 198.57,308.50 C199.72,307.63 201.66,306.54 202.83,305.88 C203.99,305.23 205.09,305.38 205.55,304.57 C206.02,303.77 205.56,302.42 205.63,301.05 C205.71,299.68 205.95,297.79 206.00,296.33 C206.04,294.87 205.70,293.23 205.90,292.28 C206.10,291.33 206.61,291.00 207.21,290.62 C207.81,290.24 208.87,290.08 209.50,290.00Z" fill="url(#mg)" filter="url(#bl)"/>
<ellipse cx="209.5" cy="296.9" rx="3.8" ry="5.5" fill="#dcdcdc" opacity="0.7" filter="url(#bl2)"/>
<ellipse cx="203.0" cy="312.6" rx="3.8" ry="4.7" fill="#e6e6e6" opacity="0.6" filter="url(#bl2)"/>
<ellipse cx="221.7" cy="312.6" rx="3.8" ry="4.7" fill="#e6e6e6" opacity="0.6" filter="url(#bl2)"/>
<ellipse cx="202.0" cy="359.6" rx="3.8" ry="3.9" fill="#ececec" opacity="0.7" filter="url(#bl2)"/>
<ellipse cx="222.7" cy="359.6" rx="3.8" ry="3.9" fill="#ececec" opacity="0.7" filter="url(#bl2)"/>
<path id="m46" d="M249.00,290.00 C249.66,289.98 249.95,289.77 250.57,290.11 C251.18,290.45 252.20,291.07 252.67,292.04 C253.14,293.02 253.11,294.48 253.36,295.97 C253.61,297.46 253.84,299.67 254.17,300.99 C254.51,302.32 254.66,303.12 255.37,303.92 C256.08,304.72 257.16,305.15 258.43,305.80 C259.69,306.45 261.87,307.00 262.95,307.83 C264.03,308.66 264.46,309.66 264.88,310.78 C265.31,311.90 265.74,313.48 265.49,314.55 C265.24,315.62 263.51,315.90 263.40,317.22 C263.29,318.54 264.71,320.33 264.85,322.48 C264.98,324.64 264.15,327.62 264.22,330.13 C264.29,332.65 265.04,334.82 265.26,337.58 C265.48,340.33 265.56,343.77 265.55,346.67 C265.55,349.57 265.12,352.52 265.24,354.98 C265.36,357.44 266.27,359.62 266.29,361.43 C266.31,363.23 266.19,364.97 265.38,365.81 C264.56,366.65 262.53,366.91 261.40,366.48 C260.27,366.05 259.61,364.02 258.60,363.21 C257.60,362.40 256.60,361.50 255.38,361.61 C254.15,361.71 252.18,363.31 251.24,363.85 C250.31,364.40 250.39,364.84 249.75,364.88 C249.11,364.93 248.22,364.59 247.42,364.12 C246.63,363.65 246.23,362.22 244.97,362.06 C243.71,361.90 241.05,362.43 239.88,363.18 C238.72,363.92 238.99,366.07 238.00,366.52 C237.00,366.97 234.65,366.78 233.91,365.88 C233.16,364.97 233.36,362.86 233.54,361.07 C233.71,359.28 234.82,357.55 234.95,355.16 C235.08,352.76 234.47,349.57 234.33,346.70 C234.18,343.84 234.06,340.71 234.07,337.98 C234.08,335.25 234.27,332.86 234.38,330.33 C234.50,327.81 234.55,325.06 234.75,322.84 C234.95,320.62 235.53,318.47 235.58,317.02 C235.63,315.57 235.35,315.16 235.06,314.13 C234.77,313.10 233.70,311.89 233.82,310.84 C233.95,309.79 234.69,308.59 235.80,307.83 C236.90,307.07 239.10,306.92 240.46,306.26 C241.83,305.60 243.35,304.81 243.98,303.86 C244.61,302.90 244.19,301.88 244.22,300.52 C244.25,299.16 244.07,297.03 244.18,295.72 C244.29,294.40 244.47,293.56 244.88,292.65 C245.28,291.73 245.91,290.68 246.60,290.24 C247.29,289.80 248.34,290.02 249.00,290.00Z" fill="url(#mg)" filter="url(#bl)"/>
<ellipse cx="249.0" cy="296.9" rx="3.8" ry="5.5" fill="#dcdcdc" opacity="0.7" filter="url(#bl2)"/>
<ellipse cx="240.3" cy="312.6" rx="3.8" ry="4.7" fill="#e6e6e6" opacity="0.6" filter="url(#bl2)"/>
<ellipse cx="259.2" cy="312.6" rx="3.8" ry="4.7" fill="#e6e6e6" opacity="0.6" filter="url(#bl2)"/>
<ellipse cx="239.4" cy="359.6" rx="3.8" ry="3.9" fill="#ececec" opacity="0.7" filter="url(#bl2)"/>
<ellipse cx="260.1" cy="359.6" rx="3.8" ry="3.9" fill="#ececec" opacity="0.7" filter="url(#bl2)"/>
<path id="m47" d="M287.60,290.00 C288.26,290.08 288.69,290.08 289.28,290.46 C289.87,290.83 290.75,291.30 291.14,292.24 C291.54,293.19 291.46,294.64 291.65,296.12 C291.83,297.60 292.00,299.80 292.25,301.11 C292.50,302.42 292.64,303.19 293.15,303.97 C293.67,304.75 294.25,305.10 295.36,305.77 C296.47,306.45 298.81,307.16 299.81,308.00 C300.81,308.85 301.18,309.80 301.35,310.85 C301.51,311.89 300.90,313.19 300.78,314.28 C300.67,315.37 300.65,315.97 300.66,317.40 C300.66,318.83 300.71,320.72 300.83,322.86 C300.96,325.01 301.24,327.82 301.40,330.26 C301.57,332.69 301.76,334.63 301.83,337.46 C301.89,340.29 302.02,344.32 301.81,347.23 C301.61,350.14 300.44,352.62 300.60,354.91 C300.75,357.21 302.61,359.18 302.75,361.01 C302.90,362.83 302.31,364.83 301.48,365.86 C300.65,366.88 298.86,367.70 297.77,367.17 C296.69,366.64 295.99,363.57 294.97,362.67 C293.95,361.76 292.87,361.55 291.67,361.75 C290.47,361.95 288.63,363.35 287.77,363.87 C286.90,364.40 286.95,364.90 286.45,364.88 C285.95,364.87 285.60,364.31 284.79,363.80 C283.97,363.29 282.80,361.98 281.55,361.82 C280.30,361.67 278.31,362.08 277.28,362.86 C276.26,363.64 276.43,365.98 275.40,366.52 C274.38,367.06 271.84,366.95 271.13,366.09 C270.42,365.23 270.96,363.30 271.16,361.36 C271.37,359.42 272.34,356.88 272.36,354.47 C272.37,352.06 271.41,349.66 271.26,346.90 C271.11,344.14 271.28,340.70 271.46,337.91 C271.65,335.13 272.14,332.79 272.39,330.21 C272.64,327.63 272.93,324.70 272.98,322.44 C273.03,320.17 272.87,318.05 272.71,316.63 C272.55,315.21 272.23,314.77 272.02,313.92 C271.81,313.08 271.19,312.50 271.45,311.57 C271.72,310.64 272.55,309.36 273.60,308.34 C274.65,307.32 276.58,306.11 277.73,305.47 C278.89,304.83 279.73,305.21 280.53,304.49 C281.33,303.76 282.14,302.55 282.53,301.11 C282.93,299.68 282.77,297.33 282.89,295.87 C283.02,294.41 282.89,293.36 283.29,292.37 C283.69,291.39 284.58,290.37 285.30,289.97 C286.02,289.58 286.94,289.92 287.60,290.00Z" fill="url(#mg)" filter="url(#bl)"/>
<ellipse cx="287.6" cy="296.9" rx="3.6" ry="5.5" fill="#dcdcdc" opacity="0.7" filter="url(#bl2)"/>
<ellipse cx="277.4" cy="312.6" rx="3.6" ry="4.7" fill="#e6e6e6" opacity="0.6" filter="url(#bl2)"/>
<ellipse cx="295.5" cy="312.6" rx="3.6" ry="4.7" fill="#e6e6e6" opacity="0.6" filter="url(#bl2)"/>
<ellipse cx="276.5" cy="359.6" rx="3.6" ry="3.9" fill="#ececec" opacity="0.7" filter="url(#bl2)"/>
<ellipse cx="296.4" cy="359.6" rx="3.6" ry="3.9" fill="#ececec" opacity="0.7" filter="url(#bl2)"/>
<path id="m48" d="M329.60,290.00 C330.21,289.95 331.18,289.53 331.63,289.90 C332.09,290.27 332.18,291.14 332.33,292.20 C332.49,293.26 332.48,294.86 332.56,296.26 C332.64,297.67 332.62,299.30 332.81,300.62 C333.00,301.95 333.11,303.33 333.71,304.21 C334.31,305.10 335.38,305.27 336.42,305.94 C337.46,306.60 339.08,307.26 339.94,308.20 C340.80,309.14 341.55,310.52 341.57,311.57 C341.60,312.63 340.46,313.60 340.11,314.55 C339.77,315.49 339.50,315.90 339.50,317.26 C339.50,318.63 340.06,320.60 340.13,322.73 C340.20,324.85 339.77,327.43 339.93,330.03 C340.10,332.62 340.90,335.50 341.12,338.28 C341.34,341.06 341.35,344.01 341.24,346.71 C341.12,349.40 340.39,352.04 340.45,354.48 C340.50,356.91 341.60,359.31 341.58,361.30 C341.56,363.30 340.92,365.56 340.32,366.44 C339.72,367.32 338.82,367.18 337.99,366.59 C337.17,366.00 336.28,363.69 335.35,362.90 C334.43,362.12 333.53,361.81 332.45,361.87 C331.37,361.93 329.68,362.78 328.88,363.28 C328.09,363.78 328.09,364.76 327.70,364.88 C327.31,365.00 327.19,364.51 326.52,364.00 C325.84,363.50 324.74,361.99 323.65,361.85 C322.55,361.70 320.93,362.35 319.94,363.13 C318.96,363.90 318.66,365.99 317.72,366.48 C316.77,366.98 314.94,366.94 314.27,366.08 C313.59,365.22 313.61,363.26 313.67,361.31 C313.72,359.36 314.44,356.82 314.59,354.40 C314.74,351.98 314.58,349.50 314.57,346.80 C314.56,344.11 314.50,341.06 314.53,338.21 C314.56,335.36 314.53,332.30 314.75,329.71 C314.96,327.13 315.67,324.85 315.80,322.72 C315.93,320.59 315.68,318.37 315.54,316.92 C315.40,315.47 315.18,314.97 314.96,314.00 C314.73,313.04 313.98,312.09 314.20,311.13 C314.42,310.17 315.13,309.16 316.27,308.24 C317.41,307.33 319.82,306.27 321.05,305.67 C322.28,305.07 323.11,305.53 323.65,304.65 C324.18,303.77 323.96,301.82 324.26,300.39 C324.57,298.95 325.13,297.38 325.47,296.05 C325.80,294.71 325.83,293.37 326.25,292.39 C326.66,291.41 327.42,290.57 327.98,290.17 C328.54,289.78 328.99,290.05 329.60,290.00Z" fill="url(#mg)" filter="url(#bl)"/>
<ellipse cx="329.6" cy="296.9" rx="3.2" ry="5.5" fill="#dcdcdc" opacity="0.7" filter="url(#bl2)"/>
<ellipse cx="319.7" cy="312.6" rx="3.2" ry="4.7" fill="#e6e6e6" opacity="0.6" filter="url(#bl2)"/>
<ellipse cx="335.7" cy="312.6" rx="3.2" ry="4.7" fill="#e6e6e6" opacity="0.6" filter="url(#bl2)"/>
<ellipse cx="318.9" cy="359.6" rx="3.2" ry="3.9" fill="#ececec" opacity="0.7" filter="url(#bl2)"/>
<ellipse cx="336.5" cy="359.6" rx="3.2" ry="3.9" fill="#ececec" opacity="0.7" filter="url(#bl2)"/>
<g filter="url(#texw)"><use href="#m45" fill="#000" filter="none"/><use href="#m46" fill="#000" filter="none"/><use href="#m47" fill="#000" filter="none"/><use href="#m48" fill="#000" filter="none"/></g>
<g filter="url(#texd)"><use href="#m45" fill="#000" filter="none"/><use href="#m46" fill="#000" filter="none"/><use href="#m47" fill="#000" filter="none"/><use href="#m48" fill="#000" filter="none"/></g>
<ellipse cx="214.5" cy="336.5" rx="3.8" ry="2.6" fill="#d00000" filter="url(#bl)"/>
<ellipse cx="218.6" cy="346.5" rx="6" ry="10.5" fill="url(#bg)" transform="rotate(-5 218.6 346.5)" filter="url(#bl)"/>
<ellipse cx="252.5" cy="337.5" rx="1.6" ry="1.4" fill="#900000" filter="url(#bl)"/>
<ellipse cx="256.1" cy="346.6" rx="4.6" ry="8.1" fill="url(#bg)" transform="rotate(0 256.1 346.6)" filter="url(#bl)"/>
<ellipse cx="293.4" cy="348.9" rx="4.6" ry="8.1" fill="url(#bg)" transform="rotate(0 293.4 348.9)" filter="url(#bl)"/>
<ellipse cx="336" cy="347.8" rx="4" ry="7" fill="url(#bg)" transform="rotate(0 336 347.8)" filter="url(#bl)"/>
</g>
<text x="10" y="21.4" font-size="12" text-anchor="start" style="font-family:'Liberation Sans',sans-serif;font-weight:bold" >(a)</text>
<text x="179.7" y="21.2" font-size="12" text-anchor="start" style="font-family:'Liberation Sans',sans-serif;font-weight:bold" >(b)</text>
<text x="74.5" y="19.8" font-size="11.5" text-anchor="start" style="font-family:'Liberation Sans',sans-serif;font-weight:bold" >L-PEG<tspan font-size="9" dy="2.6">2000</tspan></text>
<text x="224.8" y="19.5" font-size="11.5" text-anchor="start" style="font-family:'Liberation Sans',sans-serif;font-weight:bold" letter-spacing="0.28">L-PEG<tspan font-size="9" dy="2.6">2000</tspan><tspan dy="-2.6">-DBCO</tspan></text>
<text transform="translate(22.6,67.6) rotate(-90)" font-size="11" letter-spacing="0" text-anchor="middle" style="font-family:'Liberation Sans',sans-serif;font-weight:bold">24h</text>
<text transform="translate(22.6,145) rotate(-90)" font-size="11" letter-spacing="0" text-anchor="middle" style="font-family:'Liberation Sans',sans-serif;font-weight:bold">48h</text>
<text transform="translate(22.6,232.2) rotate(-90)" font-size="11" letter-spacing="0" text-anchor="middle" style="font-family:'Liberation Sans',sans-serif;font-weight:bold">72h</text>
<text transform="translate(22.6,323.7) rotate(-90)" font-size="11" letter-spacing="0.6" text-anchor="middle" style="font-family:'Liberation Sans',sans-serif;font-weight:bold">102h</text>
<rect x="354.3" y="25" width="6" height="343" fill="url(#cb)"/>
<text x="354" y="19.4" font-size="4.7" style="font-family:'Liberation Sans',sans-serif;fill:#3a3a3a" textLength="32" lengthAdjust="spacingAndGlyphs">Epi-fluorescence</text>
<line x1="360.3" y1="25.0" x2="363.5" y2="25.0" stroke="#333" stroke-width="0.8"/>
<line x1="360.3" y1="41.2" x2="362.0" y2="41.2" stroke="#333" stroke-width="0.8"/>
<line x1="360.3" y1="57.4" x2="362.0" y2="57.4" stroke="#333" stroke-width="0.8"/>
<line x1="360.3" y1="73.6" x2="362.0" y2="73.6" stroke="#333" stroke-width="0.8"/>
<line x1="360.3" y1="89.8" x2="362.0" y2="89.8" stroke="#333" stroke-width="0.8"/>
<line x1="360.3" y1="106.0" x2="363.5" y2="106.0" stroke="#333" stroke-width="0.8"/>
<line x1="360.3" y1="122.2" x2="362.0" y2="122.2" stroke="#333" stroke-width="0.8"/>
<line x1="360.3" y1="138.4" x2="362.0" y2="138.4" stroke="#333" stroke-width="0.8"/>
<line x1="360.3" y1="154.6" x2="362.0" y2="154.6" stroke="#333" stroke-width="0.8"/>
<line x1="360.3" y1="170.8" x2="362.0" y2="170.8" stroke="#333" stroke-width="0.8"/>
<line x1="360.3" y1="187.0" x2="363.5" y2="187.0" stroke="#333" stroke-width="0.8"/>
<line x1="360.3" y1="203.2" x2="362.0" y2="203.2" stroke="#333" stroke-width="0.8"/>
<line x1="360.3" y1="219.4" x2="362.0" y2="219.4" stroke="#333" stroke-width="0.8"/>
<line x1="360.3" y1="235.6" x2="362.0" y2="235.6" stroke="#333" stroke-width="0.8"/>
<line x1="360.3" y1="251.8" x2="362.0" y2="251.8" stroke="#333" stroke-width="0.8"/>
<line x1="360.3" y1="268.0" x2="363.5" y2="268.0" stroke="#333" stroke-width="0.8"/>
<line x1="360.3" y1="284.2" x2="362.0" y2="284.2" stroke="#333" stroke-width="0.8"/>
<line x1="360.3" y1="300.4" x2="362.0" y2="300.4" stroke="#333" stroke-width="0.8"/>
<line x1="360.3" y1="316.6" x2="362.0" y2="316.6" stroke="#333" stroke-width="0.8"/>
<line x1="360.3" y1="332.8" x2="362.0" y2="332.8" stroke="#333" stroke-width="0.8"/>
<line x1="360.3" y1="349.0" x2="363.5" y2="349.0" stroke="#333" stroke-width="0.8"/>
<line x1="360.3" y1="365.2" x2="362.0" y2="365.2" stroke="#333" stroke-width="0.8"/>
<text x="365.1" y="29.3" font-size="10.6" text-anchor="start" style="font-family:'Liberation Sans',sans-serif;font-weight:bold" >1.0</text>
<text x="365.5" y="110" font-size="9.5" text-anchor="start" style="font-family:'Liberation Sans',sans-serif;font-weight:bold" >0.8</text>
<text x="365.5" y="186.2" font-size="9.5" text-anchor="start" style="font-family:'Liberation Sans',sans-serif;font-weight:bold" >0.6</text>
<text x="365.5" y="196" font-size="9" text-anchor="start" style="font-family:'Liberation Sans',sans-serif;font-weight:bold" >×10<tspan font-size="6" dy="-3.5">8</tspan></text>
<text x="365.5" y="270.5" font-size="9.5" text-anchor="start" style="font-family:'Liberation Sans',sans-serif;font-weight:bold" >0.4</text>
<text x="365.5" y="352" font-size="9.5" text-anchor="start" style="font-family:'Liberation Sans',sans-serif;font-weight:bold" >0.2</text>
<line x1="452.3" y1="22.2" x2="452.3" y2="157.4" stroke="#5a5a5a" stroke-width="1.7"/>
<line x1="451.5" y1="154.4" x2="650.966" y2="154.4" stroke="#111" stroke-width="1.5"/>
<line x1="447.3" y1="154.4" x2="452.3" y2="154.4" stroke="#111" stroke-width="1.2"/>
<text x="445.3" y="158" font-size="10.2" text-anchor="end" style="font-family:'Liberation Sans',sans-serif;font-weight:bold" >0</text>
<line x1="447.3" y1="116.8" x2="452.3" y2="116.8" stroke="#111" stroke-width="1.2"/>
<text x="445.3" y="120.4" font-size="10.2" text-anchor="end" style="font-family:'Liberation Sans',sans-serif;font-weight:bold" >20</text>
<line x1="447.3" y1="79.2" x2="452.3" y2="79.2" stroke="#111" stroke-width="1.2"/>
<text x="445.3" y="82.8" font-size="10.2" text-anchor="end" style="font-family:'Liberation Sans',sans-serif;font-weight:bold" >40</text>
<line x1="447.3" y1="41.6" x2="452.3" y2="41.6" stroke="#111" stroke-width="1.2"/>
<text x="445.3" y="45.2" font-size="10.2" text-anchor="end" style="font-family:'Liberation Sans',sans-serif;font-weight:bold" >60</text>
<line x1="452.30" y1="154.4" x2="452.30" y2="158.7" stroke="#111" stroke-width="1.1"/>
<line x1="460.22" y1="154.4" x2="460.22" y2="157.2" stroke="#111" stroke-width="1.1"/>
<line x1="468.13" y1="154.4" x2="468.13" y2="157.2" stroke="#111" stroke-width="1.1"/>
<line x1="476.05" y1="154.4" x2="476.05" y2="157.2" stroke="#111" stroke-width="1.1"/>
<line x1="483.96" y1="154.4" x2="483.96" y2="157.2" stroke="#111" stroke-width="1.1"/>
<line x1="491.88" y1="154.4" x2="491.88" y2="157.2" stroke="#111" stroke-width="1.1"/>
<line x1="499.79" y1="154.4" x2="499.79" y2="157.2" stroke="#111" stroke-width="1.1"/>
<line x1="507.71" y1="154.4" x2="507.71" y2="157.2" stroke="#111" stroke-width="1.1"/>
<line x1="515.62" y1="154.4" x2="515.62" y2="157.2" stroke="#111" stroke-width="1.1"/>
<line x1="523.53" y1="154.4" x2="523.53" y2="157.2" stroke="#111" stroke-width="1.1"/>
<line x1="531.45" y1="154.4" x2="531.45" y2="158.7" stroke="#111" stroke-width="1.1"/>
<line x1="539.37" y1="154.4" x2="539.37" y2="157.2" stroke="#111" stroke-width="1.1"/>
<line x1="547.28" y1="154.4" x2="547.28" y2="157.2" stroke="#111" stroke-width="1.1"/>
<line x1="555.20" y1="154.4" x2="555.20" y2="157.2" stroke="#111" stroke-width="1.1"/>
<line x1="563.11" y1="154.4" x2="563.11" y2="157.2" stroke="#111" stroke-width="1.1"/>
<line x1="571.02" y1="154.4" x2="571.02" y2="157.2" stroke="#111" stroke-width="1.1"/>
<line x1="578.94" y1="154.4" x2="578.94" y2="157.2" stroke="#111" stroke-width="1.1"/>
<line x1="586.86" y1="154.4" x2="586.86" y2="157.2" stroke="#111" stroke-width="1.1"/>
<line x1="594.77" y1="154.4" x2="594.77" y2="157.2" stroke="#111" stroke-width="1.1"/>
<line x1="602.68" y1="154.4" x2="602.68" y2="157.2" stroke="#111" stroke-width="1.1"/>
<line x1="610.60" y1="154.4" x2="610.60" y2="158.7" stroke="#111" stroke-width="1.1"/>
<line x1="618.51" y1="154.4" x2="618.51" y2="157.2" stroke="#111" stroke-width="1.1"/>
<line x1="626.43" y1="154.4" x2="626.43" y2="157.2" stroke="#111" stroke-width="1.1"/>
<line x1="634.35" y1="154.4" x2="634.35" y2="157.2" stroke="#111" stroke-width="1.1"/>
<line x1="642.26" y1="154.4" x2="642.26" y2="157.2" stroke="#111" stroke-width="1.1"/>
<line x1="650.17" y1="154.4" x2="650.17" y2="157.2" stroke="#111" stroke-width="1.1"/>
<text x="452.3" y="170.6" font-size="10.2" text-anchor="middle" style="font-family:'Liberation Sans',sans-serif;font-weight:bold" >0</text>
<text x="531.45" y="170.6" font-size="10.2" text-anchor="middle" style="font-family:'Liberation Sans',sans-serif;font-weight:bold" >50</text>
<text x="610.6" y="170.6" font-size="10.2" text-anchor="middle" style="font-family:'Liberation Sans',sans-serif;font-weight:bold" >100</text>
<text x="405" y="23.6" font-size="11.5" text-anchor="start" style="font-family:'Liberation Sans',sans-serif;font-weight:bold" >(c)</text>
<text transform="translate(428,87.4) rotate(-90)" font-size="9.6" text-anchor="middle" style="font-family:'Liberation Sans',sans-serif;font-weight:bold">Accumulated rate to tumor</text>
<text x="551.6" y="185.3" font-size="9.85" text-anchor="middle" style="font-family:'Liberation Sans',sans-serif;font-weight:bold" >Time after administration (h)</text>
<line x1="452.3" y1="134.8" x2="642.26" y2="134.8" stroke="#000" stroke-width="1.8"/>
<polyline points="452.30,135.60 453.09,125.78 453.88,117.93 454.67,111.50 455.47,106.15 456.26,101.62 457.05,97.73 457.84,94.37 458.63,91.42 459.42,88.82 460.22,86.51 461.01,84.44 461.80,82.58 462.59,80.90 463.38,79.37 464.17,77.97 464.96,76.69 465.76,75.52 466.55,74.43 467.34,73.42 468.13,72.49 471.30,69.33 474.46,66.88 477.63,64.91 480.79,63.31 483.96,61.97 487.13,60.83 490.29,59.86 493.46,59.02 496.62,58.29 499.79,57.64 502.96,57.06 506.12,56.54 509.29,56.08 512.45,55.66 515.62,55.27 518.79,54.92 521.95,54.60 525.12,54.31 528.28,54.04 531.45,53.79 534.62,53.55 537.78,53.33 540.95,53.13 544.11,52.94 547.28,52.76 550.45,52.60 553.61,52.44 556.78,52.29 559.94,52.15 563.11,52.02 566.28,51.89 569.44,51.77 572.61,51.66 575.77,51.55 578.94,51.45 582.11,51.35 585.27,51.26 588.44,51.17 591.60,51.08 594.77,51.00 597.94,50.92 601.10,50.85 604.27,50.77 607.43,50.71 610.60,50.64 613.77,50.57 616.93,50.51 620.10,50.45 623.26,50.40 626.43,50.34 629.60,50.29 632.76,50.24 635.93,50.19 639.09,50.14 642.26,50.09" fill="none" stroke="#1bee1b" stroke-width="2.2"/>
<line x1="490.292" y1="119.056" x2="490.292" y2="137.48" stroke="#333" stroke-width="0.9"/>
<line x1="487.992" y1="137.48" x2="492.592" y2="137.48" stroke="#333" stroke-width="0.9"/>
<line x1="487.992" y1="119.056" x2="492.592" y2="119.056" stroke="#333" stroke-width="0.9"/>
<circle cx="490.292" cy="128.268" r="2.9" fill="#000"/>
<line x1="528.284" y1="127.516" x2="528.284" y2="138.984" stroke="#333" stroke-width="0.9"/>
<line x1="525.984" y1="138.984" x2="530.584" y2="138.984" stroke="#333" stroke-width="0.9"/>
<line x1="525.984" y1="127.516" x2="530.584" y2="127.516" stroke="#333" stroke-width="0.9"/>
<circle cx="528.284" cy="133.532" r="2.9" fill="#000"/>
<line x1="566.276" y1="129.772" x2="566.276" y2="144.624" stroke="#333" stroke-width="0.9"/>
<line x1="563.976" y1="144.624" x2="568.576" y2="144.624" stroke="#333" stroke-width="0.9"/>
<line x1="563.976" y1="129.772" x2="568.576" y2="129.772" stroke="#333" stroke-width="0.9"/>
<circle cx="566.276" cy="136.916" r="2.9" fill="#000"/>
<line x1="642.26" y1="131.464" x2="642.26" y2="148.948" stroke="#333" stroke-width="0.9"/>
<line x1="639.96" y1="148.948" x2="644.56" y2="148.948" stroke="#333" stroke-width="0.9"/>
<line x1="639.96" y1="131.464" x2="644.56" y2="131.464" stroke="#333" stroke-width="0.9"/>
<circle cx="642.26" cy="140.3" r="2.9" fill="#000"/>
<circle cx="452.3" cy="154.4" r="2.6" fill="#000"/>
<line x1="490.292" y1="43.668" x2="490.292" y2="72.432" stroke="#1bee1b" stroke-width="0.9"/>
<line x1="487.992" y1="72.432" x2="492.592" y2="72.432" stroke="#1bee1b" stroke-width="0.9"/>
<line x1="487.992" y1="43.668" x2="492.592" y2="43.668" stroke="#1bee1b" stroke-width="0.9"/>
<path d="M490.292,56.46 L487.692,61.46 L492.892,61.46 Z" fill="#1bee1b"/>
<line x1="528.284" y1="51.188" x2="528.284" y2="63.032" stroke="#1bee1b" stroke-width="0.9"/>
<line x1="525.984" y1="63.032" x2="530.584" y2="63.032" stroke="#1bee1b" stroke-width="0.9"/>
<line x1="525.984" y1="51.188" x2="530.584" y2="51.188" stroke="#1bee1b" stroke-width="0.9"/>
<path d="M528.284,54.58 L525.684,59.58 L530.884,59.58 Z" fill="#1bee1b"/>
<line x1="566.276" y1="42.728" x2="566.276" y2="56.264" stroke="#1bee1b" stroke-width="0.9"/>
<line x1="563.976" y1="56.264" x2="568.576" y2="56.264" stroke="#1bee1b" stroke-width="0.9"/>
<line x1="563.976" y1="42.728" x2="568.576" y2="42.728" stroke="#1bee1b" stroke-width="0.9"/>
<path d="M566.276,46.684 L563.676,51.684 L568.876,51.684 Z" fill="#1bee1b"/>
<line x1="642.26" y1="39.156" x2="642.26" y2="60.212" stroke="#1bee1b" stroke-width="0.9"/>
<line x1="639.96" y1="60.212" x2="644.56" y2="60.212" stroke="#1bee1b" stroke-width="0.9"/>
<line x1="639.96" y1="39.156" x2="644.56" y2="39.156" stroke="#1bee1b" stroke-width="0.9"/>
<path d="M642.26,47.624 L639.66,52.624 L644.86,52.624 Z" fill="#1bee1b"/>
<line x1="469" y1="26.2" x2="482" y2="26.2" stroke="#000" stroke-width="1.5"/><circle cx="475.5" cy="26.2" r="2.3" fill="#000"/>
<text x="485.6" y="28.5" font-size="9.3" text-anchor="start" style="font-family:'Liberation Sans',sans-serif;font-weight:bold" >L-PEG<tspan font-size="7.5" dy="1.6">2000</tspan></text>
<line x1="546.6" y1="25.8" x2="561.2" y2="25.8" stroke="#1bee1b" stroke-width="1.5"/><path d="M553.9,23.3 L551.6,27.5 L556.2,27.5Z" fill="#1bee1b"/>
<text x="564.8" y="28.5" font-size="9.3" text-anchor="start" style="font-family:'Liberation Sans',sans-serif;font-weight:bold" >L-PEG<tspan font-size="7.5" dy="1.6">2000</tspan><tspan dy="-1.6">-DBCO</tspan></text>
<path d="M453.1,40.5 L457.9,40.5 L457.9,47.5 L459.4,47.5 L455.5,56 L451.6,47.5 L453.1,47.5 Z" fill="#2a2ade"/>
<path d="M595.1,67.6 L599.9,67.6 L599.9,59.9 L601.9,59.9 L597.5,52 L593.1,59.9 L595.1,59.9 Z" fill="#2a2ade"/>
<text x="461.2" y="42.2" font-size="11.7" text-anchor="start" style="font-family:'Liberation Sans',sans-serif;font-weight:bold" >1<tspan font-size="8.5" dy="-4.6">st</tspan><tspan dy="4.6"> injection</tspan></text>
<text x="565" y="82.8" font-size="11.9" text-anchor="start" style="font-family:'Liberation Sans',sans-serif;font-weight:bold" >2<tspan font-size="8.5" dy="-4.6">nd</tspan><tspan dy="4.6"> injection</tspan></text>
<line x1="451.2" y1="200.5" x2="451.2" y2="341" stroke="#111" stroke-width="1.7"/>
<line x1="450.4" y1="338" x2="656.575" y2="338" stroke="#111" stroke-width="1.5"/>
<line x1="446.2" y1="338" x2="451.2" y2="338" stroke="#111" stroke-width="1.2"/>
<text x="444.2" y="341.6" font-size="10.4" text-anchor="end" style="font-family:'Liberation Sans',sans-serif;font-weight:bold" >0</text>
<line x1="446.2" y1="300.599" x2="451.2" y2="300.599" stroke="#111" stroke-width="1.2"/>
<text x="444.2" y="304.199" font-size="10.4" text-anchor="end" style="font-family:'Liberation Sans',sans-serif;font-weight:bold" >30</text>
<line x1="446.2" y1="263.198" x2="451.2" y2="263.198" stroke="#111" stroke-width="1.2"/>
<text x="444.2" y="266.798" font-size="10.4" text-anchor="end" style="font-family:'Liberation Sans',sans-serif;font-weight:bold" >60</text>
<line x1="446.2" y1="225.797" x2="451.2" y2="225.797" stroke="#111" stroke-width="1.2"/>
<text x="444.2" y="229.397" font-size="10.4" text-anchor="end" style="font-family:'Liberation Sans',sans-serif;font-weight:bold" >90</text>
<line x1="451.20" y1="338" x2="451.20" y2="342.3" stroke="#111" stroke-width="1.1"/>
<line x1="459.41" y1="338" x2="459.41" y2="340.8" stroke="#111" stroke-width="1.1"/>
<line x1="467.63" y1="338" x2="467.63" y2="340.8" stroke="#111" stroke-width="1.1"/>
<line x1="475.84" y1="338" x2="475.84" y2="340.8" stroke="#111" stroke-width="1.1"/>
<line x1="484.06" y1="338" x2="484.06" y2="340.8" stroke="#111" stroke-width="1.1"/>
<line x1="492.27" y1="338" x2="492.27" y2="340.8" stroke="#111" stroke-width="1.1"/>
<line x1="500.49" y1="338" x2="500.49" y2="340.8" stroke="#111" stroke-width="1.1"/>
<line x1="508.70" y1="338" x2="508.70" y2="340.8" stroke="#111" stroke-width="1.1"/>
<line x1="516.92" y1="338" x2="516.92" y2="340.8" stroke="#111" stroke-width="1.1"/>
<line x1="525.13" y1="338" x2="525.13" y2="340.8" stroke="#111" stroke-width="1.1"/>
<line x1="533.35" y1="338" x2="533.35" y2="342.3" stroke="#111" stroke-width="1.1"/>
<line x1="541.56" y1="338" x2="541.56" y2="340.8" stroke="#111" stroke-width="1.1"/>
<line x1="549.78" y1="338" x2="549.78" y2="340.8" stroke="#111" stroke-width="1.1"/>
<line x1="558.00" y1="338" x2="558.00" y2="340.8" stroke="#111" stroke-width="1.1"/>
<line x1="566.21" y1="338" x2="566.21" y2="340.8" stroke="#111" stroke-width="1.1"/>
<line x1="574.42" y1="338" x2="574.42" y2="340.8" stroke="#111" stroke-width="1.1"/>
<line x1="582.64" y1="338" x2="582.64" y2="340.8" stroke="#111" stroke-width="1.1"/>
<line x1="590.86" y1="338" x2="590.86" y2="340.8" stroke="#111" stroke-width="1.1"/>
<line x1="599.07" y1="338" x2="599.07" y2="340.8" stroke="#111" stroke-width="1.1"/>
<line x1="607.28" y1="338" x2="607.28" y2="340.8" stroke="#111" stroke-width="1.1"/>
<line x1="615.50" y1="338" x2="615.50" y2="342.3" stroke="#111" stroke-width="1.1"/>
<line x1="623.72" y1="338" x2="623.72" y2="340.8" stroke="#111" stroke-width="1.1"/>
<line x1="631.93" y1="338" x2="631.93" y2="340.8" stroke="#111" stroke-width="1.1"/>
<line x1="640.14" y1="338" x2="640.14" y2="340.8" stroke="#111" stroke-width="1.1"/>
<line x1="648.36" y1="338" x2="648.36" y2="340.8" stroke="#111" stroke-width="1.1"/>
<line x1="656.58" y1="338" x2="656.58" y2="340.8" stroke="#111" stroke-width="1.1"/>
<text x="451.2" y="355.5" font-size="10.4" text-anchor="middle" style="font-family:'Liberation Sans',sans-serif;font-weight:bold" >0</text>
<text x="533.35" y="355.5" font-size="10.4" text-anchor="middle" style="font-family:'Liberation Sans',sans-serif;font-weight:bold" >50</text>
<text x="615.5" y="355.5" font-size="10.4" text-anchor="middle" style="font-family:'Liberation Sans',sans-serif;font-weight:bold" >100</text>
<text x="403" y="204" font-size="11.5" text-anchor="start" style="font-family:'Liberation Sans',sans-serif;font-weight:bold" >(d)</text>
<text transform="translate(425.6,268.9) rotate(-90)" font-size="10.35" text-anchor="middle" style="font-family:'Liberation Sans',sans-serif;font-weight:bold">Accumulated rate to liver</text>
<text x="554.15" y="371.5" font-size="10.25" text-anchor="middle" style="font-family:'Liberation Sans',sans-serif;font-weight:bold" >Time after administration (h)</text>
<polyline points="451.20,219.56 452.84,225.02 454.49,229.26 456.13,232.65 457.77,235.43 459.41,237.74 461.06,239.70 462.70,241.38 464.34,242.84 465.99,244.11 467.63,245.23 469.27,246.23 470.92,247.12 472.56,247.93 474.20,248.65 475.84,249.31 477.49,249.92 479.13,250.47 480.77,250.98 482.42,251.45 484.06,251.89 485.70,252.29 487.35,252.67 488.99,253.02 490.63,253.35 492.27,253.65 493.92,253.94 495.56,254.21 497.20,254.47 498.85,254.71 500.49,254.94 502.13,255.16 503.78,255.37 505.42,255.56 507.06,255.75 508.70,255.93 510.35,256.09 511.99,256.26 513.63,256.41 515.28,256.56 516.92,256.70 518.56,256.83 520.21,256.96 521.85,257.09 523.49,257.21 525.13,257.32 526.78,257.43 528.42,257.54 530.06,257.64 531.71,257.74 533.35,257.84 534.99,257.93 536.64,258.02 538.28,258.11 539.92,258.19 541.56,258.27 543.21,258.35 544.85,258.43 546.49,258.50 548.14,258.57 549.78,258.64 551.42,258.71 553.07,258.77 554.71,258.83 556.35,258.90 558.00,258.96 559.64,259.01 561.28,259.07 562.92,259.13 564.57,259.18 566.21,259.23 567.85,259.28 569.50,259.33 571.14,259.38 572.78,259.43 574.42,259.47 576.07,259.52 577.71,259.56 579.35,259.60 581.00,259.65 582.64,259.69 584.28,259.73 585.93,259.77 587.57,259.80 589.21,259.84 590.86,259.88 592.50,259.91 594.14,259.95 595.78,259.98 597.43,260.02 599.07,260.05 600.71,260.08 602.36,260.11 604.00,260.14 605.64,260.17 607.28,260.20 608.93,260.23 610.57,260.26 612.21,260.29 613.86,260.32 615.50,260.34 617.14,260.37 618.79,260.40 620.43,260.42 622.07,260.45 623.72,260.47 625.36,260.49 627.00,260.52 628.64,260.54 630.29,260.56 631.93,260.59 633.57,260.61 635.22,260.63 636.86,260.65 638.50,260.67 640.14,260.69 641.79,260.71 643.43,260.73 645.07,260.75 646.72,260.77 648.36,260.79 650.00,260.81" fill="none" stroke="#000" stroke-width="2"/>
<polyline points="451.20,235.77 452.02,241.75 452.84,246.96 453.66,251.54 454.49,255.60 455.31,259.23 456.13,262.49 456.95,265.43 457.77,268.09 458.59,270.52 459.41,272.75 460.24,274.79 461.06,276.68 461.88,278.42 462.70,280.04 463.52,281.54 464.34,282.94 465.17,284.25 465.99,285.48 466.81,286.63 467.63,287.72 470.92,291.47 474.20,294.51 477.49,297.01 480.77,299.11 484.06,300.90 487.35,302.43 490.63,303.77 493.92,304.95 497.20,305.99 500.49,306.91 503.78,307.75 507.06,308.49 510.35,309.17 513.63,309.79 516.92,310.36 520.21,310.88 523.49,311.36 526.78,311.80 530.06,312.21 533.35,312.59 536.64,312.95 539.92,313.28 543.21,313.59 546.49,313.88 549.78,314.16 553.07,314.41 556.35,314.66 559.64,314.89 562.92,315.11 566.21,315.31 569.50,315.51 572.78,315.70 576.07,315.87 579.35,316.04 582.64,316.20 585.93,316.36 589.21,316.50 592.50,316.64 595.78,316.78 599.07,316.91 602.36,317.03 605.64,317.15 608.93,317.27 612.21,317.38 615.50,317.48 618.79,317.59 622.07,317.68 625.36,317.78 628.64,317.87 631.93,317.96 635.22,318.04 638.50,318.13 641.79,318.21 645.07,318.28 648.36,318.36" fill="none" stroke="#1bee1b" stroke-width="2.2"/>
<circle cx="451.2" cy="213.33" r="2.9" fill="#000"/>
<line x1="490.632" y1="259.458" x2="490.632" y2="269.432" stroke="#333" stroke-width="0.9"/>
<line x1="488.332" y1="269.432" x2="492.932" y2="269.432" stroke="#333" stroke-width="0.9"/>
<line x1="488.332" y1="259.458" x2="492.932" y2="259.458" stroke="#333" stroke-width="0.9"/>
<circle cx="490.632" cy="264.445" r="2.9" fill="#000"/>
<line x1="530.064" y1="255.718" x2="530.064" y2="263.198" stroke="#333" stroke-width="0.9"/>
<line x1="527.764" y1="263.198" x2="532.364" y2="263.198" stroke="#333" stroke-width="0.9"/>
<line x1="527.764" y1="255.718" x2="532.364" y2="255.718" stroke="#333" stroke-width="0.9"/>
<circle cx="530.064" cy="259.458" r="2.9" fill="#000"/>
<line x1="569.496" y1="251.978" x2="569.496" y2="259.458" stroke="#333" stroke-width="0.9"/>
<line x1="567.196" y1="259.458" x2="571.796" y2="259.458" stroke="#333" stroke-width="0.9"/>
<line x1="567.196" y1="251.978" x2="571.796" y2="251.978" stroke="#333" stroke-width="0.9"/>
<circle cx="569.496" cy="255.718" r="2.9" fill="#000"/>
<line x1="648.36" y1="248.238" x2="648.36" y2="258.835" stroke="#333" stroke-width="0.9"/>
<line x1="646.06" y1="258.835" x2="650.66" y2="258.835" stroke="#333" stroke-width="0.9"/>
<line x1="646.06" y1="248.238" x2="650.66" y2="248.238" stroke="#333" stroke-width="0.9"/>
<circle cx="648.36" cy="254.471" r="2.9" fill="#000"/>
<line x1="490.632" y1="305.586" x2="490.632" y2="319.923" stroke="#1bee1b" stroke-width="0.9"/>
<line x1="488.332" y1="319.923" x2="492.932" y2="319.923" stroke="#1bee1b" stroke-width="0.9"/>
<line x1="488.332" y1="305.586" x2="492.932" y2="305.586" stroke="#1bee1b" stroke-width="0.9"/>
<path d="M490.632,310.066 L488.032,315.066 L493.232,315.066 Z" fill="#1bee1b"/>
<line x1="530.064" y1="311.196" x2="530.064" y2="315.559" stroke="#1bee1b" stroke-width="0.9"/>
<line x1="527.764" y1="315.559" x2="532.364" y2="315.559" stroke="#1bee1b" stroke-width="0.9"/>
<line x1="527.764" y1="311.196" x2="532.364" y2="311.196" stroke="#1bee1b" stroke-width="0.9"/>
<path d="M530.064,310.689 L527.464,315.689 L532.664,315.689 Z" fill="#1bee1b"/>
<path d="M569.496,316.923 L566.896,321.923 L572.096,321.923 Z" fill="#1bee1b"/>
<line x1="648.36" y1="314.313" x2="648.36" y2="321.793" stroke="#1bee1b" stroke-width="0.9"/>
<line x1="646.06" y1="321.793" x2="650.66" y2="321.793" stroke="#1bee1b" stroke-width="0.9"/>
<line x1="646.06" y1="314.313" x2="650.66" y2="314.313" stroke="#1bee1b" stroke-width="0.9"/>
<path d="M648.36,315.676 L645.76,320.676 L650.96,320.676 Z" fill="#1bee1b"/>
<line x1="470.6" y1="207.4" x2="484.5" y2="207.4" stroke="#000" stroke-width="1.5"/><circle cx="477.5" cy="207.4" r="2.3" fill="#000"/>
<text x="488" y="210" font-size="9.4" text-anchor="start" style="font-family:'Liberation Sans',sans-serif;font-weight:bold" >L-PEG<tspan font-size="7.6" dy="1.6">2000</tspan></text>
<line x1="548.6" y1="207.4" x2="562.5" y2="207.4" stroke="#1bee1b" stroke-width="1.5"/><path d="M555.5,205 L553.2,209.2 L557.8,209.2Z" fill="#1bee1b"/>
<text x="566.5" y="210" font-size="9.4" text-anchor="start" style="font-family:'Liberation Sans',sans-serif;font-weight:bold" >L-PEG<tspan font-size="7.6" dy="1.6">2000</tspan><tspan dy="-1.6">-DBCO</tspan></text>
<path d="M452.7,247.3 L456.9,247.3 L456.9,239.5 L458.5,239.5 L454.8,231.1 L451.1,239.5 L452.7,239.5 Z" fill="#2a2ade"/>
<path d="M600.1,234.5 L604.9,234.5 L604.9,242.6 L606.35,242.6 L602.5,251.6 L598.65,242.6 L600.1,242.6 Z" fill="#2a2ade"/>
<text x="465.8" y="239.3" font-size="11.8" text-anchor="start" style="font-family:'Liberation Sans',sans-serif;font-weight:bold" >1<tspan font-size="8.6" dy="-4.8">st</tspan><tspan dy="4.8"> injection</tspan></text>
<text x="569.6" y="230.5" font-size="12.2" text-anchor="start" style="font-family:'Liberation Sans',sans-serif;font-weight:bold" >2<tspan font-size="8.7" dy="-4.8">nd</tspan><tspan dy="4.8"> injection</tspan></text>
<line x1="0.8" y1="1.5" x2="668.2" y2="1.5" stroke="#151515" stroke-width="1.3"/>
<line x1="667.4" y1="0.8" x2="667.4" y2="386.2" stroke="#151515" stroke-width="1.2"/>
<line x1="1.8" y1="0.8" x2="1.8" y2="386.2" stroke="#3a3a3a" stroke-width="1.5"/>
<line x1="0.8" y1="385.3" x2="668.2" y2="385.3" stroke="#3a3a3a" stroke-width="1.4"/></svg>
</body></html>
